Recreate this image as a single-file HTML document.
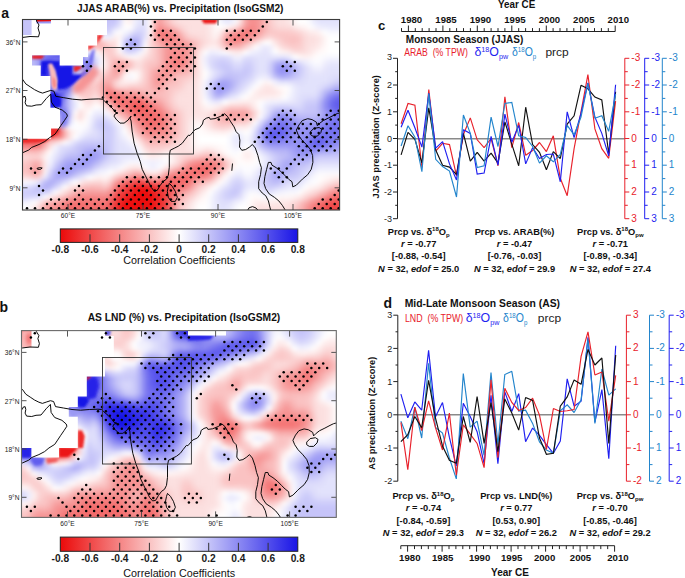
<!DOCTYPE html><html><head><meta charset="utf-8"><style>html,body{margin:0;padding:0;background:#fff;overflow:hidden}svg{display:block}text{font-family:"Liberation Sans",sans-serif}</style></head><body><svg width="685" height="578" viewBox="0 0 685 578" font-family='"Liberation Sans", sans-serif'><rect width="685" height="578" fill="#fff"/><clipPath id="clipA"><rect x="22.5" y="19.5" width="317.1" height="190.5"/></clipPath><filter id="blurA" x="-10%" y="-10%" width="120%" height="120%"><feGaussianBlur stdDeviation="2.2"/></filter><g clip-path="url(#clipA)"><g filter="url(#blurA)"><path fill="#c6c4f9" d="M2.5 -0.5h55.4v5.4h-55.4zM97.5 -0.5h20.4v5.4h-20.4zM2.5 4.5h55.4v5.4h-55.4zM97.5 4.5h20.4v5.4h-20.4zM2.5 9.5h55.4v5.4h-55.4zM97.5 9.5h20.4v5.4h-20.4zM2.5 14.5h55.4v5.4h-55.4zM97.5 14.5h20.4v5.4h-20.4zM2.5 19.5h55.4v5.4h-55.4zM97.5 19.5h20.4v5.4h-20.4zM2.5 24.5h45.4v5.4h-45.4zM2.5 29.5h45.4v5.4h-45.4zM2.5 34.5h35.4v5.4h-35.4zM2.5 39.5h35.4v5.4h-35.4zM2.5 44.5h25.4v5.4h-25.4zM2.5 49.5h25.4v5.4h-25.4zM2.5 54.5h25.4v5.4h-25.4zM2.5 59.5h25.4v5.4h-25.4zM2.5 64.5h25.4v5.4h-25.4zM2.5 69.5h25.4v5.4h-25.4zM307.5 104.5h10.4v5.4h-10.4zM307.5 109.5h10.4v5.4h-10.4z"/><path fill="#eae9fd" d="M57.5 -0.5h5.4v5.4h-5.4zM57.5 4.5h5.4v5.4h-5.4zM57.5 9.5h5.4v5.4h-5.4zM57.5 14.5h5.4v5.4h-5.4zM57.5 19.5h5.4v5.4h-5.4zM212.5 99.5h5.4v5.4h-5.4z"/><path fill="#fbc9c9" d="M62.5 -0.5h5.4v5.4h-5.4zM167.5 -0.5h5.4v5.4h-5.4zM267.5 -0.5h5.4v5.4h-5.4zM62.5 4.5h5.4v5.4h-5.4zM167.5 4.5h5.4v5.4h-5.4zM267.5 4.5h5.4v5.4h-5.4zM62.5 9.5h5.4v5.4h-5.4zM167.5 9.5h5.4v5.4h-5.4zM267.5 9.5h5.4v5.4h-5.4zM62.5 14.5h5.4v5.4h-5.4zM167.5 14.5h5.4v5.4h-5.4zM267.5 14.5h5.4v5.4h-5.4zM62.5 19.5h5.4v5.4h-5.4zM167.5 19.5h5.4v5.4h-5.4zM267.5 19.5h5.4v5.4h-5.4zM277.5 29.5h10.4v5.4h-10.4zM297.5 34.5h5.4v5.4h-5.4zM297.5 39.5h5.4v5.4h-5.4zM107.5 44.5h5.4v5.4h-5.4zM152.5 44.5h5.4v5.4h-5.4zM107.5 49.5h5.4v5.4h-5.4zM152.5 49.5h5.4v5.4h-5.4zM82.5 89.5h5.4v5.4h-5.4zM167.5 94.5h5.4v5.4h-5.4zM167.5 99.5h5.4v5.4h-5.4zM177.5 114.5h5.4v5.4h-5.4zM212.5 114.5h5.4v5.4h-5.4zM177.5 119.5h5.4v5.4h-5.4zM212.5 119.5h5.4v5.4h-5.4zM177.5 124.5h5.4v5.4h-5.4zM177.5 129.5h5.4v5.4h-5.4zM147.5 144.5h10.4v5.4h-10.4zM2.5 159.5h25.4v5.4h-25.4zM177.5 204.5h5.4v5.4h-5.4zM292.5 204.5h5.4v5.4h-5.4zM177.5 209.5h5.4v5.4h-5.4zM292.5 209.5h5.4v5.4h-5.4zM177.5 214.5h5.4v5.4h-5.4zM292.5 214.5h5.4v5.4h-5.4zM177.5 219.5h5.4v5.4h-5.4zM292.5 219.5h5.4v5.4h-5.4zM177.5 224.5h5.4v5.4h-5.4zM292.5 224.5h5.4v5.4h-5.4z"/><path fill="#f79e9e" d="M67.5 -0.5h5.4v5.4h-5.4zM67.5 4.5h5.4v5.4h-5.4zM67.5 9.5h5.4v5.4h-5.4zM67.5 14.5h5.4v5.4h-5.4zM67.5 19.5h5.4v5.4h-5.4zM187.5 159.5h5.4v5.4h-5.4z"/><path fill="#f69595" d="M72.5 -0.5h5.4v5.4h-5.4zM72.5 4.5h5.4v5.4h-5.4zM72.5 9.5h5.4v5.4h-5.4zM72.5 14.5h5.4v5.4h-5.4zM72.5 19.5h5.4v5.4h-5.4zM217.5 164.5h5.4v5.4h-5.4z"/><path fill="#f8a7a7" d="M77.5 -0.5h5.4v5.4h-5.4zM77.5 4.5h5.4v5.4h-5.4zM77.5 9.5h5.4v5.4h-5.4zM77.5 14.5h5.4v5.4h-5.4zM77.5 19.5h5.4v5.4h-5.4zM222.5 39.5h5.4v5.4h-5.4z"/><path fill="#fcd4d4" d="M82.5 -0.5h5.4v5.4h-5.4zM82.5 4.5h5.4v5.4h-5.4zM82.5 9.5h5.4v5.4h-5.4zM82.5 14.5h5.4v5.4h-5.4zM82.5 19.5h5.4v5.4h-5.4zM52.5 139.5h5.4v5.4h-5.4z"/><path fill="#ffffff" d="M87.5 -0.5h5.4v5.4h-5.4zM297.5 -0.5h10.4v5.4h-10.4zM87.5 4.5h5.4v5.4h-5.4zM297.5 4.5h10.4v5.4h-10.4zM87.5 9.5h5.4v5.4h-5.4zM297.5 9.5h10.4v5.4h-10.4zM87.5 14.5h5.4v5.4h-5.4zM297.5 14.5h10.4v5.4h-10.4zM87.5 19.5h5.4v5.4h-5.4zM297.5 19.5h10.4v5.4h-10.4zM327.5 34.5h35.4v5.4h-35.4zM117.5 39.5h5.4v5.4h-5.4zM327.5 39.5h35.4v5.4h-35.4zM117.5 44.5h5.4v5.4h-5.4zM327.5 44.5h35.4v5.4h-35.4zM222.5 49.5h5.4v5.4h-5.4zM327.5 49.5h35.4v5.4h-35.4zM252.5 84.5h5.4v5.4h-5.4zM247.5 89.5h5.4v5.4h-5.4zM77.5 104.5h5.4v5.4h-5.4zM92.5 104.5h5.4v5.4h-5.4zM87.5 109.5h5.4v5.4h-5.4zM197.5 134.5h30.4v5.4h-30.4zM197.5 139.5h30.4v5.4h-30.4zM242.5 144.5h5.4v5.4h-5.4zM237.5 149.5h5.4v5.4h-5.4zM212.5 184.5h5.4v5.4h-5.4zM302.5 184.5h5.4v5.4h-5.4zM207.5 189.5h5.4v5.4h-5.4zM297.5 189.5h5.4v5.4h-5.4zM2.5 204.5h25.4v5.4h-25.4zM197.5 204.5h10.4v5.4h-10.4zM237.5 204.5h10.4v5.4h-10.4zM2.5 209.5h25.4v5.4h-25.4zM197.5 209.5h10.4v5.4h-10.4zM237.5 209.5h10.4v5.4h-10.4zM2.5 214.5h25.4v5.4h-25.4zM197.5 214.5h10.4v5.4h-10.4zM237.5 214.5h10.4v5.4h-10.4zM2.5 219.5h25.4v5.4h-25.4zM197.5 219.5h10.4v5.4h-10.4zM237.5 219.5h10.4v5.4h-10.4zM2.5 224.5h25.4v5.4h-25.4zM197.5 224.5h10.4v5.4h-10.4zM237.5 224.5h10.4v5.4h-10.4z"/><path fill="#d9d8fb" d="M92.5 -0.5h5.4v5.4h-5.4zM92.5 4.5h5.4v5.4h-5.4zM92.5 9.5h5.4v5.4h-5.4zM92.5 14.5h5.4v5.4h-5.4zM92.5 19.5h5.4v5.4h-5.4zM87.5 74.5h5.4v5.4h-5.4zM92.5 119.5h5.4v5.4h-5.4zM52.5 159.5h5.4v5.4h-5.4zM97.5 164.5h5.4v5.4h-5.4zM277.5 184.5h5.4v5.4h-5.4zM32.5 194.5h5.4v5.4h-5.4z"/><path fill="#dbdafb" d="M117.5 -0.5h5.4v5.4h-5.4zM117.5 4.5h5.4v5.4h-5.4zM117.5 9.5h5.4v5.4h-5.4zM117.5 14.5h5.4v5.4h-5.4zM117.5 19.5h5.4v5.4h-5.4zM217.5 54.5h10.4v5.4h-10.4zM252.5 64.5h5.4v5.4h-5.4zM302.5 64.5h5.4v5.4h-5.4zM252.5 69.5h5.4v5.4h-5.4zM302.5 69.5h5.4v5.4h-5.4zM337.5 74.5h25.4v5.4h-25.4zM307.5 94.5h10.4v5.4h-10.4zM97.5 114.5h10.4v5.4h-10.4zM112.5 124.5h5.4v5.4h-5.4zM112.5 129.5h5.4v5.4h-5.4zM252.5 129.5h5.4v5.4h-5.4zM87.5 134.5h10.4v5.4h-10.4zM112.5 134.5h5.4v5.4h-5.4zM112.5 139.5h5.4v5.4h-5.4zM112.5 144.5h5.4v5.4h-5.4zM112.5 149.5h5.4v5.4h-5.4zM267.5 154.5h5.4v5.4h-5.4zM267.5 159.5h5.4v5.4h-5.4zM317.5 159.5h45.4v5.4h-45.4zM257.5 174.5h5.4v5.4h-5.4zM257.5 179.5h5.4v5.4h-5.4zM287.5 179.5h10.4v5.4h-10.4zM2.5 184.5h25.4v5.4h-25.4z"/><path fill="#fef7f7" d="M122.5 -0.5h5.4v5.4h-5.4zM212.5 -0.5h5.4v5.4h-5.4zM292.5 -0.5h5.4v5.4h-5.4zM122.5 4.5h5.4v5.4h-5.4zM212.5 4.5h5.4v5.4h-5.4zM292.5 4.5h5.4v5.4h-5.4zM122.5 9.5h5.4v5.4h-5.4zM212.5 9.5h5.4v5.4h-5.4zM292.5 9.5h5.4v5.4h-5.4zM122.5 14.5h5.4v5.4h-5.4zM212.5 14.5h5.4v5.4h-5.4zM292.5 14.5h5.4v5.4h-5.4zM122.5 19.5h5.4v5.4h-5.4zM212.5 19.5h5.4v5.4h-5.4zM292.5 19.5h5.4v5.4h-5.4zM212.5 24.5h5.4v5.4h-5.4zM212.5 29.5h5.4v5.4h-5.4zM322.5 34.5h5.4v5.4h-5.4zM322.5 39.5h5.4v5.4h-5.4zM42.5 114.5h5.4v5.4h-5.4zM192.5 124.5h5.4v5.4h-5.4zM247.5 124.5h5.4v5.4h-5.4zM192.5 129.5h5.4v5.4h-5.4zM227.5 129.5h5.4v5.4h-5.4zM192.5 134.5h5.4v5.4h-5.4zM192.5 139.5h5.4v5.4h-5.4zM137.5 144.5h5.4v5.4h-5.4zM167.5 154.5h5.4v5.4h-5.4zM167.5 159.5h5.4v5.4h-5.4zM122.5 164.5h5.4v5.4h-5.4zM277.5 194.5h10.4v5.4h-10.4zM27.5 204.5h5.4v5.4h-5.4zM192.5 204.5h5.4v5.4h-5.4zM247.5 204.5h5.4v5.4h-5.4zM27.5 209.5h5.4v5.4h-5.4zM192.5 209.5h5.4v5.4h-5.4zM247.5 209.5h5.4v5.4h-5.4zM27.5 214.5h5.4v5.4h-5.4zM192.5 214.5h5.4v5.4h-5.4zM247.5 214.5h5.4v5.4h-5.4zM27.5 219.5h5.4v5.4h-5.4zM192.5 219.5h5.4v5.4h-5.4zM247.5 219.5h5.4v5.4h-5.4zM27.5 224.5h5.4v5.4h-5.4zM192.5 224.5h5.4v5.4h-5.4zM247.5 224.5h5.4v5.4h-5.4z"/><path fill="#fef0f0" d="M127.5 -0.5h5.4v5.4h-5.4zM127.5 4.5h5.4v5.4h-5.4zM127.5 9.5h5.4v5.4h-5.4zM127.5 14.5h5.4v5.4h-5.4zM127.5 19.5h5.4v5.4h-5.4zM72.5 34.5h5.4v5.4h-5.4zM112.5 34.5h5.4v5.4h-5.4zM207.5 44.5h10.4v5.4h-10.4zM137.5 54.5h5.4v5.4h-5.4zM197.5 54.5h5.4v5.4h-5.4zM197.5 59.5h5.4v5.4h-5.4zM197.5 84.5h5.4v5.4h-5.4zM197.5 89.5h5.4v5.4h-5.4zM252.5 89.5h5.4v5.4h-5.4zM267.5 94.5h10.4v5.4h-10.4zM92.5 99.5h5.4v5.4h-5.4zM82.5 104.5h10.4v5.4h-10.4zM82.5 109.5h5.4v5.4h-5.4zM107.5 109.5h5.4v5.4h-5.4zM32.5 114.5h5.4v5.4h-5.4zM217.5 129.5h10.4v5.4h-10.4zM242.5 149.5h5.4v5.4h-5.4zM147.5 154.5h10.4v5.4h-10.4zM147.5 169.5h10.4v5.4h-10.4zM337.5 174.5h25.4v5.4h-25.4zM77.5 179.5h5.4v5.4h-5.4zM207.5 184.5h5.4v5.4h-5.4zM202.5 189.5h5.4v5.4h-5.4zM302.5 189.5h5.4v5.4h-5.4zM192.5 199.5h5.4v5.4h-5.4z"/><path fill="#f1f0fd" d="M132.5 -0.5h5.4v5.4h-5.4zM132.5 4.5h5.4v5.4h-5.4zM132.5 9.5h5.4v5.4h-5.4zM132.5 14.5h5.4v5.4h-5.4zM132.5 19.5h5.4v5.4h-5.4zM107.5 34.5h5.4v5.4h-5.4zM207.5 49.5h10.4v5.4h-10.4zM202.5 54.5h5.4v5.4h-5.4zM232.5 54.5h10.4v5.4h-10.4zM202.5 59.5h5.4v5.4h-5.4zM207.5 69.5h5.4v5.4h-5.4zM252.5 79.5h5.4v5.4h-5.4zM202.5 84.5h5.4v5.4h-5.4zM247.5 84.5h5.4v5.4h-5.4zM202.5 89.5h5.4v5.4h-5.4zM242.5 89.5h5.4v5.4h-5.4zM267.5 99.5h10.4v5.4h-10.4zM92.5 109.5h5.4v5.4h-5.4zM247.5 134.5h5.4v5.4h-5.4zM247.5 139.5h5.4v5.4h-5.4zM237.5 144.5h5.4v5.4h-5.4zM147.5 159.5h10.4v5.4h-10.4zM147.5 164.5h10.4v5.4h-10.4zM257.5 164.5h5.4v5.4h-5.4zM312.5 169.5h5.4v5.4h-5.4zM82.5 174.5h5.4v5.4h-5.4zM227.5 174.5h5.4v5.4h-5.4zM242.5 174.5h5.4v5.4h-5.4zM302.5 179.5h5.4v5.4h-5.4zM217.5 184.5h5.4v5.4h-5.4zM297.5 184.5h5.4v5.4h-5.4zM212.5 189.5h5.4v5.4h-5.4zM257.5 189.5h5.4v5.4h-5.4zM2.5 199.5h25.4v5.4h-25.4z"/><path fill="#e2e2fc" d="M137.5 -0.5h10.4v5.4h-10.4zM317.5 -0.5h45.4v5.4h-45.4zM137.5 4.5h10.4v5.4h-10.4zM317.5 4.5h45.4v5.4h-45.4zM137.5 9.5h10.4v5.4h-10.4zM317.5 9.5h45.4v5.4h-45.4zM137.5 14.5h10.4v5.4h-10.4zM317.5 14.5h45.4v5.4h-45.4zM137.5 19.5h10.4v5.4h-10.4zM317.5 19.5h45.4v5.4h-45.4zM227.5 54.5h5.4v5.4h-5.4zM242.5 54.5h5.4v5.4h-5.4zM257.5 54.5h10.4v5.4h-10.4zM232.5 59.5h10.4v5.4h-10.4zM257.5 59.5h10.4v5.4h-10.4zM207.5 64.5h5.4v5.4h-5.4zM257.5 64.5h10.4v5.4h-10.4zM327.5 64.5h35.4v5.4h-35.4zM212.5 69.5h5.4v5.4h-5.4zM257.5 69.5h10.4v5.4h-10.4zM327.5 69.5h35.4v5.4h-35.4zM252.5 74.5h5.4v5.4h-5.4zM307.5 74.5h20.4v5.4h-20.4zM247.5 79.5h5.4v5.4h-5.4zM307.5 79.5h20.4v5.4h-20.4zM242.5 84.5h5.4v5.4h-5.4zM297.5 84.5h20.4v5.4h-20.4zM237.5 89.5h5.4v5.4h-5.4zM297.5 89.5h20.4v5.4h-20.4zM117.5 144.5h10.4v5.4h-10.4zM117.5 149.5h10.4v5.4h-10.4zM262.5 164.5h5.4v5.4h-5.4zM312.5 164.5h5.4v5.4h-5.4zM257.5 169.5h5.4v5.4h-5.4zM307.5 169.5h5.4v5.4h-5.4zM77.5 174.5h5.4v5.4h-5.4zM232.5 174.5h10.4v5.4h-10.4zM302.5 174.5h5.4v5.4h-5.4zM227.5 179.5h5.4v5.4h-5.4zM242.5 179.5h5.4v5.4h-5.4zM297.5 179.5h5.4v5.4h-5.4zM222.5 184.5h5.4v5.4h-5.4zM257.5 184.5h5.4v5.4h-5.4zM217.5 189.5h5.4v5.4h-5.4zM262.5 189.5h5.4v5.4h-5.4zM217.5 204.5h10.4v5.4h-10.4zM217.5 209.5h10.4v5.4h-10.4zM217.5 214.5h10.4v5.4h-10.4zM217.5 219.5h10.4v5.4h-10.4zM217.5 224.5h10.4v5.4h-10.4z"/><path fill="#fffafa" d="M147.5 -0.5h5.4v5.4h-5.4zM147.5 4.5h5.4v5.4h-5.4zM147.5 9.5h5.4v5.4h-5.4zM147.5 14.5h5.4v5.4h-5.4zM147.5 19.5h5.4v5.4h-5.4zM127.5 54.5h5.4v5.4h-5.4zM127.5 69.5h5.4v5.4h-5.4zM267.5 79.5h5.4v5.4h-5.4zM47.5 114.5h5.4v5.4h-5.4z"/><path fill="#f9b4b4" d="M152.5 -0.5h5.4v5.4h-5.4zM152.5 4.5h5.4v5.4h-5.4zM152.5 9.5h5.4v5.4h-5.4zM152.5 14.5h5.4v5.4h-5.4zM152.5 19.5h5.4v5.4h-5.4zM167.5 24.5h5.4v5.4h-5.4zM177.5 29.5h5.4v5.4h-5.4zM182.5 159.5h5.4v5.4h-5.4zM177.5 164.5h5.4v5.4h-5.4zM332.5 184.5h5.4v5.4h-5.4zM62.5 194.5h5.4v5.4h-5.4zM312.5 194.5h5.4v5.4h-5.4z"/><path fill="#f79d9d" d="M157.5 -0.5h5.4v5.4h-5.4zM257.5 -0.5h5.4v5.4h-5.4zM157.5 4.5h5.4v5.4h-5.4zM257.5 4.5h5.4v5.4h-5.4zM157.5 9.5h5.4v5.4h-5.4zM257.5 9.5h5.4v5.4h-5.4zM157.5 14.5h5.4v5.4h-5.4zM257.5 14.5h5.4v5.4h-5.4zM157.5 19.5h5.4v5.4h-5.4zM257.5 19.5h5.4v5.4h-5.4zM257.5 24.5h5.4v5.4h-5.4zM257.5 29.5h5.4v5.4h-5.4zM162.5 44.5h5.4v5.4h-5.4zM162.5 49.5h5.4v5.4h-5.4zM162.5 54.5h5.4v5.4h-5.4zM162.5 59.5h5.4v5.4h-5.4zM152.5 74.5h5.4v5.4h-5.4zM152.5 79.5h5.4v5.4h-5.4zM167.5 114.5h5.4v5.4h-5.4zM167.5 119.5h5.4v5.4h-5.4zM167.5 124.5h5.4v5.4h-5.4zM167.5 129.5h5.4v5.4h-5.4zM147.5 134.5h20.4v5.4h-20.4zM32.5 164.5h5.4v5.4h-5.4zM32.5 169.5h5.4v5.4h-5.4zM87.5 189.5h10.4v5.4h-10.4zM302.5 204.5h5.4v5.4h-5.4zM302.5 209.5h5.4v5.4h-5.4zM302.5 214.5h5.4v5.4h-5.4zM302.5 219.5h5.4v5.4h-5.4zM302.5 224.5h5.4v5.4h-5.4z"/><path fill="#f9b6b6" d="M162.5 -0.5h5.4v5.4h-5.4zM262.5 -0.5h5.4v5.4h-5.4zM162.5 4.5h5.4v5.4h-5.4zM262.5 4.5h5.4v5.4h-5.4zM162.5 9.5h5.4v5.4h-5.4zM262.5 9.5h5.4v5.4h-5.4zM162.5 14.5h5.4v5.4h-5.4zM262.5 14.5h5.4v5.4h-5.4zM162.5 19.5h5.4v5.4h-5.4zM262.5 19.5h5.4v5.4h-5.4zM262.5 24.5h5.4v5.4h-5.4zM262.5 29.5h5.4v5.4h-5.4zM157.5 44.5h5.4v5.4h-5.4zM157.5 49.5h5.4v5.4h-5.4zM157.5 54.5h5.4v5.4h-5.4zM157.5 59.5h5.4v5.4h-5.4zM147.5 74.5h5.4v5.4h-5.4zM147.5 79.5h5.4v5.4h-5.4zM247.5 109.5h5.4v5.4h-5.4zM172.5 114.5h5.4v5.4h-5.4zM172.5 119.5h5.4v5.4h-5.4zM172.5 124.5h5.4v5.4h-5.4zM172.5 129.5h5.4v5.4h-5.4zM147.5 139.5h20.4v5.4h-20.4zM27.5 164.5h5.4v5.4h-5.4zM27.5 169.5h5.4v5.4h-5.4zM132.5 169.5h5.4v5.4h-5.4zM87.5 184.5h10.4v5.4h-10.4zM297.5 204.5h5.4v5.4h-5.4zM297.5 209.5h5.4v5.4h-5.4zM297.5 214.5h5.4v5.4h-5.4zM297.5 219.5h5.4v5.4h-5.4zM297.5 224.5h5.4v5.4h-5.4z"/><path fill="#fcd9d9" d="M172.5 -0.5h5.4v5.4h-5.4zM272.5 -0.5h5.4v5.4h-5.4zM172.5 4.5h5.4v5.4h-5.4zM272.5 4.5h5.4v5.4h-5.4zM172.5 9.5h5.4v5.4h-5.4zM272.5 9.5h5.4v5.4h-5.4zM172.5 14.5h5.4v5.4h-5.4zM272.5 14.5h5.4v5.4h-5.4zM172.5 19.5h5.4v5.4h-5.4zM272.5 19.5h5.4v5.4h-5.4zM277.5 24.5h10.4v5.4h-10.4zM302.5 34.5h5.4v5.4h-5.4zM302.5 39.5h5.4v5.4h-5.4zM112.5 44.5h5.4v5.4h-5.4zM147.5 44.5h5.4v5.4h-5.4zM112.5 49.5h5.4v5.4h-5.4zM147.5 49.5h5.4v5.4h-5.4zM82.5 84.5h5.4v5.4h-5.4zM77.5 89.5h5.4v5.4h-5.4zM172.5 94.5h5.4v5.4h-5.4zM172.5 99.5h5.4v5.4h-5.4zM182.5 114.5h5.4v5.4h-5.4zM207.5 114.5h5.4v5.4h-5.4zM182.5 119.5h5.4v5.4h-5.4zM207.5 119.5h5.4v5.4h-5.4zM182.5 124.5h5.4v5.4h-5.4zM227.5 124.5h5.4v5.4h-5.4zM182.5 129.5h5.4v5.4h-5.4zM142.5 144.5h5.4v5.4h-5.4zM147.5 149.5h10.4v5.4h-10.4zM2.5 154.5h25.4v5.4h-25.4zM37.5 154.5h5.4v5.4h-5.4zM122.5 169.5h5.4v5.4h-5.4zM2.5 174.5h25.4v5.4h-25.4zM37.5 174.5h5.4v5.4h-5.4zM182.5 204.5h5.4v5.4h-5.4zM287.5 204.5h5.4v5.4h-5.4zM182.5 209.5h5.4v5.4h-5.4zM287.5 209.5h5.4v5.4h-5.4zM182.5 214.5h5.4v5.4h-5.4zM287.5 214.5h5.4v5.4h-5.4zM182.5 219.5h5.4v5.4h-5.4zM287.5 219.5h5.4v5.4h-5.4zM182.5 224.5h5.4v5.4h-5.4zM287.5 224.5h5.4v5.4h-5.4z"/><path fill="#fce0e0" d="M177.5 -0.5h30.4v5.4h-30.4zM277.5 -0.5h10.4v5.4h-10.4zM177.5 4.5h30.4v5.4h-30.4zM277.5 4.5h10.4v5.4h-10.4zM177.5 9.5h30.4v5.4h-30.4zM277.5 9.5h10.4v5.4h-10.4zM177.5 14.5h30.4v5.4h-30.4zM277.5 14.5h10.4v5.4h-10.4zM177.5 19.5h30.4v5.4h-30.4zM277.5 19.5h10.4v5.4h-10.4zM187.5 24.5h20.4v5.4h-20.4zM187.5 29.5h20.4v5.4h-20.4zM307.5 34.5h10.4v5.4h-10.4zM107.5 39.5h10.4v5.4h-10.4zM307.5 39.5h10.4v5.4h-10.4zM142.5 54.5h5.4v5.4h-5.4zM137.5 59.5h5.4v5.4h-5.4zM122.5 69.5h5.4v5.4h-5.4zM187.5 84.5h10.4v5.4h-10.4zM187.5 89.5h10.4v5.4h-10.4zM92.5 94.5h5.4v5.4h-5.4zM177.5 94.5h20.4v5.4h-20.4zM87.5 99.5h5.4v5.4h-5.4zM177.5 99.5h20.4v5.4h-20.4zM187.5 104.5h10.4v5.4h-10.4zM77.5 109.5h5.4v5.4h-5.4zM187.5 109.5h10.4v5.4h-10.4zM177.5 144.5h10.4v5.4h-10.4zM177.5 149.5h10.4v5.4h-10.4zM82.5 179.5h5.4v5.4h-5.4zM202.5 184.5h5.4v5.4h-5.4zM197.5 189.5h5.4v5.4h-5.4zM192.5 194.5h5.4v5.4h-5.4zM187.5 199.5h5.4v5.4h-5.4zM257.5 204.5h30.4v5.4h-30.4zM257.5 209.5h30.4v5.4h-30.4zM257.5 214.5h30.4v5.4h-30.4zM257.5 219.5h30.4v5.4h-30.4zM257.5 224.5h30.4v5.4h-30.4z"/><path fill="#fde8e8" d="M207.5 -0.5h5.4v5.4h-5.4zM287.5 -0.5h5.4v5.4h-5.4zM207.5 4.5h5.4v5.4h-5.4zM287.5 4.5h5.4v5.4h-5.4zM207.5 9.5h5.4v5.4h-5.4zM287.5 9.5h5.4v5.4h-5.4zM207.5 14.5h5.4v5.4h-5.4zM287.5 14.5h5.4v5.4h-5.4zM207.5 19.5h5.4v5.4h-5.4zM287.5 19.5h5.4v5.4h-5.4zM207.5 24.5h5.4v5.4h-5.4zM207.5 29.5h5.4v5.4h-5.4zM317.5 34.5h5.4v5.4h-5.4zM317.5 39.5h5.4v5.4h-5.4zM187.5 124.5h5.4v5.4h-5.4zM232.5 124.5h5.4v5.4h-5.4zM187.5 129.5h5.4v5.4h-5.4zM187.5 134.5h5.4v5.4h-5.4zM187.5 139.5h5.4v5.4h-5.4zM142.5 149.5h5.4v5.4h-5.4zM172.5 154.5h5.4v5.4h-5.4zM42.5 159.5h5.4v5.4h-5.4zM172.5 159.5h5.4v5.4h-5.4zM117.5 169.5h5.4v5.4h-5.4zM277.5 199.5h10.4v5.4h-10.4zM32.5 204.5h5.4v5.4h-5.4zM187.5 204.5h5.4v5.4h-5.4zM252.5 204.5h5.4v5.4h-5.4zM32.5 209.5h5.4v5.4h-5.4zM187.5 209.5h5.4v5.4h-5.4zM252.5 209.5h5.4v5.4h-5.4zM32.5 214.5h5.4v5.4h-5.4zM187.5 214.5h5.4v5.4h-5.4zM252.5 214.5h5.4v5.4h-5.4zM32.5 219.5h5.4v5.4h-5.4zM187.5 219.5h5.4v5.4h-5.4zM252.5 219.5h5.4v5.4h-5.4zM32.5 224.5h5.4v5.4h-5.4zM187.5 224.5h5.4v5.4h-5.4zM252.5 224.5h5.4v5.4h-5.4z"/><path fill="#f8f8fe" d="M217.5 -0.5h5.4v5.4h-5.4zM232.5 -0.5h5.4v5.4h-5.4zM307.5 -0.5h5.4v5.4h-5.4zM217.5 4.5h5.4v5.4h-5.4zM232.5 4.5h5.4v5.4h-5.4zM307.5 4.5h5.4v5.4h-5.4zM217.5 9.5h5.4v5.4h-5.4zM232.5 9.5h5.4v5.4h-5.4zM307.5 9.5h5.4v5.4h-5.4zM217.5 14.5h5.4v5.4h-5.4zM232.5 14.5h5.4v5.4h-5.4zM307.5 14.5h5.4v5.4h-5.4zM217.5 19.5h5.4v5.4h-5.4zM232.5 19.5h5.4v5.4h-5.4zM307.5 19.5h5.4v5.4h-5.4zM327.5 29.5h35.4v5.4h-35.4zM327.5 54.5h35.4v5.4h-35.4zM77.5 84.5h5.4v5.4h-5.4zM287.5 84.5h5.4v5.4h-5.4zM287.5 89.5h5.4v5.4h-5.4zM232.5 129.5h5.4v5.4h-5.4zM247.5 129.5h5.4v5.4h-5.4zM227.5 134.5h5.4v5.4h-5.4zM242.5 134.5h5.4v5.4h-5.4zM227.5 139.5h5.4v5.4h-5.4zM242.5 139.5h5.4v5.4h-5.4zM137.5 149.5h5.4v5.4h-5.4zM257.5 154.5h5.4v5.4h-5.4zM127.5 159.5h10.4v5.4h-10.4zM257.5 159.5h5.4v5.4h-5.4zM117.5 164.5h5.4v5.4h-5.4zM317.5 169.5h45.4v5.4h-45.4zM2.5 179.5h25.4v5.4h-25.4zM247.5 189.5h10.4v5.4h-10.4zM287.5 189.5h10.4v5.4h-10.4zM207.5 194.5h5.4v5.4h-5.4zM207.5 199.5h5.4v5.4h-5.4zM207.5 204.5h5.4v5.4h-5.4zM232.5 204.5h5.4v5.4h-5.4zM207.5 209.5h5.4v5.4h-5.4zM232.5 209.5h5.4v5.4h-5.4zM207.5 214.5h5.4v5.4h-5.4zM232.5 214.5h5.4v5.4h-5.4zM207.5 219.5h5.4v5.4h-5.4zM232.5 219.5h5.4v5.4h-5.4zM207.5 224.5h5.4v5.4h-5.4zM232.5 224.5h5.4v5.4h-5.4z"/><path fill="#e9e9fd" d="M222.5 -0.5h10.4v5.4h-10.4zM312.5 -0.5h5.4v5.4h-5.4zM222.5 4.5h10.4v5.4h-10.4zM312.5 4.5h5.4v5.4h-5.4zM222.5 9.5h10.4v5.4h-10.4zM312.5 9.5h5.4v5.4h-5.4zM222.5 14.5h10.4v5.4h-10.4zM312.5 14.5h5.4v5.4h-5.4zM222.5 19.5h10.4v5.4h-10.4zM312.5 19.5h5.4v5.4h-5.4zM327.5 24.5h35.4v5.4h-35.4zM327.5 59.5h35.4v5.4h-35.4zM292.5 84.5h5.4v5.4h-5.4zM292.5 89.5h5.4v5.4h-5.4zM252.5 124.5h5.4v5.4h-5.4zM232.5 134.5h10.4v5.4h-10.4zM232.5 139.5h10.4v5.4h-10.4zM127.5 154.5h10.4v5.4h-10.4zM262.5 154.5h5.4v5.4h-5.4zM262.5 159.5h5.4v5.4h-5.4zM317.5 164.5h45.4v5.4h-45.4zM247.5 184.5h10.4v5.4h-10.4zM287.5 184.5h10.4v5.4h-10.4zM212.5 194.5h5.4v5.4h-5.4zM212.5 199.5h5.4v5.4h-5.4zM212.5 204.5h5.4v5.4h-5.4zM227.5 204.5h5.4v5.4h-5.4zM212.5 209.5h5.4v5.4h-5.4zM227.5 209.5h5.4v5.4h-5.4zM212.5 214.5h5.4v5.4h-5.4zM227.5 214.5h5.4v5.4h-5.4zM212.5 219.5h5.4v5.4h-5.4zM227.5 219.5h5.4v5.4h-5.4zM212.5 224.5h5.4v5.4h-5.4zM227.5 224.5h5.4v5.4h-5.4z"/><path fill="#fde3e3" d="M237.5 -0.5h5.4v5.4h-5.4zM237.5 4.5h5.4v5.4h-5.4zM237.5 9.5h5.4v5.4h-5.4zM237.5 14.5h5.4v5.4h-5.4zM237.5 19.5h5.4v5.4h-5.4z"/><path fill="#f8acac" d="M242.5 -0.5h5.4v5.4h-5.4zM242.5 4.5h5.4v5.4h-5.4zM242.5 9.5h5.4v5.4h-5.4zM242.5 14.5h5.4v5.4h-5.4zM242.5 19.5h5.4v5.4h-5.4zM157.5 64.5h5.4v5.4h-5.4zM162.5 79.5h5.4v5.4h-5.4zM137.5 89.5h5.4v5.4h-5.4zM337.5 184.5h25.4v5.4h-25.4z"/><path fill="#f69191" d="M247.5 -0.5h10.4v5.4h-10.4zM247.5 4.5h10.4v5.4h-10.4zM247.5 9.5h10.4v5.4h-10.4zM247.5 14.5h10.4v5.4h-10.4zM247.5 19.5h10.4v5.4h-10.4zM157.5 24.5h5.4v5.4h-5.4zM162.5 39.5h5.4v5.4h-5.4zM237.5 39.5h5.4v5.4h-5.4zM167.5 44.5h20.4v5.4h-20.4zM167.5 49.5h20.4v5.4h-20.4zM122.5 109.5h5.4v5.4h-5.4zM177.5 189.5h5.4v5.4h-5.4zM72.5 194.5h5.4v5.4h-5.4zM47.5 204.5h10.4v5.4h-10.4zM47.5 209.5h10.4v5.4h-10.4zM47.5 214.5h10.4v5.4h-10.4zM47.5 219.5h10.4v5.4h-10.4zM47.5 224.5h10.4v5.4h-10.4z"/><path fill="#c2c1f8" d="M47.5 24.5h5.4v5.4h-5.4zM37.5 34.5h5.4v5.4h-5.4zM232.5 84.5h5.4v5.4h-5.4zM227.5 89.5h5.4v5.4h-5.4zM62.5 154.5h5.4v5.4h-5.4zM102.5 154.5h5.4v5.4h-5.4zM312.5 154.5h5.4v5.4h-5.4zM57.5 159.5h5.4v5.4h-5.4zM97.5 159.5h5.4v5.4h-5.4zM307.5 159.5h5.4v5.4h-5.4zM272.5 164.5h5.4v5.4h-5.4zM267.5 169.5h5.4v5.4h-5.4zM282.5 174.5h5.4v5.4h-5.4zM277.5 179.5h5.4v5.4h-5.4z"/><path fill="#bcbbf8" d="M52.5 24.5h5.4v5.4h-5.4zM47.5 29.5h5.4v5.4h-5.4z"/><path fill="#d8d8fb" d="M57.5 24.5h5.4v5.4h-5.4z"/><path fill="#fde5e5" d="M62.5 24.5h5.4v5.4h-5.4zM97.5 99.5h5.4v5.4h-5.4zM222.5 154.5h5.4v5.4h-5.4zM212.5 179.5h5.4v5.4h-5.4z"/><path fill="#f9b9b9" d="M67.5 24.5h5.4v5.4h-5.4zM152.5 64.5h5.4v5.4h-5.4zM147.5 69.5h5.4v5.4h-5.4zM172.5 74.5h5.4v5.4h-5.4zM167.5 79.5h5.4v5.4h-5.4zM97.5 84.5h5.4v5.4h-5.4zM147.5 84.5h5.4v5.4h-5.4zM162.5 84.5h5.4v5.4h-5.4zM152.5 89.5h10.4v5.4h-10.4zM157.5 94.5h5.4v5.4h-5.4zM162.5 99.5h5.4v5.4h-5.4zM217.5 114.5h5.4v5.4h-5.4zM222.5 119.5h5.4v5.4h-5.4z"/><path fill="#f8a4a4" d="M72.5 24.5h5.4v5.4h-5.4zM167.5 169.5h5.4v5.4h-5.4z"/><path fill="#f8a8a8" d="M77.5 24.5h5.4v5.4h-5.4zM82.5 29.5h5.4v5.4h-5.4zM117.5 59.5h5.4v5.4h-5.4zM102.5 79.5h5.4v5.4h-5.4zM167.5 109.5h5.4v5.4h-5.4zM37.5 119.5h5.4v5.4h-5.4zM167.5 134.5h5.4v5.4h-5.4zM177.5 194.5h5.4v5.4h-5.4zM52.5 199.5h5.4v5.4h-5.4z"/><path fill="#fac5c5" d="M82.5 24.5h5.4v5.4h-5.4zM117.5 74.5h5.4v5.4h-5.4zM42.5 199.5h5.4v5.4h-5.4z"/><path fill="#fdeaea" d="M87.5 24.5h5.4v5.4h-5.4zM292.5 24.5h5.4v5.4h-5.4zM307.5 29.5h5.4v5.4h-5.4zM287.5 49.5h5.4v5.4h-5.4zM102.5 59.5h5.4v5.4h-5.4zM137.5 69.5h5.4v5.4h-5.4zM197.5 69.5h5.4v5.4h-5.4zM137.5 74.5h5.4v5.4h-5.4zM197.5 74.5h5.4v5.4h-5.4zM132.5 79.5h5.4v5.4h-5.4zM257.5 94.5h5.4v5.4h-5.4zM197.5 99.5h5.4v5.4h-5.4zM242.5 99.5h5.4v5.4h-5.4zM242.5 124.5h5.4v5.4h-5.4zM162.5 149.5h5.4v5.4h-5.4zM107.5 174.5h5.4v5.4h-5.4zM257.5 199.5h5.4v5.4h-5.4zM272.5 199.5h5.4v5.4h-5.4z"/><path fill="#ebeafd" d="M92.5 24.5h5.4v5.4h-5.4z"/><path fill="#d2d1fa" d="M97.5 24.5h5.4v5.4h-5.4zM102.5 29.5h5.4v5.4h-5.4zM137.5 29.5h5.4v5.4h-5.4zM212.5 59.5h5.4v5.4h-5.4zM247.5 59.5h5.4v5.4h-5.4zM297.5 74.5h5.4v5.4h-5.4zM332.5 79.5h5.4v5.4h-5.4zM302.5 99.5h5.4v5.4h-5.4zM287.5 104.5h5.4v5.4h-5.4zM77.5 139.5h5.4v5.4h-5.4zM62.5 149.5h5.4v5.4h-5.4zM107.5 154.5h5.4v5.4h-5.4zM272.5 184.5h5.4v5.4h-5.4zM237.5 189.5h5.4v5.4h-5.4zM222.5 194.5h5.4v5.4h-5.4zM232.5 194.5h5.4v5.4h-5.4z"/><path fill="#cac9f9" d="M102.5 24.5h5.4v5.4h-5.4zM127.5 34.5h5.4v5.4h-5.4zM217.5 74.5h5.4v5.4h-5.4zM67.5 114.5h5.4v5.4h-5.4zM267.5 149.5h5.4v5.4h-5.4zM82.5 169.5h5.4v5.4h-5.4z"/><path fill="#cbcaf9" d="M107.5 24.5h5.4v5.4h-5.4zM217.5 64.5h5.4v5.4h-5.4zM227.5 64.5h5.4v5.4h-5.4zM242.5 64.5h5.4v5.4h-5.4zM222.5 69.5h5.4v5.4h-5.4zM232.5 69.5h10.4v5.4h-10.4zM242.5 74.5h5.4v5.4h-5.4zM237.5 79.5h5.4v5.4h-5.4zM302.5 104.5h5.4v5.4h-5.4zM297.5 109.5h5.4v5.4h-5.4zM97.5 124.5h5.4v5.4h-5.4zM102.5 129.5h5.4v5.4h-5.4zM102.5 134.5h5.4v5.4h-5.4zM97.5 139.5h5.4v5.4h-5.4zM72.5 144.5h5.4v5.4h-5.4zM67.5 149.5h5.4v5.4h-5.4zM302.5 164.5h5.4v5.4h-5.4zM297.5 169.5h5.4v5.4h-5.4zM32.5 184.5h5.4v5.4h-5.4zM232.5 184.5h5.4v5.4h-5.4zM27.5 189.5h5.4v5.4h-5.4zM227.5 189.5h5.4v5.4h-5.4z"/><path fill="#d6d5fb" d="M112.5 24.5h5.4v5.4h-5.4zM107.5 29.5h5.4v5.4h-5.4zM132.5 29.5h5.4v5.4h-5.4zM82.5 49.5h5.4v5.4h-5.4zM267.5 59.5h5.4v5.4h-5.4zM232.5 64.5h10.4v5.4h-10.4zM217.5 69.5h5.4v5.4h-5.4zM242.5 79.5h5.4v5.4h-5.4zM297.5 104.5h5.4v5.4h-5.4zM97.5 129.5h5.4v5.4h-5.4zM97.5 134.5h5.4v5.4h-5.4zM67.5 144.5h5.4v5.4h-5.4zM302.5 169.5h5.4v5.4h-5.4zM27.5 184.5h5.4v5.4h-5.4zM227.5 184.5h5.4v5.4h-5.4zM27.5 194.5h5.4v5.4h-5.4z"/><path fill="#e8e7fc" d="M117.5 24.5h5.4v5.4h-5.4zM132.5 24.5h5.4v5.4h-5.4zM127.5 29.5h5.4v5.4h-5.4zM262.5 44.5h5.4v5.4h-5.4zM257.5 49.5h5.4v5.4h-5.4zM307.5 64.5h5.4v5.4h-5.4zM322.5 64.5h5.4v5.4h-5.4zM312.5 69.5h10.4v5.4h-10.4zM292.5 94.5h5.4v5.4h-5.4zM287.5 99.5h5.4v5.4h-5.4zM2.5 109.5h25.4v5.4h-25.4zM117.5 134.5h5.4v5.4h-5.4zM122.5 139.5h5.4v5.4h-5.4zM127.5 144.5h5.4v5.4h-5.4zM132.5 149.5h5.4v5.4h-5.4zM122.5 154.5h5.4v5.4h-5.4zM117.5 159.5h5.4v5.4h-5.4zM252.5 174.5h5.4v5.4h-5.4zM247.5 179.5h5.4v5.4h-5.4zM57.5 184.5h5.4v5.4h-5.4z"/><path fill="#fffdfd" d="M122.5 24.5h10.4v5.4h-10.4zM307.5 24.5h5.4v5.4h-5.4zM117.5 29.5h5.4v5.4h-5.4zM142.5 44.5h5.4v5.4h-5.4zM322.5 49.5h5.4v5.4h-5.4zM202.5 69.5h5.4v5.4h-5.4zM132.5 74.5h5.4v5.4h-5.4zM202.5 74.5h5.4v5.4h-5.4zM82.5 79.5h5.4v5.4h-5.4zM282.5 84.5h5.4v5.4h-5.4zM242.5 94.5h5.4v5.4h-5.4zM202.5 99.5h5.4v5.4h-5.4zM257.5 99.5h5.4v5.4h-5.4zM197.5 129.5h5.4v5.4h-5.4zM242.5 129.5h5.4v5.4h-5.4zM62.5 139.5h5.4v5.4h-5.4zM222.5 144.5h5.4v5.4h-5.4zM237.5 159.5h5.4v5.4h-5.4zM252.5 159.5h5.4v5.4h-5.4zM317.5 174.5h5.4v5.4h-5.4zM62.5 184.5h5.4v5.4h-5.4zM247.5 194.5h5.4v5.4h-5.4zM257.5 194.5h5.4v5.4h-5.4zM272.5 194.5h5.4v5.4h-5.4zM32.5 199.5h5.4v5.4h-5.4zM202.5 199.5h5.4v5.4h-5.4z"/><path fill="#dddcfb" d="M137.5 24.5h5.4v5.4h-5.4zM142.5 29.5h5.4v5.4h-5.4zM212.5 54.5h5.4v5.4h-5.4zM247.5 54.5h5.4v5.4h-5.4zM207.5 59.5h5.4v5.4h-5.4zM252.5 59.5h5.4v5.4h-5.4zM302.5 74.5h5.4v5.4h-5.4zM332.5 74.5h5.4v5.4h-5.4zM297.5 79.5h5.4v5.4h-5.4zM327.5 79.5h5.4v5.4h-5.4zM302.5 94.5h5.4v5.4h-5.4zM297.5 99.5h5.4v5.4h-5.4zM72.5 139.5h5.4v5.4h-5.4zM62.5 144.5h5.4v5.4h-5.4zM57.5 149.5h5.4v5.4h-5.4zM112.5 154.5h5.4v5.4h-5.4zM107.5 159.5h5.4v5.4h-5.4zM37.5 179.5h5.4v5.4h-5.4zM47.5 189.5h5.4v5.4h-5.4zM217.5 194.5h5.4v5.4h-5.4zM222.5 199.5h5.4v5.4h-5.4z"/><path fill="#e0e0fc" d="M142.5 24.5h5.4v5.4h-5.4zM207.5 54.5h5.4v5.4h-5.4zM252.5 54.5h5.4v5.4h-5.4zM297.5 59.5h5.4v5.4h-5.4zM327.5 74.5h5.4v5.4h-5.4zM302.5 79.5h5.4v5.4h-5.4zM227.5 94.5h5.4v5.4h-5.4zM297.5 94.5h5.4v5.4h-5.4zM82.5 134.5h5.4v5.4h-5.4zM57.5 144.5h5.4v5.4h-5.4zM252.5 144.5h5.4v5.4h-5.4zM112.5 159.5h5.4v5.4h-5.4zM242.5 184.5h5.4v5.4h-5.4zM267.5 189.5h5.4v5.4h-5.4zM217.5 199.5h5.4v5.4h-5.4zM227.5 199.5h5.4v5.4h-5.4z"/><path fill="#fef8f8" d="M147.5 24.5h5.4v5.4h-5.4zM132.5 54.5h5.4v5.4h-5.4zM132.5 69.5h5.4v5.4h-5.4zM117.5 119.5h5.4v5.4h-5.4z"/><path fill="#f8adad" d="M152.5 24.5h5.4v5.4h-5.4z"/><path fill="#f8a3a3" d="M162.5 24.5h5.4v5.4h-5.4zM157.5 39.5h5.4v5.4h-5.4zM242.5 39.5h5.4v5.4h-5.4zM117.5 109.5h5.4v5.4h-5.4zM182.5 189.5h5.4v5.4h-5.4zM67.5 194.5h5.4v5.4h-5.4zM172.5 204.5h5.4v5.4h-5.4zM172.5 209.5h5.4v5.4h-5.4zM172.5 214.5h5.4v5.4h-5.4zM172.5 219.5h5.4v5.4h-5.4zM172.5 224.5h5.4v5.4h-5.4z"/><path fill="#fac4c4" d="M172.5 24.5h5.4v5.4h-5.4zM267.5 29.5h5.4v5.4h-5.4zM282.5 34.5h5.4v5.4h-5.4zM152.5 59.5h5.4v5.4h-5.4zM177.5 74.5h5.4v5.4h-5.4zM87.5 84.5h5.4v5.4h-5.4zM142.5 84.5h5.4v5.4h-5.4zM167.5 84.5h5.4v5.4h-5.4zM57.5 119.5h5.4v5.4h-5.4zM137.5 134.5h5.4v5.4h-5.4zM142.5 139.5h5.4v5.4h-5.4zM327.5 184.5h5.4v5.4h-5.4zM57.5 194.5h5.4v5.4h-5.4zM307.5 194.5h5.4v5.4h-5.4z"/><path fill="#fbd1d1" d="M177.5 24.5h5.4v5.4h-5.4zM182.5 29.5h5.4v5.4h-5.4zM142.5 59.5h5.4v5.4h-5.4zM87.5 94.5h5.4v5.4h-5.4zM217.5 124.5h10.4v5.4h-10.4zM182.5 154.5h5.4v5.4h-5.4zM177.5 159.5h5.4v5.4h-5.4zM27.5 174.5h5.4v5.4h-5.4zM337.5 179.5h25.4v5.4h-25.4zM197.5 184.5h5.4v5.4h-5.4zM187.5 194.5h5.4v5.4h-5.4z"/><path fill="#fcdbdb" d="M182.5 24.5h5.4v5.4h-5.4zM197.5 34.5h5.4v5.4h-5.4zM202.5 39.5h5.4v5.4h-5.4zM302.5 44.5h5.4v5.4h-5.4zM297.5 49.5h5.4v5.4h-5.4zM132.5 59.5h5.4v5.4h-5.4zM132.5 64.5h5.4v5.4h-5.4zM192.5 74.5h5.4v5.4h-5.4zM187.5 79.5h5.4v5.4h-5.4zM182.5 84.5h5.4v5.4h-5.4zM177.5 89.5h5.4v5.4h-5.4zM177.5 104.5h5.4v5.4h-5.4zM182.5 109.5h5.4v5.4h-5.4zM122.5 119.5h5.4v5.4h-5.4zM62.5 124.5h5.4v5.4h-5.4zM182.5 134.5h5.4v5.4h-5.4zM177.5 139.5h5.4v5.4h-5.4zM177.5 154.5h5.4v5.4h-5.4zM167.5 164.5h5.4v5.4h-5.4zM62.5 189.5h5.4v5.4h-5.4z"/><path fill="#fffefe" d="M217.5 24.5h5.4v5.4h-5.4zM262.5 39.5h5.4v5.4h-5.4zM92.5 49.5h5.4v5.4h-5.4zM242.5 49.5h5.4v5.4h-5.4zM252.5 119.5h5.4v5.4h-5.4z"/><path fill="#fffcfc" d="M222.5 24.5h5.4v5.4h-5.4zM77.5 39.5h5.4v5.4h-5.4z"/><path fill="#fef2f2" d="M227.5 24.5h5.4v5.4h-5.4zM297.5 24.5h5.4v5.4h-5.4zM212.5 34.5h5.4v5.4h-5.4zM282.5 49.5h5.4v5.4h-5.4zM312.5 49.5h5.4v5.4h-5.4zM302.5 54.5h5.4v5.4h-5.4zM257.5 84.5h5.4v5.4h-5.4zM272.5 84.5h5.4v5.4h-5.4zM232.5 99.5h5.4v5.4h-5.4zM202.5 104.5h5.4v5.4h-5.4zM212.5 104.5h5.4v5.4h-5.4zM192.5 119.5h10.4v5.4h-10.4zM212.5 129.5h5.4v5.4h-5.4zM192.5 144.5h5.4v5.4h-5.4zM202.5 144.5h10.4v5.4h-10.4zM247.5 149.5h5.4v5.4h-5.4zM42.5 154.5h5.4v5.4h-5.4zM97.5 174.5h5.4v5.4h-5.4zM332.5 174.5h5.4v5.4h-5.4zM312.5 184.5h5.4v5.4h-5.4zM292.5 194.5h5.4v5.4h-5.4z"/><path fill="#fde2e2" d="M232.5 24.5h5.4v5.4h-5.4zM302.5 29.5h5.4v5.4h-5.4zM207.5 39.5h5.4v5.4h-5.4zM277.5 44.5h5.4v5.4h-5.4zM307.5 44.5h5.4v5.4h-5.4zM262.5 89.5h10.4v5.4h-10.4zM197.5 109.5h5.4v5.4h-5.4zM207.5 109.5h5.4v5.4h-5.4zM187.5 114.5h5.4v5.4h-5.4zM202.5 114.5h5.4v5.4h-5.4zM207.5 124.5h5.4v5.4h-5.4zM67.5 129.5h5.4v5.4h-5.4zM42.5 149.5h5.4v5.4h-5.4zM187.5 149.5h5.4v5.4h-5.4zM197.5 149.5h5.4v5.4h-5.4zM212.5 149.5h5.4v5.4h-5.4zM102.5 179.5h5.4v5.4h-5.4zM327.5 179.5h5.4v5.4h-5.4zM307.5 189.5h5.4v5.4h-5.4zM287.5 199.5h5.4v5.4h-5.4z"/><path fill="#fac6c6" d="M237.5 24.5h5.4v5.4h-5.4zM77.5 34.5h5.4v5.4h-5.4zM112.5 84.5h5.4v5.4h-5.4zM217.5 109.5h5.4v5.4h-5.4zM132.5 129.5h5.4v5.4h-5.4zM192.5 154.5h5.4v5.4h-5.4zM67.5 189.5h5.4v5.4h-5.4zM317.5 189.5h5.4v5.4h-5.4zM297.5 199.5h5.4v5.4h-5.4z"/><path fill="#f79c9c" d="M242.5 24.5h5.4v5.4h-5.4zM172.5 29.5h5.4v5.4h-5.4zM107.5 84.5h5.4v5.4h-5.4zM107.5 99.5h5.4v5.4h-5.4zM42.5 139.5h5.4v5.4h-5.4zM212.5 169.5h5.4v5.4h-5.4zM192.5 179.5h5.4v5.4h-5.4zM327.5 189.5h5.4v5.4h-5.4zM57.5 199.5h5.4v5.4h-5.4zM307.5 199.5h5.4v5.4h-5.4z"/><path fill="#f58a8a" d="M247.5 24.5h5.4v5.4h-5.4zM167.5 29.5h5.4v5.4h-5.4zM237.5 29.5h5.4v5.4h-5.4zM252.5 29.5h5.4v5.4h-5.4zM172.5 34.5h5.4v5.4h-5.4zM227.5 34.5h5.4v5.4h-5.4zM167.5 39.5h5.4v5.4h-5.4zM232.5 39.5h5.4v5.4h-5.4zM172.5 54.5h10.4v5.4h-10.4zM167.5 59.5h5.4v5.4h-5.4zM182.5 59.5h5.4v5.4h-5.4zM112.5 89.5h5.4v5.4h-5.4zM137.5 94.5h5.4v5.4h-5.4zM162.5 124.5h5.4v5.4h-5.4zM157.5 129.5h5.4v5.4h-5.4zM332.5 189.5h5.4v5.4h-5.4zM322.5 194.5h5.4v5.4h-5.4zM62.5 199.5h5.4v5.4h-5.4zM312.5 199.5h5.4v5.4h-5.4z"/><path fill="#f68e8e" d="M252.5 24.5h5.4v5.4h-5.4zM172.5 39.5h5.4v5.4h-5.4zM227.5 39.5h5.4v5.4h-5.4zM167.5 54.5h5.4v5.4h-5.4zM182.5 54.5h5.4v5.4h-5.4zM102.5 89.5h5.4v5.4h-5.4zM42.5 119.5h5.4v5.4h-5.4zM162.5 129.5h5.4v5.4h-5.4zM42.5 134.5h5.4v5.4h-5.4z"/><path fill="#fac7c7" d="M267.5 24.5h5.4v5.4h-5.4zM222.5 29.5h5.4v5.4h-5.4zM272.5 29.5h5.4v5.4h-5.4zM277.5 34.5h5.4v5.4h-5.4zM282.5 39.5h5.4v5.4h-5.4zM192.5 49.5h5.4v5.4h-5.4zM152.5 54.5h5.4v5.4h-5.4zM147.5 59.5h5.4v5.4h-5.4zM107.5 64.5h5.4v5.4h-5.4zM182.5 74.5h5.4v5.4h-5.4zM177.5 79.5h5.4v5.4h-5.4zM92.5 84.5h5.4v5.4h-5.4zM172.5 84.5h5.4v5.4h-5.4zM87.5 89.5h5.4v5.4h-5.4zM167.5 89.5h5.4v5.4h-5.4zM232.5 119.5h5.4v5.4h-5.4zM37.5 149.5h5.4v5.4h-5.4zM77.5 184.5h5.4v5.4h-5.4zM102.5 184.5h5.4v5.4h-5.4z"/><path fill="#fbd3d3" d="M272.5 24.5h5.4v5.4h-5.4zM102.5 39.5h5.4v5.4h-5.4zM277.5 39.5h5.4v5.4h-5.4zM197.5 44.5h5.4v5.4h-5.4zM147.5 54.5h5.4v5.4h-5.4zM102.5 69.5h5.4v5.4h-5.4zM182.5 79.5h5.4v5.4h-5.4zM92.5 89.5h5.4v5.4h-5.4zM172.5 89.5h5.4v5.4h-5.4zM92.5 179.5h5.4v5.4h-5.4z"/><path fill="#fcdede" d="M287.5 24.5h5.4v5.4h-5.4zM202.5 34.5h5.4v5.4h-5.4zM217.5 34.5h5.4v5.4h-5.4zM292.5 49.5h5.4v5.4h-5.4zM302.5 49.5h5.4v5.4h-5.4zM102.5 54.5h5.4v5.4h-5.4zM137.5 64.5h5.4v5.4h-5.4zM137.5 79.5h5.4v5.4h-5.4zM192.5 79.5h5.4v5.4h-5.4zM182.5 89.5h5.4v5.4h-5.4zM182.5 104.5h5.4v5.4h-5.4zM132.5 134.5h5.4v5.4h-5.4zM182.5 139.5h5.4v5.4h-5.4zM157.5 149.5h5.4v5.4h-5.4zM227.5 164.5h5.4v5.4h-5.4zM217.5 174.5h5.4v5.4h-5.4z"/><path fill="#fef5f5" d="M302.5 24.5h5.4v5.4h-5.4zM317.5 29.5h5.4v5.4h-5.4zM117.5 34.5h5.4v5.4h-5.4zM272.5 44.5h5.4v5.4h-5.4zM117.5 49.5h5.4v5.4h-5.4zM227.5 49.5h5.4v5.4h-5.4zM277.5 49.5h5.4v5.4h-5.4zM297.5 54.5h5.4v5.4h-5.4zM262.5 79.5h5.4v5.4h-5.4zM277.5 94.5h5.4v5.4h-5.4zM227.5 99.5h5.4v5.4h-5.4zM207.5 104.5h5.4v5.4h-5.4zM257.5 109.5h5.4v5.4h-5.4zM122.5 124.5h5.4v5.4h-5.4zM72.5 129.5h5.4v5.4h-5.4zM207.5 129.5h5.4v5.4h-5.4zM197.5 144.5h5.4v5.4h-5.4zM212.5 144.5h5.4v5.4h-5.4zM42.5 169.5h5.4v5.4h-5.4zM112.5 169.5h5.4v5.4h-5.4zM92.5 174.5h5.4v5.4h-5.4zM102.5 174.5h5.4v5.4h-5.4zM327.5 174.5h5.4v5.4h-5.4zM307.5 184.5h5.4v5.4h-5.4zM287.5 194.5h5.4v5.4h-5.4z"/><path fill="#f6f6fe" d="M312.5 24.5h5.4v5.4h-5.4zM112.5 29.5h5.4v5.4h-5.4zM122.5 29.5h5.4v5.4h-5.4zM97.5 54.5h5.4v5.4h-5.4zM202.5 64.5h5.4v5.4h-5.4zM127.5 74.5h5.4v5.4h-5.4zM202.5 79.5h5.4v5.4h-5.4zM202.5 94.5h5.4v5.4h-5.4zM237.5 94.5h5.4v5.4h-5.4zM262.5 99.5h5.4v5.4h-5.4zM87.5 114.5h5.4v5.4h-5.4zM237.5 129.5h5.4v5.4h-5.4zM47.5 154.5h5.4v5.4h-5.4zM137.5 159.5h5.4v5.4h-5.4zM102.5 169.5h5.4v5.4h-5.4zM282.5 189.5h5.4v5.4h-5.4zM262.5 194.5h10.4v5.4h-10.4zM27.5 199.5h5.4v5.4h-5.4z"/><path fill="#efeefd" d="M317.5 24.5h5.4v5.4h-5.4zM267.5 44.5h5.4v5.4h-5.4zM322.5 59.5h5.4v5.4h-5.4zM262.5 74.5h5.4v5.4h-5.4zM277.5 99.5h5.4v5.4h-5.4zM262.5 109.5h5.4v5.4h-5.4zM117.5 124.5h5.4v5.4h-5.4zM82.5 129.5h5.4v5.4h-5.4zM67.5 139.5h5.4v5.4h-5.4zM232.5 144.5h5.4v5.4h-5.4zM112.5 164.5h5.4v5.4h-5.4zM237.5 169.5h5.4v5.4h-5.4zM252.5 169.5h5.4v5.4h-5.4zM307.5 174.5h5.4v5.4h-5.4z"/><path fill="#ebebfd" d="M322.5 24.5h5.4v5.4h-5.4zM267.5 49.5h5.4v5.4h-5.4zM302.5 59.5h5.4v5.4h-5.4zM257.5 74.5h5.4v5.4h-5.4zM232.5 94.5h5.4v5.4h-5.4zM282.5 99.5h5.4v5.4h-5.4zM262.5 104.5h5.4v5.4h-5.4zM117.5 129.5h5.4v5.4h-5.4zM77.5 134.5h5.4v5.4h-5.4zM107.5 164.5h5.4v5.4h-5.4zM42.5 174.5h5.4v5.4h-5.4zM242.5 189.5h5.4v5.4h-5.4zM272.5 189.5h5.4v5.4h-5.4zM232.5 199.5h5.4v5.4h-5.4z"/><path fill="#a9a7f6" d="M52.5 29.5h5.4v5.4h-5.4zM42.5 39.5h5.4v5.4h-5.4zM292.5 154.5h5.4v5.4h-5.4zM287.5 159.5h5.4v5.4h-5.4zM282.5 164.5h5.4v5.4h-5.4zM277.5 169.5h5.4v5.4h-5.4z"/><path fill="#b6b4f7" d="M57.5 29.5h5.4v5.4h-5.4zM257.5 139.5h5.4v5.4h-5.4zM52.5 179.5h5.4v5.4h-5.4z"/><path fill="#e3e2fc" d="M62.5 29.5h5.4v5.4h-5.4zM122.5 34.5h5.4v5.4h-5.4zM142.5 34.5h5.4v5.4h-5.4zM122.5 49.5h5.4v5.4h-5.4zM267.5 54.5h5.4v5.4h-5.4zM77.5 79.5h5.4v5.4h-5.4zM287.5 79.5h5.4v5.4h-5.4z"/><path fill="#feefef" d="M67.5 29.5h5.4v5.4h-5.4zM142.5 49.5h5.4v5.4h-5.4zM122.5 54.5h5.4v5.4h-5.4zM47.5 194.5h5.4v5.4h-5.4z"/><path fill="#fac2c2" d="M72.5 29.5h5.4v5.4h-5.4zM287.5 34.5h10.4v5.4h-10.4zM287.5 39.5h10.4v5.4h-10.4zM2.5 164.5h25.4v5.4h-25.4zM2.5 169.5h25.4v5.4h-25.4z"/><path fill="#f8aaaa" d="M77.5 29.5h5.4v5.4h-5.4zM222.5 34.5h5.4v5.4h-5.4zM162.5 104.5h5.4v5.4h-5.4zM137.5 129.5h5.4v5.4h-5.4zM142.5 134.5h5.4v5.4h-5.4z"/><path fill="#fabfbf" d="M87.5 29.5h5.4v5.4h-5.4zM147.5 64.5h5.4v5.4h-5.4zM172.5 79.5h5.4v5.4h-5.4zM147.5 89.5h5.4v5.4h-5.4zM162.5 89.5h5.4v5.4h-5.4zM162.5 94.5h5.4v5.4h-5.4zM102.5 99.5h5.4v5.4h-5.4zM217.5 119.5h5.4v5.4h-5.4zM47.5 139.5h5.4v5.4h-5.4zM222.5 159.5h5.4v5.4h-5.4zM212.5 174.5h5.4v5.4h-5.4z"/><path fill="#feeeee" d="M92.5 29.5h5.4v5.4h-5.4zM312.5 29.5h5.4v5.4h-5.4zM317.5 44.5h5.4v5.4h-5.4zM197.5 64.5h5.4v5.4h-5.4zM127.5 79.5h5.4v5.4h-5.4zM197.5 79.5h5.4v5.4h-5.4zM277.5 89.5h5.4v5.4h-5.4zM197.5 94.5h5.4v5.4h-5.4zM262.5 94.5h5.4v5.4h-5.4zM237.5 99.5h5.4v5.4h-5.4zM202.5 124.5h5.4v5.4h-5.4zM237.5 124.5h5.4v5.4h-5.4zM217.5 149.5h5.4v5.4h-5.4zM242.5 154.5h10.4v5.4h-10.4zM137.5 164.5h5.4v5.4h-5.4zM162.5 164.5h5.4v5.4h-5.4zM322.5 179.5h5.4v5.4h-5.4zM57.5 189.5h5.4v5.4h-5.4zM197.5 194.5h5.4v5.4h-5.4zM252.5 199.5h5.4v5.4h-5.4zM262.5 199.5h10.4v5.4h-10.4z"/><path fill="#ececfd" d="M97.5 29.5h5.4v5.4h-5.4z"/><path fill="#fef4f4" d="M147.5 29.5h5.4v5.4h-5.4zM307.5 54.5h5.4v5.4h-5.4zM247.5 94.5h5.4v5.4h-5.4zM252.5 99.5h5.4v5.4h-5.4zM82.5 114.5h5.4v5.4h-5.4zM77.5 119.5h5.4v5.4h-5.4zM157.5 154.5h5.4v5.4h-5.4zM227.5 154.5h5.4v5.4h-5.4zM232.5 159.5h5.4v5.4h-5.4z"/><path fill="#f79f9f" d="M152.5 29.5h5.4v5.4h-5.4zM187.5 44.5h5.4v5.4h-5.4zM112.5 69.5h5.4v5.4h-5.4zM227.5 114.5h5.4v5.4h-5.4zM82.5 189.5h5.4v5.4h-5.4zM97.5 189.5h5.4v5.4h-5.4z"/><path fill="#f47878" d="M157.5 29.5h5.4v5.4h-5.4zM162.5 34.5h5.4v5.4h-5.4zM237.5 34.5h5.4v5.4h-5.4zM122.5 104.5h5.4v5.4h-5.4zM177.5 184.5h5.4v5.4h-5.4zM72.5 199.5h5.4v5.4h-5.4z"/><path fill="#f47e7e" d="M162.5 29.5h5.4v5.4h-5.4zM157.5 34.5h5.4v5.4h-5.4zM242.5 34.5h5.4v5.4h-5.4zM117.5 104.5h5.4v5.4h-5.4zM127.5 109.5h5.4v5.4h-5.4zM182.5 184.5h5.4v5.4h-5.4zM67.5 199.5h5.4v5.4h-5.4z"/><path fill="#fdecec" d="M217.5 29.5h5.4v5.4h-5.4zM257.5 39.5h5.4v5.4h-5.4zM97.5 49.5h5.4v5.4h-5.4zM237.5 49.5h5.4v5.4h-5.4zM252.5 94.5h5.4v5.4h-5.4zM247.5 99.5h5.4v5.4h-5.4zM112.5 114.5h5.4v5.4h-5.4zM167.5 149.5h5.4v5.4h-5.4z"/><path fill="#f8abab" d="M227.5 29.5h5.4v5.4h-5.4zM122.5 64.5h5.4v5.4h-5.4zM117.5 69.5h5.4v5.4h-5.4zM32.5 119.5h5.4v5.4h-5.4zM122.5 174.5h5.4v5.4h-5.4zM157.5 174.5h5.4v5.4h-5.4z"/><path fill="#f79a9a" d="M232.5 29.5h5.4v5.4h-5.4zM117.5 64.5h5.4v5.4h-5.4zM162.5 64.5h5.4v5.4h-5.4zM157.5 69.5h5.4v5.4h-5.4zM162.5 74.5h5.4v5.4h-5.4zM157.5 79.5h5.4v5.4h-5.4zM172.5 199.5h5.4v5.4h-5.4z"/><path fill="#f47c7c" d="M242.5 29.5h10.4v5.4h-10.4zM167.5 34.5h5.4v5.4h-5.4zM232.5 34.5h5.4v5.4h-5.4zM172.5 59.5h10.4v5.4h-10.4zM107.5 89.5h5.4v5.4h-5.4zM107.5 94.5h5.4v5.4h-5.4zM112.5 99.5h5.4v5.4h-5.4zM157.5 124.5h5.4v5.4h-5.4zM42.5 129.5h5.4v5.4h-5.4zM212.5 164.5h5.4v5.4h-5.4zM207.5 169.5h5.4v5.4h-5.4zM192.5 174.5h5.4v5.4h-5.4zM187.5 179.5h5.4v5.4h-5.4z"/><path fill="#fbcbcb" d="M287.5 29.5h5.4v5.4h-5.4zM292.5 44.5h5.4v5.4h-5.4zM142.5 64.5h5.4v5.4h-5.4zM142.5 79.5h5.4v5.4h-5.4zM157.5 144.5h5.4v5.4h-5.4zM172.5 164.5h5.4v5.4h-5.4z"/><path fill="#fbcfcf" d="M292.5 29.5h5.4v5.4h-5.4zM197.5 39.5h5.4v5.4h-5.4zM287.5 44.5h5.4v5.4h-5.4zM297.5 44.5h5.4v5.4h-5.4zM142.5 69.5h5.4v5.4h-5.4zM142.5 74.5h5.4v5.4h-5.4zM187.5 74.5h5.4v5.4h-5.4zM177.5 84.5h5.4v5.4h-5.4zM177.5 109.5h5.4v5.4h-5.4zM177.5 134.5h5.4v5.4h-5.4zM162.5 144.5h5.4v5.4h-5.4z"/><path fill="#fcd7d7" d="M297.5 29.5h5.4v5.4h-5.4zM282.5 44.5h5.4v5.4h-5.4zM117.5 84.5h5.4v5.4h-5.4zM247.5 104.5h5.4v5.4h-5.4zM212.5 109.5h5.4v5.4h-5.4zM252.5 109.5h5.4v5.4h-5.4zM212.5 124.5h5.4v5.4h-5.4zM202.5 149.5h10.4v5.4h-10.4zM87.5 179.5h5.4v5.4h-5.4zM97.5 179.5h5.4v5.4h-5.4zM332.5 179.5h5.4v5.4h-5.4zM312.5 189.5h5.4v5.4h-5.4zM292.5 199.5h5.4v5.4h-5.4z"/><path fill="#fdfdff" d="M322.5 29.5h5.4v5.4h-5.4zM82.5 44.5h5.4v5.4h-5.4zM202.5 49.5h5.4v5.4h-5.4zM272.5 49.5h5.4v5.4h-5.4zM317.5 54.5h5.4v5.4h-5.4zM97.5 64.5h5.4v5.4h-5.4zM257.5 79.5h5.4v5.4h-5.4zM282.5 94.5h5.4v5.4h-5.4zM257.5 104.5h5.4v5.4h-5.4zM72.5 124.5h10.4v5.4h-10.4zM122.5 129.5h5.4v5.4h-5.4zM72.5 134.5h5.4v5.4h-5.4zM227.5 149.5h5.4v5.4h-5.4zM242.5 164.5h10.4v5.4h-10.4zM107.5 169.5h5.4v5.4h-5.4zM87.5 174.5h5.4v5.4h-5.4zM312.5 179.5h5.4v5.4h-5.4z"/><path fill="#bcbaf8" d="M42.5 34.5h5.4v5.4h-5.4zM37.5 39.5h5.4v5.4h-5.4zM287.5 59.5h5.4v5.4h-5.4zM217.5 94.5h5.4v5.4h-5.4zM262.5 119.5h5.4v5.4h-5.4zM67.5 174.5h5.4v5.4h-5.4z"/><path fill="#adabf6" d="M47.5 34.5h5.4v5.4h-5.4zM257.5 134.5h5.4v5.4h-5.4z"/><path fill="#9492f3" d="M52.5 34.5h5.4v5.4h-5.4zM47.5 39.5h5.4v5.4h-5.4zM77.5 49.5h5.4v5.4h-5.4z"/><path fill="#9592f3" d="M57.5 34.5h5.4v5.4h-5.4z"/><path fill="#adacf6" d="M62.5 34.5h5.4v5.4h-5.4zM72.5 69.5h5.4v5.4h-5.4zM227.5 84.5h5.4v5.4h-5.4zM97.5 154.5h5.4v5.4h-5.4zM307.5 154.5h5.4v5.4h-5.4zM62.5 159.5h5.4v5.4h-5.4zM272.5 169.5h5.4v5.4h-5.4zM277.5 174.5h5.4v5.4h-5.4z"/><path fill="#d6d5fa" d="M67.5 34.5h5.4v5.4h-5.4z"/><path fill="#f8aeae" d="M82.5 34.5h5.4v5.4h-5.4zM187.5 39.5h5.4v5.4h-5.4zM232.5 44.5h5.4v5.4h-5.4zM187.5 64.5h5.4v5.4h-5.4zM32.5 159.5h5.4v5.4h-5.4zM37.5 164.5h5.4v5.4h-5.4z"/><path fill="#f9b0b0" d="M87.5 34.5h5.4v5.4h-5.4zM92.5 39.5h5.4v5.4h-5.4zM122.5 59.5h5.4v5.4h-5.4zM222.5 109.5h5.4v5.4h-5.4zM132.5 124.5h5.4v5.4h-5.4zM62.5 129.5h5.4v5.4h-5.4zM72.5 189.5h5.4v5.4h-5.4zM322.5 189.5h5.4v5.4h-5.4zM47.5 199.5h5.4v5.4h-5.4zM302.5 199.5h5.4v5.4h-5.4z"/><path fill="#fbcccc" d="M92.5 34.5h5.4v5.4h-5.4zM112.5 54.5h5.4v5.4h-5.4zM192.5 54.5h5.4v5.4h-5.4zM107.5 59.5h5.4v5.4h-5.4zM192.5 59.5h5.4v5.4h-5.4zM127.5 84.5h10.4v5.4h-10.4zM227.5 104.5h20.4v5.4h-20.4zM2.5 114.5h25.4v5.4h-25.4zM117.5 114.5h5.4v5.4h-5.4zM237.5 119.5h10.4v5.4h-10.4zM37.5 204.5h5.4v5.4h-5.4zM37.5 209.5h5.4v5.4h-5.4zM37.5 214.5h5.4v5.4h-5.4zM37.5 219.5h5.4v5.4h-5.4zM37.5 224.5h5.4v5.4h-5.4z"/><path fill="#fdebeb" d="M97.5 34.5h5.4v5.4h-5.4zM147.5 34.5h5.4v5.4h-5.4z"/><path fill="#f2f2fe" d="M102.5 34.5h5.4v5.4h-5.4zM257.5 44.5h5.4v5.4h-5.4zM97.5 59.5h5.4v5.4h-5.4zM312.5 64.5h10.4v5.4h-10.4zM287.5 94.5h5.4v5.4h-5.4zM87.5 119.5h5.4v5.4h-5.4zM122.5 134.5h5.4v5.4h-5.4zM127.5 139.5h5.4v5.4h-5.4zM132.5 144.5h5.4v5.4h-5.4zM137.5 154.5h5.4v5.4h-5.4zM47.5 159.5h5.4v5.4h-5.4zM122.5 159.5h5.4v5.4h-5.4zM142.5 159.5h5.4v5.4h-5.4zM97.5 169.5h5.4v5.4h-5.4zM232.5 169.5h5.4v5.4h-5.4zM247.5 174.5h5.4v5.4h-5.4zM222.5 179.5h5.4v5.4h-5.4zM277.5 189.5h5.4v5.4h-5.4z"/><path fill="#bfbef8" d="M132.5 34.5h5.4v5.4h-5.4zM222.5 74.5h5.4v5.4h-5.4zM212.5 94.5h5.4v5.4h-5.4zM267.5 114.5h5.4v5.4h-5.4zM272.5 149.5h5.4v5.4h-5.4zM77.5 169.5h5.4v5.4h-5.4z"/><path fill="#c8c6f9" d="M137.5 34.5h5.4v5.4h-5.4z"/><path fill="#f8a5a5" d="M152.5 34.5h5.4v5.4h-5.4zM187.5 54.5h5.4v5.4h-5.4zM187.5 59.5h5.4v5.4h-5.4zM172.5 69.5h5.4v5.4h-5.4zM127.5 89.5h10.4v5.4h-10.4zM227.5 109.5h20.4v5.4h-20.4zM237.5 114.5h10.4v5.4h-10.4zM42.5 204.5h5.4v5.4h-5.4zM42.5 209.5h5.4v5.4h-5.4zM42.5 214.5h5.4v5.4h-5.4zM42.5 219.5h5.4v5.4h-5.4zM42.5 224.5h5.4v5.4h-5.4z"/><path fill="#f7a0a0" d="M177.5 34.5h5.4v5.4h-5.4zM182.5 39.5h5.4v5.4h-5.4zM122.5 89.5h5.4v5.4h-5.4z"/><path fill="#fabebe" d="M182.5 34.5h5.4v5.4h-5.4zM87.5 39.5h5.4v5.4h-5.4zM102.5 44.5h5.4v5.4h-5.4zM102.5 74.5h5.4v5.4h-5.4zM97.5 79.5h5.4v5.4h-5.4zM167.5 104.5h5.4v5.4h-5.4zM172.5 109.5h5.4v5.4h-5.4zM172.5 134.5h5.4v5.4h-5.4zM167.5 139.5h5.4v5.4h-5.4zM197.5 154.5h5.4v5.4h-5.4zM212.5 154.5h5.4v5.4h-5.4zM202.5 179.5h5.4v5.4h-5.4zM182.5 194.5h5.4v5.4h-5.4zM177.5 199.5h5.4v5.4h-5.4z"/><path fill="#fbd0d0" d="M187.5 34.5h5.4v5.4h-5.4zM102.5 49.5h5.4v5.4h-5.4zM192.5 64.5h5.4v5.4h-5.4zM97.5 74.5h5.4v5.4h-5.4zM122.5 84.5h5.4v5.4h-5.4zM172.5 104.5h5.4v5.4h-5.4zM172.5 139.5h5.4v5.4h-5.4zM32.5 154.5h5.4v5.4h-5.4zM112.5 174.5h5.4v5.4h-5.4zM107.5 179.5h5.4v5.4h-5.4zM182.5 199.5h5.4v5.4h-5.4z"/><path fill="#fcd6d6" d="M192.5 34.5h5.4v5.4h-5.4zM252.5 39.5h5.4v5.4h-5.4zM192.5 69.5h5.4v5.4h-5.4zM27.5 154.5h5.4v5.4h-5.4z"/><path fill="#fde6e6" d="M207.5 34.5h5.4v5.4h-5.4zM212.5 39.5h5.4v5.4h-5.4zM202.5 44.5h5.4v5.4h-5.4zM312.5 44.5h5.4v5.4h-5.4zM197.5 49.5h5.4v5.4h-5.4zM307.5 49.5h5.4v5.4h-5.4zM102.5 64.5h5.4v5.4h-5.4zM97.5 69.5h5.4v5.4h-5.4zM117.5 79.5h5.4v5.4h-5.4zM262.5 84.5h10.4v5.4h-10.4zM257.5 89.5h5.4v5.4h-5.4zM272.5 89.5h5.4v5.4h-5.4zM197.5 104.5h5.4v5.4h-5.4zM202.5 109.5h5.4v5.4h-5.4zM192.5 114.5h10.4v5.4h-10.4zM187.5 119.5h5.4v5.4h-5.4zM202.5 119.5h5.4v5.4h-5.4zM67.5 134.5h5.4v5.4h-5.4zM187.5 144.5h5.4v5.4h-5.4zM192.5 149.5h5.4v5.4h-5.4zM132.5 164.5h5.4v5.4h-5.4zM37.5 199.5h5.4v5.4h-5.4z"/><path fill="#f68c8c" d="M247.5 34.5h5.4v5.4h-5.4z"/><path fill="#f7a2a2" d="M252.5 34.5h5.4v5.4h-5.4zM142.5 174.5h5.4v5.4h-5.4z"/><path fill="#f9b7b7" d="M257.5 34.5h5.4v5.4h-5.4zM97.5 39.5h5.4v5.4h-5.4zM97.5 44.5h5.4v5.4h-5.4zM237.5 44.5h5.4v5.4h-5.4zM247.5 114.5h5.4v5.4h-5.4zM192.5 184.5h5.4v5.4h-5.4zM187.5 189.5h5.4v5.4h-5.4z"/><path fill="#fbcece" d="M262.5 34.5h5.4v5.4h-5.4zM242.5 44.5h5.4v5.4h-5.4zM97.5 94.5h5.4v5.4h-5.4zM217.5 154.5h5.4v5.4h-5.4zM207.5 179.5h5.4v5.4h-5.4zM192.5 189.5h5.4v5.4h-5.4z"/><path fill="#fcd5d5" d="M267.5 34.5h5.4v5.4h-5.4zM77.5 94.5h5.4v5.4h-5.4zM222.5 104.5h5.4v5.4h-5.4zM127.5 124.5h5.4v5.4h-5.4zM167.5 144.5h5.4v5.4h-5.4zM72.5 184.5h5.4v5.4h-5.4zM322.5 184.5h5.4v5.4h-5.4zM302.5 194.5h5.4v5.4h-5.4z"/><path fill="#fbcdcd" d="M272.5 34.5h5.4v5.4h-5.4zM82.5 94.5h5.4v5.4h-5.4z"/><path fill="#7e7cf1" d="M52.5 39.5h5.4v5.4h-5.4z"/><path fill="#7572f0" d="M57.5 39.5h5.4v5.4h-5.4zM332.5 94.5h5.4v5.4h-5.4zM327.5 99.5h5.4v5.4h-5.4zM327.5 104.5h5.4v5.4h-5.4zM332.5 109.5h5.4v5.4h-5.4zM337.5 114.5h25.4v5.4h-25.4zM337.5 119.5h25.4v5.4h-25.4zM327.5 124.5h35.4v5.4h-35.4zM327.5 129.5h35.4v5.4h-35.4zM312.5 134.5h5.4v5.4h-5.4zM307.5 139.5h5.4v5.4h-5.4z"/><path fill="#7774f0" d="M62.5 39.5h5.4v5.4h-5.4zM42.5 54.5h5.4v5.4h-5.4zM77.5 59.5h5.4v5.4h-5.4zM332.5 119.5h5.4v5.4h-5.4zM322.5 129.5h5.4v5.4h-5.4zM282.5 134.5h5.4v5.4h-5.4zM327.5 134.5h5.4v5.4h-5.4z"/><path fill="#9795f4" d="M67.5 39.5h5.4v5.4h-5.4zM37.5 59.5h5.4v5.4h-5.4z"/><path fill="#d3d2fa" d="M72.5 39.5h5.4v5.4h-5.4zM232.5 89.5h5.4v5.4h-5.4zM57.5 154.5h5.4v5.4h-5.4zM102.5 159.5h5.4v5.4h-5.4zM312.5 159.5h5.4v5.4h-5.4zM267.5 164.5h5.4v5.4h-5.4zM282.5 179.5h5.4v5.4h-5.4z"/><path fill="#fcd8d8" d="M82.5 39.5h5.4v5.4h-5.4zM117.5 54.5h5.4v5.4h-5.4zM27.5 114.5h5.4v5.4h-5.4zM52.5 194.5h5.4v5.4h-5.4z"/><path fill="#c7c5f9" d="M122.5 39.5h5.4v5.4h-5.4zM122.5 44.5h5.4v5.4h-5.4z"/><path fill="#a8a7f6" d="M127.5 39.5h5.4v5.4h-5.4zM217.5 79.5h5.4v5.4h-5.4zM267.5 144.5h5.4v5.4h-5.4zM82.5 164.5h5.4v5.4h-5.4z"/><path fill="#a5a3f5" d="M132.5 39.5h5.4v5.4h-5.4zM72.5 79.5h5.4v5.4h-5.4zM222.5 79.5h5.4v5.4h-5.4zM272.5 144.5h5.4v5.4h-5.4zM77.5 164.5h5.4v5.4h-5.4z"/><path fill="#bebcf8" d="M137.5 39.5h5.4v5.4h-5.4zM272.5 59.5h5.4v5.4h-5.4z"/><path fill="#f3f3fe" d="M142.5 39.5h5.4v5.4h-5.4zM137.5 49.5h5.4v5.4h-5.4zM72.5 89.5h5.4v5.4h-5.4zM207.5 99.5h5.4v5.4h-5.4z"/><path fill="#fcdfdf" d="M147.5 39.5h5.4v5.4h-5.4zM142.5 169.5h5.4v5.4h-5.4zM157.5 169.5h5.4v5.4h-5.4zM222.5 169.5h5.4v5.4h-5.4z"/><path fill="#fabdbd" d="M152.5 39.5h5.4v5.4h-5.4zM222.5 164.5h5.4v5.4h-5.4zM137.5 169.5h5.4v5.4h-5.4zM162.5 169.5h5.4v5.4h-5.4zM217.5 169.5h5.4v5.4h-5.4z"/><path fill="#f69696" d="M177.5 39.5h5.4v5.4h-5.4zM182.5 64.5h5.4v5.4h-5.4zM117.5 89.5h5.4v5.4h-5.4zM152.5 99.5h5.4v5.4h-5.4zM27.5 119.5h5.4v5.4h-5.4zM182.5 164.5h5.4v5.4h-5.4z"/><path fill="#fac0c0" d="M192.5 39.5h5.4v5.4h-5.4zM187.5 69.5h5.4v5.4h-5.4zM97.5 89.5h5.4v5.4h-5.4zM27.5 159.5h5.4v5.4h-5.4z"/><path fill="#fbd2d2" d="M217.5 39.5h5.4v5.4h-5.4zM92.5 79.5h5.4v5.4h-5.4zM112.5 79.5h5.4v5.4h-5.4z"/><path fill="#f9baba" d="M247.5 39.5h5.4v5.4h-5.4zM142.5 89.5h5.4v5.4h-5.4z"/><path fill="#fffbfb" d="M267.5 39.5h5.4v5.4h-5.4zM252.5 44.5h5.4v5.4h-5.4zM312.5 54.5h5.4v5.4h-5.4zM72.5 94.5h5.4v5.4h-5.4zM77.5 99.5h5.4v5.4h-5.4zM97.5 104.5h5.4v5.4h-5.4zM72.5 109.5h5.4v5.4h-5.4zM37.5 114.5h5.4v5.4h-5.4zM82.5 119.5h5.4v5.4h-5.4zM47.5 149.5h5.4v5.4h-5.4zM162.5 154.5h5.4v5.4h-5.4zM232.5 154.5h5.4v5.4h-5.4z"/><path fill="#fde4e4" d="M272.5 39.5h5.4v5.4h-5.4zM247.5 44.5h5.4v5.4h-5.4zM87.5 79.5h5.4v5.4h-5.4zM82.5 99.5h5.4v5.4h-5.4zM102.5 104.5h5.4v5.4h-5.4zM47.5 144.5h5.4v5.4h-5.4zM172.5 149.5h5.4v5.4h-5.4z"/><path fill="#c1bff8" d="M27.5 44.5h5.4v5.4h-5.4zM27.5 59.5h5.4v5.4h-5.4z"/><path fill="#b7b6f7" d="M32.5 44.5h5.4v5.4h-5.4zM27.5 49.5h5.4v5.4h-5.4zM27.5 54.5h5.4v5.4h-5.4zM32.5 59.5h5.4v5.4h-5.4z"/><path fill="#aaa8f6" d="M37.5 44.5h5.4v5.4h-5.4zM272.5 64.5h5.4v5.4h-5.4zM272.5 69.5h5.4v5.4h-5.4zM212.5 84.5h5.4v5.4h-5.4zM212.5 89.5h5.4v5.4h-5.4zM277.5 109.5h10.4v5.4h-10.4z"/><path fill="#9896f4" d="M42.5 44.5h5.4v5.4h-5.4z"/><path fill="#8481f2" d="M47.5 44.5h5.4v5.4h-5.4zM312.5 129.5h5.4v5.4h-5.4zM287.5 134.5h5.4v5.4h-5.4zM302.5 139.5h5.4v5.4h-5.4zM302.5 144.5h5.4v5.4h-5.4z"/><path fill="#6e6bef" d="M52.5 44.5h5.4v5.4h-5.4z"/><path fill="#615eee" d="M57.5 44.5h5.4v5.4h-5.4z"/><path fill="#5d5aed" d="M62.5 44.5h5.4v5.4h-5.4zM272.5 129.5h5.4v5.4h-5.4z"/><path fill="#716ef0" d="M67.5 44.5h5.4v5.4h-5.4zM62.5 89.5h5.4v5.4h-5.4z"/><path fill="#9e9cf4" d="M72.5 44.5h5.4v5.4h-5.4zM52.5 109.5h5.4v5.4h-5.4z"/><path fill="#cdccfa" d="M77.5 44.5h5.4v5.4h-5.4zM217.5 59.5h10.4v5.4h-10.4zM247.5 64.5h5.4v5.4h-5.4zM297.5 64.5h5.4v5.4h-5.4zM247.5 69.5h5.4v5.4h-5.4zM297.5 69.5h5.4v5.4h-5.4zM337.5 79.5h25.4v5.4h-25.4zM307.5 99.5h10.4v5.4h-10.4zM97.5 119.5h10.4v5.4h-10.4zM107.5 124.5h5.4v5.4h-5.4zM107.5 129.5h5.4v5.4h-5.4zM107.5 134.5h5.4v5.4h-5.4zM87.5 139.5h10.4v5.4h-10.4zM107.5 139.5h5.4v5.4h-5.4zM107.5 144.5h5.4v5.4h-5.4zM107.5 149.5h5.4v5.4h-5.4zM272.5 154.5h5.4v5.4h-5.4zM317.5 154.5h45.4v5.4h-45.4zM272.5 159.5h5.4v5.4h-5.4zM262.5 174.5h5.4v5.4h-5.4zM287.5 174.5h10.4v5.4h-10.4zM262.5 179.5h5.4v5.4h-5.4zM2.5 189.5h25.4v5.4h-25.4zM42.5 189.5h5.4v5.4h-5.4z"/><path fill="#fcdada" d="M87.5 44.5h5.4v5.4h-5.4z"/><path fill="#fac1c1" d="M92.5 44.5h5.4v5.4h-5.4zM127.5 59.5h5.4v5.4h-5.4zM127.5 64.5h5.4v5.4h-5.4zM27.5 149.5h5.4v5.4h-5.4z"/><path fill="#acaaf6" d="M127.5 44.5h5.4v5.4h-5.4zM227.5 79.5h5.4v5.4h-5.4zM82.5 149.5h5.4v5.4h-5.4zM97.5 149.5h5.4v5.4h-5.4zM282.5 159.5h5.4v5.4h-5.4zM287.5 164.5h5.4v5.4h-5.4zM272.5 174.5h5.4v5.4h-5.4z"/><path fill="#b0aef6" d="M132.5 44.5h5.4v5.4h-5.4z"/><path fill="#cccbf9" d="M137.5 44.5h5.4v5.4h-5.4zM82.5 74.5h5.4v5.4h-5.4z"/><path fill="#f9bbbb" d="M192.5 44.5h5.4v5.4h-5.4zM107.5 69.5h5.4v5.4h-5.4zM127.5 119.5h5.4v5.4h-5.4zM227.5 119.5h5.4v5.4h-5.4zM62.5 134.5h5.4v5.4h-5.4zM37.5 159.5h5.4v5.4h-5.4zM117.5 174.5h5.4v5.4h-5.4zM82.5 184.5h5.4v5.4h-5.4zM97.5 184.5h5.4v5.4h-5.4z"/><path fill="#fde1e1" d="M217.5 44.5h5.4v5.4h-5.4zM137.5 139.5h5.4v5.4h-5.4z"/><path fill="#fac3c3" d="M222.5 44.5h5.4v5.4h-5.4zM107.5 104.5h5.4v5.4h-5.4zM112.5 109.5h5.4v5.4h-5.4zM2.5 149.5h25.4v5.4h-25.4zM32.5 174.5h5.4v5.4h-5.4z"/><path fill="#f9b2b2" d="M227.5 44.5h5.4v5.4h-5.4zM112.5 59.5h5.4v5.4h-5.4zM122.5 114.5h5.4v5.4h-5.4zM202.5 154.5h10.4v5.4h-10.4zM37.5 169.5h5.4v5.4h-5.4zM197.5 179.5h5.4v5.4h-5.4zM107.5 184.5h5.4v5.4h-5.4z"/><path fill="#fff9f9" d="M322.5 44.5h5.4v5.4h-5.4zM317.5 49.5h5.4v5.4h-5.4zM277.5 84.5h5.4v5.4h-5.4zM282.5 89.5h5.4v5.4h-5.4zM197.5 124.5h5.4v5.4h-5.4zM202.5 129.5h5.4v5.4h-5.4zM127.5 134.5h5.4v5.4h-5.4zM132.5 139.5h5.4v5.4h-5.4zM217.5 144.5h5.4v5.4h-5.4zM222.5 149.5h5.4v5.4h-5.4zM142.5 154.5h5.4v5.4h-5.4zM237.5 154.5h5.4v5.4h-5.4zM252.5 154.5h5.4v5.4h-5.4zM242.5 159.5h10.4v5.4h-10.4zM232.5 164.5h5.4v5.4h-5.4zM227.5 169.5h5.4v5.4h-5.4zM222.5 174.5h5.4v5.4h-5.4zM322.5 174.5h5.4v5.4h-5.4zM217.5 179.5h5.4v5.4h-5.4zM317.5 179.5h5.4v5.4h-5.4zM202.5 194.5h5.4v5.4h-5.4zM252.5 194.5h5.4v5.4h-5.4zM197.5 199.5h5.4v5.4h-5.4zM247.5 199.5h5.4v5.4h-5.4z"/><path fill="#9b99f4" d="M32.5 49.5h5.4v5.4h-5.4zM32.5 54.5h5.4v5.4h-5.4zM262.5 124.5h5.4v5.4h-5.4z"/><path fill="#8c8af3" d="M37.5 49.5h5.4v5.4h-5.4z"/><path fill="#8987f2" d="M42.5 49.5h5.4v5.4h-5.4zM32.5 69.5h5.4v5.4h-5.4zM337.5 89.5h25.4v5.4h-25.4z"/><path fill="#7c79f1" d="M47.5 49.5h5.4v5.4h-5.4zM52.5 64.5h10.4v5.4h-10.4zM262.5 134.5h5.4v5.4h-5.4z"/><path fill="#6461ee" d="M52.5 49.5h5.4v5.4h-5.4zM47.5 89.5h5.4v5.4h-5.4z"/><path fill="#5a57ed" d="M57.5 49.5h5.4v5.4h-5.4zM72.5 54.5h5.4v5.4h-5.4z"/><path fill="#5f5bee" d="M62.5 49.5h5.4v5.4h-5.4z"/><path fill="#6562ee" d="M67.5 49.5h5.4v5.4h-5.4z"/><path fill="#6f6bef" d="M72.5 49.5h5.4v5.4h-5.4zM277.5 124.5h5.4v5.4h-5.4zM282.5 129.5h5.4v5.4h-5.4zM317.5 134.5h5.4v5.4h-5.4zM322.5 139.5h5.4v5.4h-5.4z"/><path fill="#fafafe" d="M87.5 49.5h5.4v5.4h-5.4z"/><path fill="#d5d4fa" d="M127.5 49.5h5.4v5.4h-5.4z"/><path fill="#e0dffc" d="M132.5 49.5h5.4v5.4h-5.4z"/><path fill="#f7a3a3" d="M187.5 49.5h5.4v5.4h-5.4zM112.5 64.5h5.4v5.4h-5.4zM232.5 114.5h5.4v5.4h-5.4zM77.5 189.5h5.4v5.4h-5.4zM102.5 189.5h5.4v5.4h-5.4z"/><path fill="#f5f5fe" d="M217.5 49.5h5.4v5.4h-5.4zM27.5 179.5h5.4v5.4h-5.4z"/><path fill="#fde9e9" d="M232.5 49.5h5.4v5.4h-5.4zM57.5 139.5h5.4v5.4h-5.4zM42.5 164.5h5.4v5.4h-5.4z"/><path fill="#f4f4fe" d="M247.5 49.5h5.4v5.4h-5.4zM307.5 59.5h5.4v5.4h-5.4zM102.5 109.5h5.4v5.4h-5.4zM52.5 144.5h5.4v5.4h-5.4zM157.5 159.5h5.4v5.4h-5.4zM242.5 194.5h5.4v5.4h-5.4zM237.5 199.5h5.4v5.4h-5.4z"/><path fill="#ededfd" d="M252.5 49.5h5.4v5.4h-5.4zM287.5 54.5h5.4v5.4h-5.4zM217.5 99.5h5.4v5.4h-5.4zM97.5 109.5h5.4v5.4h-5.4zM107.5 114.5h5.4v5.4h-5.4zM112.5 119.5h5.4v5.4h-5.4zM87.5 124.5h5.4v5.4h-5.4zM52.5 149.5h5.4v5.4h-5.4zM67.5 179.5h5.4v5.4h-5.4z"/><path fill="#e4e3fc" d="M262.5 49.5h5.4v5.4h-5.4zM307.5 69.5h5.4v5.4h-5.4zM322.5 69.5h5.4v5.4h-5.4zM292.5 99.5h5.4v5.4h-5.4zM57.5 114.5h5.4v5.4h-5.4zM92.5 114.5h5.4v5.4h-5.4zM117.5 139.5h5.4v5.4h-5.4zM127.5 149.5h5.4v5.4h-5.4zM52.5 154.5h5.4v5.4h-5.4zM117.5 154.5h5.4v5.4h-5.4zM102.5 164.5h5.4v5.4h-5.4zM252.5 179.5h5.4v5.4h-5.4zM282.5 184.5h5.4v5.4h-5.4z"/><path fill="#8683f2" d="M37.5 54.5h5.4v5.4h-5.4zM57.5 74.5h5.4v5.4h-5.4z"/><path fill="#6c69ef" d="M47.5 54.5h5.4v5.4h-5.4zM337.5 94.5h25.4v5.4h-25.4zM337.5 109.5h25.4v5.4h-25.4z"/><path fill="#6763ee" d="M52.5 54.5h5.4v5.4h-5.4z"/><path fill="#615dee" d="M57.5 54.5h5.4v5.4h-5.4zM42.5 59.5h5.4v5.4h-5.4z"/><path fill="#5a56ed" d="M62.5 54.5h5.4v5.4h-5.4z"/><path fill="#5854ed" d="M67.5 54.5h5.4v5.4h-5.4zM62.5 84.5h5.4v5.4h-5.4z"/><path fill="#7875f0" d="M77.5 54.5h5.4v5.4h-5.4zM47.5 79.5h5.4v5.4h-5.4z"/><path fill="#afaef6" d="M82.5 54.5h5.4v5.4h-5.4z"/><path fill="#d1d0fa" d="M87.5 54.5h5.4v5.4h-5.4zM292.5 59.5h5.4v5.4h-5.4zM222.5 94.5h5.4v5.4h-5.4zM72.5 174.5h5.4v5.4h-5.4z"/><path fill="#dcdcfb" d="M92.5 54.5h5.4v5.4h-5.4z"/><path fill="#fbcaca" d="M107.5 54.5h5.4v5.4h-5.4zM137.5 84.5h5.4v5.4h-5.4zM187.5 154.5h5.4v5.4h-5.4z"/><path fill="#e4e4fc" d="M272.5 54.5h5.4v5.4h-5.4zM77.5 74.5h5.4v5.4h-5.4z"/><path fill="#e5e5fc" d="M277.5 54.5h10.4v5.4h-10.4zM277.5 79.5h10.4v5.4h-10.4zM37.5 194.5h5.4v5.4h-5.4z"/><path fill="#fefeff" d="M292.5 54.5h5.4v5.4h-5.4zM222.5 99.5h5.4v5.4h-5.4zM257.5 114.5h5.4v5.4h-5.4zM72.5 119.5h5.4v5.4h-5.4zM72.5 179.5h5.4v5.4h-5.4z"/><path fill="#faf9fe" d="M322.5 54.5h5.4v5.4h-5.4zM317.5 59.5h5.4v5.4h-5.4zM67.5 124.5h5.4v5.4h-5.4zM82.5 124.5h5.4v5.4h-5.4zM77.5 129.5h5.4v5.4h-5.4zM227.5 144.5h5.4v5.4h-5.4zM247.5 144.5h5.4v5.4h-5.4zM232.5 149.5h5.4v5.4h-5.4zM252.5 149.5h5.4v5.4h-5.4zM237.5 164.5h5.4v5.4h-5.4zM252.5 164.5h5.4v5.4h-5.4zM242.5 169.5h10.4v5.4h-10.4zM312.5 174.5h5.4v5.4h-5.4zM307.5 179.5h5.4v5.4h-5.4z"/><path fill="#5552ed" d="M47.5 59.5h5.4v5.4h-5.4z"/><path fill="#7673f0" d="M52.5 59.5h5.4v5.4h-5.4zM317.5 144.5h5.4v5.4h-5.4z"/><path fill="#7471f0" d="M57.5 59.5h5.4v5.4h-5.4z"/><path fill="#4f4bec" d="M62.5 59.5h5.4v5.4h-5.4zM67.5 74.5h5.4v5.4h-5.4z"/><path fill="#4945eb" d="M67.5 59.5h5.4v5.4h-5.4z"/><path fill="#625eee" d="M72.5 59.5h5.4v5.4h-5.4zM57.5 104.5h5.4v5.4h-5.4zM267.5 129.5h5.4v5.4h-5.4zM277.5 129.5h5.4v5.4h-5.4zM317.5 139.5h5.4v5.4h-5.4z"/><path fill="#8986f2" d="M82.5 59.5h5.4v5.4h-5.4zM272.5 119.5h5.4v5.4h-5.4z"/><path fill="#a6a4f5" d="M87.5 59.5h5.4v5.4h-5.4z"/><path fill="#cecdfa" d="M92.5 59.5h5.4v5.4h-5.4zM32.5 109.5h5.4v5.4h-5.4zM82.5 139.5h5.4v5.4h-5.4zM237.5 184.5h5.4v5.4h-5.4zM267.5 184.5h5.4v5.4h-5.4zM227.5 194.5h5.4v5.4h-5.4z"/><path fill="#d4d3fa" d="M227.5 59.5h5.4v5.4h-5.4zM242.5 59.5h5.4v5.4h-5.4zM92.5 64.5h5.4v5.4h-5.4zM212.5 64.5h5.4v5.4h-5.4zM247.5 74.5h5.4v5.4h-5.4zM237.5 84.5h5.4v5.4h-5.4zM322.5 84.5h5.4v5.4h-5.4zM317.5 89.5h5.4v5.4h-5.4zM272.5 104.5h5.4v5.4h-5.4zM267.5 109.5h5.4v5.4h-5.4zM252.5 134.5h5.4v5.4h-5.4zM252.5 139.5h5.4v5.4h-5.4zM307.5 164.5h5.4v5.4h-5.4zM262.5 169.5h5.4v5.4h-5.4zM297.5 174.5h5.4v5.4h-5.4zM232.5 179.5h10.4v5.4h-10.4zM262.5 184.5h5.4v5.4h-5.4zM222.5 189.5h5.4v5.4h-5.4zM2.5 194.5h25.4v5.4h-25.4z"/><path fill="#b1b0f7" d="M277.5 59.5h10.4v5.4h-10.4zM32.5 64.5h5.4v5.4h-5.4zM27.5 69.5h5.4v5.4h-5.4zM277.5 74.5h10.4v5.4h-10.4zM337.5 84.5h25.4v5.4h-25.4zM222.5 89.5h5.4v5.4h-5.4zM287.5 149.5h5.4v5.4h-5.4zM77.5 154.5h5.4v5.4h-5.4zM92.5 159.5h5.4v5.4h-5.4zM57.5 164.5h5.4v5.4h-5.4zM72.5 169.5h5.4v5.4h-5.4z"/><path fill="#fbfbff" d="M312.5 59.5h5.4v5.4h-5.4zM52.5 114.5h5.4v5.4h-5.4zM162.5 159.5h5.4v5.4h-5.4zM142.5 164.5h5.4v5.4h-5.4zM157.5 164.5h5.4v5.4h-5.4zM242.5 199.5h5.4v5.4h-5.4z"/><path fill="#bfbdf8" d="M27.5 64.5h5.4v5.4h-5.4zM37.5 184.5h5.4v5.4h-5.4z"/><path fill="#8b88f2" d="M37.5 64.5h5.4v5.4h-5.4z"/><path fill="#4a46eb" d="M42.5 64.5h5.4v5.4h-5.4zM47.5 94.5h5.4v5.4h-5.4z"/><path fill="#4642eb" d="M47.5 64.5h5.4v5.4h-5.4zM62.5 64.5h10.4v5.4h-10.4zM57.5 99.5h5.4v5.4h-5.4z"/><path fill="#7d7bf1" d="M72.5 64.5h5.4v5.4h-5.4z"/><path fill="#9290f3" d="M77.5 64.5h5.4v5.4h-5.4z"/><path fill="#8582f2" d="M82.5 64.5h5.4v5.4h-5.4zM62.5 94.5h5.4v5.4h-5.4z"/><path fill="#9a98f4" d="M87.5 64.5h5.4v5.4h-5.4zM217.5 84.5h5.4v5.4h-5.4zM292.5 144.5h5.4v5.4h-5.4zM87.5 154.5h5.4v5.4h-5.4zM82.5 159.5h5.4v5.4h-5.4zM67.5 164.5h5.4v5.4h-5.4zM62.5 169.5h5.4v5.4h-5.4z"/><path fill="#f68d8d" d="M167.5 64.5h5.4v5.4h-5.4zM162.5 174.5h5.4v5.4h-5.4z"/><path fill="#f58585" d="M172.5 64.5h5.4v5.4h-5.4zM127.5 94.5h5.4v5.4h-5.4zM57.5 124.5h5.4v5.4h-5.4z"/><path fill="#f58888" d="M177.5 64.5h5.4v5.4h-5.4zM147.5 99.5h5.4v5.4h-5.4zM162.5 114.5h5.4v5.4h-5.4zM162.5 119.5h5.4v5.4h-5.4zM147.5 129.5h10.4v5.4h-10.4zM77.5 194.5h30.4v5.4h-30.4zM172.5 194.5h5.4v5.4h-5.4zM57.5 204.5h5.4v5.4h-5.4zM307.5 204.5h5.4v5.4h-5.4zM57.5 209.5h5.4v5.4h-5.4zM307.5 209.5h5.4v5.4h-5.4zM57.5 214.5h5.4v5.4h-5.4zM307.5 214.5h5.4v5.4h-5.4zM57.5 219.5h5.4v5.4h-5.4zM307.5 219.5h5.4v5.4h-5.4zM57.5 224.5h5.4v5.4h-5.4zM307.5 224.5h5.4v5.4h-5.4z"/><path fill="#c7c6f9" d="M222.5 64.5h5.4v5.4h-5.4zM227.5 69.5h5.4v5.4h-5.4zM242.5 69.5h5.4v5.4h-5.4zM237.5 74.5h5.4v5.4h-5.4zM302.5 109.5h5.4v5.4h-5.4zM102.5 124.5h5.4v5.4h-5.4zM102.5 139.5h5.4v5.4h-5.4zM72.5 149.5h5.4v5.4h-5.4zM297.5 164.5h5.4v5.4h-5.4zM32.5 189.5h5.4v5.4h-5.4zM232.5 189.5h5.4v5.4h-5.4z"/><path fill="#d0cffa" d="M267.5 64.5h5.4v5.4h-5.4zM267.5 69.5h5.4v5.4h-5.4zM207.5 84.5h5.4v5.4h-5.4zM207.5 89.5h5.4v5.4h-5.4zM277.5 104.5h10.4v5.4h-10.4z"/><path fill="#9895f4" d="M277.5 64.5h10.4v5.4h-10.4zM277.5 69.5h10.4v5.4h-10.4zM297.5 124.5h10.4v5.4h-10.4zM297.5 129.5h10.4v5.4h-10.4z"/><path fill="#a3a1f5" d="M287.5 64.5h5.4v5.4h-5.4zM287.5 69.5h5.4v5.4h-5.4zM47.5 109.5h5.4v5.4h-5.4zM297.5 119.5h20.4v5.4h-20.4zM277.5 144.5h10.4v5.4h-10.4zM337.5 144.5h25.4v5.4h-25.4zM87.5 149.5h10.4v5.4h-10.4zM297.5 154.5h10.4v5.4h-10.4zM67.5 159.5h10.4v5.4h-10.4z"/><path fill="#bab8f8" d="M292.5 64.5h5.4v5.4h-5.4zM292.5 69.5h5.4v5.4h-5.4zM212.5 79.5h5.4v5.4h-5.4zM297.5 114.5h20.4v5.4h-20.4zM87.5 144.5h10.4v5.4h-10.4zM277.5 149.5h10.4v5.4h-10.4zM337.5 149.5h25.4v5.4h-25.4zM67.5 154.5h10.4v5.4h-10.4zM297.5 159.5h10.4v5.4h-10.4z"/><path fill="#5f5cee" d="M37.5 69.5h5.4v5.4h-5.4zM52.5 89.5h5.4v5.4h-5.4zM42.5 104.5h5.4v5.4h-5.4z"/><path fill="#3430e9" d="M42.5 69.5h5.4v5.4h-5.4z"/><path fill="#3d39ea" d="M47.5 69.5h5.4v5.4h-5.4zM62.5 69.5h5.4v5.4h-5.4zM62.5 74.5h5.4v5.4h-5.4z"/><path fill="#7976f0" d="M52.5 69.5h10.4v5.4h-10.4z"/><path fill="#4e4aec" d="M67.5 69.5h5.4v5.4h-5.4zM47.5 74.5h5.4v5.4h-5.4z"/><path fill="#cac8f9" d="M77.5 69.5h5.4v5.4h-5.4z"/><path fill="#a2a0f5" d="M82.5 69.5h5.4v5.4h-5.4zM57.5 79.5h5.4v5.4h-5.4zM327.5 89.5h5.4v5.4h-5.4zM322.5 94.5h5.4v5.4h-5.4zM312.5 149.5h5.4v5.4h-5.4z"/><path fill="#aeadf6" d="M87.5 69.5h5.4v5.4h-5.4z"/><path fill="#eeedfd" d="M92.5 69.5h5.4v5.4h-5.4zM207.5 74.5h5.4v5.4h-5.4z"/><path fill="#f8a6a6" d="M152.5 69.5h5.4v5.4h-5.4zM167.5 74.5h5.4v5.4h-5.4zM152.5 84.5h10.4v5.4h-10.4zM157.5 99.5h5.4v5.4h-5.4zM222.5 114.5h5.4v5.4h-5.4z"/><path fill="#f69494" d="M162.5 69.5h5.4v5.4h-5.4zM157.5 74.5h5.4v5.4h-5.4z"/><path fill="#f79898" d="M167.5 69.5h5.4v5.4h-5.4zM102.5 84.5h5.4v5.4h-5.4zM52.5 119.5h5.4v5.4h-5.4zM127.5 174.5h5.4v5.4h-5.4z"/><path fill="#f8afaf" d="M177.5 69.5h5.4v5.4h-5.4zM112.5 74.5h5.4v5.4h-5.4zM107.5 79.5h5.4v5.4h-5.4zM147.5 94.5h5.4v5.4h-5.4z"/><path fill="#f9b3b3" d="M182.5 69.5h5.4v5.4h-5.4zM107.5 74.5h5.4v5.4h-5.4zM152.5 94.5h5.4v5.4h-5.4zM147.5 174.5h5.4v5.4h-5.4z"/><path fill="#aeacf6" d="M2.5 74.5h25.4v5.4h-25.4zM42.5 109.5h5.4v5.4h-5.4zM52.5 174.5h5.4v5.4h-5.4zM62.5 174.5h5.4v5.4h-5.4zM47.5 179.5h5.4v5.4h-5.4z"/><path fill="#9593f3" d="M27.5 74.5h5.4v5.4h-5.4z"/><path fill="#6360ee" d="M32.5 74.5h5.4v5.4h-5.4zM67.5 84.5h5.4v5.4h-5.4zM57.5 89.5h5.4v5.4h-5.4zM32.5 99.5h5.4v5.4h-5.4z"/><path fill="#433feb" d="M37.5 74.5h5.4v5.4h-5.4z"/><path fill="#3631e9" d="M42.5 74.5h5.4v5.4h-5.4zM37.5 79.5h5.4v5.4h-5.4z"/><path fill="#8b89f2" d="M52.5 74.5h5.4v5.4h-5.4z"/><path fill="#bbb9f8" d="M72.5 74.5h5.4v5.4h-5.4z"/><path fill="#fef3f3" d="M92.5 74.5h5.4v5.4h-5.4zM72.5 114.5h5.4v5.4h-5.4z"/><path fill="#fef6f6" d="M122.5 74.5h5.4v5.4h-5.4z"/><path fill="#dad9fb" d="M212.5 74.5h5.4v5.4h-5.4zM207.5 79.5h5.4v5.4h-5.4z"/><path fill="#bdbbf8" d="M227.5 74.5h5.4v5.4h-5.4zM232.5 79.5h5.4v5.4h-5.4zM82.5 144.5h5.4v5.4h-5.4zM97.5 144.5h5.4v5.4h-5.4zM77.5 149.5h5.4v5.4h-5.4zM102.5 149.5h5.4v5.4h-5.4zM282.5 154.5h5.4v5.4h-5.4zM277.5 159.5h5.4v5.4h-5.4zM292.5 164.5h5.4v5.4h-5.4zM287.5 169.5h5.4v5.4h-5.4zM267.5 174.5h5.4v5.4h-5.4zM272.5 179.5h5.4v5.4h-5.4z"/><path fill="#c3c1f8" d="M232.5 74.5h5.4v5.4h-5.4zM77.5 144.5h5.4v5.4h-5.4zM102.5 144.5h5.4v5.4h-5.4zM277.5 154.5h5.4v5.4h-5.4zM292.5 169.5h5.4v5.4h-5.4zM267.5 179.5h5.4v5.4h-5.4z"/><path fill="#e1e0fc" d="M267.5 74.5h5.4v5.4h-5.4z"/><path fill="#c1c0f8" d="M272.5 74.5h5.4v5.4h-5.4z"/><path fill="#b8b7f7" d="M287.5 74.5h5.4v5.4h-5.4zM322.5 89.5h5.4v5.4h-5.4zM272.5 109.5h5.4v5.4h-5.4z"/><path fill="#c6c5f9" d="M292.5 74.5h5.4v5.4h-5.4zM257.5 124.5h5.4v5.4h-5.4z"/><path fill="#807df1" d="M2.5 79.5h25.4v5.4h-25.4zM47.5 84.5h5.4v5.4h-5.4zM267.5 124.5h5.4v5.4h-5.4z"/><path fill="#6a67ef" d="M27.5 79.5h5.4v5.4h-5.4zM277.5 134.5h5.4v5.4h-5.4z"/><path fill="#3f3bea" d="M32.5 79.5h5.4v5.4h-5.4z"/><path fill="#4e4bec" d="M42.5 79.5h5.4v5.4h-5.4z"/><path fill="#b2b1f7" d="M52.5 79.5h5.4v5.4h-5.4zM257.5 129.5h5.4v5.4h-5.4z"/><path fill="#4743eb" d="M62.5 79.5h5.4v5.4h-5.4zM52.5 104.5h5.4v5.4h-5.4z"/><path fill="#4844eb" d="M67.5 79.5h5.4v5.4h-5.4zM27.5 84.5h5.4v5.4h-5.4zM32.5 94.5h5.4v5.4h-5.4zM57.5 94.5h5.4v5.4h-5.4z"/><path fill="#feeded" d="M122.5 79.5h5.4v5.4h-5.4zM252.5 104.5h5.4v5.4h-5.4zM127.5 164.5h5.4v5.4h-5.4z"/><path fill="#efeffd" d="M272.5 79.5h5.4v5.4h-5.4z"/><path fill="#deddfb" d="M292.5 79.5h5.4v5.4h-5.4zM317.5 84.5h5.4v5.4h-5.4zM267.5 104.5h5.4v5.4h-5.4z"/><path fill="#5451ec" d="M2.5 84.5h25.4v5.4h-25.4z"/><path fill="#302ce9" d="M32.5 84.5h5.4v5.4h-5.4zM27.5 89.5h5.4v5.4h-5.4z"/><path fill="#3632e9" d="M37.5 84.5h5.4v5.4h-5.4zM32.5 89.5h5.4v5.4h-5.4zM27.5 94.5h5.4v5.4h-5.4z"/><path fill="#5b57ed" d="M42.5 84.5h5.4v5.4h-5.4zM37.5 99.5h5.4v5.4h-5.4z"/><path fill="#a4a2f5" d="M52.5 84.5h5.4v5.4h-5.4z"/><path fill="#9694f4" d="M57.5 84.5h5.4v5.4h-5.4zM262.5 139.5h5.4v5.4h-5.4z"/><path fill="#b8b6f7" d="M72.5 84.5h5.4v5.4h-5.4zM317.5 109.5h5.4v5.4h-5.4zM332.5 149.5h5.4v5.4h-5.4z"/><path fill="#a09ef5" d="M222.5 84.5h5.4v5.4h-5.4zM217.5 89.5h5.4v5.4h-5.4zM287.5 144.5h5.4v5.4h-5.4zM292.5 149.5h5.4v5.4h-5.4zM82.5 154.5h5.4v5.4h-5.4zM92.5 154.5h5.4v5.4h-5.4zM77.5 159.5h5.4v5.4h-5.4zM87.5 159.5h5.4v5.4h-5.4zM62.5 164.5h5.4v5.4h-5.4zM72.5 164.5h5.4v5.4h-5.4zM57.5 169.5h5.4v5.4h-5.4zM67.5 169.5h5.4v5.4h-5.4z"/><path fill="#c8c7f9" d="M327.5 84.5h5.4v5.4h-5.4zM317.5 94.5h5.4v5.4h-5.4zM37.5 189.5h5.4v5.4h-5.4z"/><path fill="#b9b7f7" d="M332.5 84.5h5.4v5.4h-5.4zM317.5 99.5h5.4v5.4h-5.4z"/><path fill="#2d28e8" d="M2.5 89.5h25.4v5.4h-25.4z"/><path fill="#4541eb" d="M37.5 89.5h5.4v5.4h-5.4z"/><path fill="#5c58ed" d="M42.5 89.5h5.4v5.4h-5.4z"/><path fill="#a19ff5" d="M67.5 89.5h5.4v5.4h-5.4zM62.5 109.5h5.4v5.4h-5.4z"/><path fill="#918ff3" d="M332.5 89.5h5.4v5.4h-5.4zM322.5 99.5h5.4v5.4h-5.4zM312.5 124.5h5.4v5.4h-5.4zM307.5 129.5h5.4v5.4h-5.4zM292.5 134.5h5.4v5.4h-5.4zM302.5 134.5h5.4v5.4h-5.4zM287.5 139.5h5.4v5.4h-5.4zM297.5 139.5h5.4v5.4h-5.4zM297.5 144.5h5.4v5.4h-5.4zM302.5 149.5h5.4v5.4h-5.4z"/><path fill="#2e29e8" d="M2.5 94.5h25.4v5.4h-25.4z"/><path fill="#514dec" d="M37.5 94.5h5.4v5.4h-5.4z"/><path fill="#534fec" d="M42.5 94.5h5.4v5.4h-5.4z"/><path fill="#3530e9" d="M52.5 94.5h5.4v5.4h-5.4z"/><path fill="#c3c2f8" d="M67.5 94.5h5.4v5.4h-5.4zM67.5 109.5h5.4v5.4h-5.4z"/><path fill="#f79b9b" d="M102.5 94.5h5.4v5.4h-5.4zM217.5 159.5h5.4v5.4h-5.4zM207.5 174.5h5.4v5.4h-5.4z"/><path fill="#f37171" d="M112.5 94.5h5.4v5.4h-5.4zM207.5 164.5h5.4v5.4h-5.4zM172.5 174.5h5.4v5.4h-5.4zM187.5 174.5h5.4v5.4h-5.4z"/><path fill="#f47373" d="M117.5 94.5h5.4v5.4h-5.4zM122.5 99.5h5.4v5.4h-5.4zM147.5 104.5h5.4v5.4h-5.4zM152.5 109.5h5.4v5.4h-5.4zM137.5 114.5h5.4v5.4h-5.4zM142.5 119.5h5.4v5.4h-5.4zM192.5 164.5h5.4v5.4h-5.4zM187.5 169.5h5.4v5.4h-5.4z"/><path fill="#f58181" d="M122.5 94.5h5.4v5.4h-5.4zM132.5 94.5h5.4v5.4h-5.4zM152.5 104.5h5.4v5.4h-5.4zM132.5 114.5h5.4v5.4h-5.4zM137.5 119.5h5.4v5.4h-5.4zM187.5 164.5h5.4v5.4h-5.4zM132.5 174.5h5.4v5.4h-5.4zM337.5 189.5h25.4v5.4h-25.4z"/><path fill="#f7a1a1" d="M142.5 94.5h5.4v5.4h-5.4zM112.5 179.5h5.4v5.4h-5.4zM317.5 194.5h5.4v5.4h-5.4z"/><path fill="#dbdbfb" d="M207.5 94.5h5.4v5.4h-5.4z"/><path fill="#8684f2" d="M327.5 94.5h5.4v5.4h-5.4zM327.5 109.5h5.4v5.4h-5.4zM307.5 134.5h5.4v5.4h-5.4zM267.5 139.5h10.4v5.4h-10.4z"/><path fill="#5754ed" d="M2.5 99.5h25.4v5.4h-25.4z"/><path fill="#5b58ed" d="M27.5 99.5h5.4v5.4h-5.4zM337.5 99.5h25.4v5.4h-25.4zM337.5 104.5h25.4v5.4h-25.4z"/><path fill="#413dea" d="M42.5 99.5h5.4v5.4h-5.4z"/><path fill="#2f2ae8" d="M47.5 99.5h5.4v5.4h-5.4z"/><path fill="#241fe7" d="M52.5 99.5h5.4v5.4h-5.4z"/><path fill="#9391f3" d="M62.5 99.5h5.4v5.4h-5.4z"/><path fill="#c9c8f9" d="M67.5 99.5h5.4v5.4h-5.4zM67.5 104.5h5.4v5.4h-5.4zM257.5 144.5h5.4v5.4h-5.4zM52.5 164.5h5.4v5.4h-5.4zM92.5 164.5h5.4v5.4h-5.4z"/><path fill="#e8e8fd" d="M72.5 99.5h5.4v5.4h-5.4zM72.5 104.5h5.4v5.4h-5.4zM257.5 149.5h5.4v5.4h-5.4zM47.5 164.5h5.4v5.4h-5.4zM92.5 169.5h5.4v5.4h-5.4z"/><path fill="#f36e6e" d="M117.5 99.5h5.4v5.4h-5.4zM127.5 99.5h5.4v5.4h-5.4zM147.5 109.5h5.4v5.4h-5.4zM142.5 114.5h5.4v5.4h-5.4zM192.5 169.5h5.4v5.4h-5.4z"/><path fill="#f26161" d="M132.5 99.5h5.4v5.4h-5.4z"/><path fill="#f26464" d="M137.5 99.5h5.4v5.4h-5.4zM322.5 199.5h5.4v5.4h-5.4z"/><path fill="#f47777" d="M142.5 99.5h5.4v5.4h-5.4zM172.5 189.5h5.4v5.4h-5.4zM327.5 194.5h5.4v5.4h-5.4zM317.5 199.5h5.4v5.4h-5.4z"/><path fill="#6460ee" d="M332.5 99.5h5.4v5.4h-5.4zM332.5 104.5h5.4v5.4h-5.4zM267.5 134.5h10.4v5.4h-10.4zM312.5 139.5h5.4v5.4h-5.4z"/><path fill="#9593f4" d="M2.5 104.5h25.4v5.4h-25.4zM307.5 124.5h5.4v5.4h-5.4zM297.5 134.5h5.4v5.4h-5.4zM292.5 139.5h5.4v5.4h-5.4zM297.5 149.5h5.4v5.4h-5.4zM307.5 149.5h5.4v5.4h-5.4z"/><path fill="#9491f3" d="M27.5 104.5h5.4v5.4h-5.4z"/><path fill="#908ef3" d="M32.5 104.5h5.4v5.4h-5.4z"/><path fill="#7f7cf1" d="M37.5 104.5h5.4v5.4h-5.4z"/><path fill="#4d49ec" d="M47.5 104.5h5.4v5.4h-5.4z"/><path fill="#9d9af4" d="M62.5 104.5h5.4v5.4h-5.4zM322.5 109.5h5.4v5.4h-5.4zM332.5 144.5h5.4v5.4h-5.4z"/><path fill="#f79797" d="M112.5 104.5h5.4v5.4h-5.4z"/><path fill="#f36c6c" d="M127.5 104.5h5.4v5.4h-5.4zM132.5 109.5h5.4v5.4h-5.4zM147.5 114.5h10.4v5.4h-10.4zM147.5 119.5h10.4v5.4h-10.4zM37.5 139.5h5.4v5.4h-5.4zM197.5 164.5h10.4v5.4h-10.4zM197.5 169.5h10.4v5.4h-10.4zM177.5 174.5h10.4v5.4h-10.4zM177.5 179.5h10.4v5.4h-10.4zM67.5 204.5h40.4v5.4h-40.4zM67.5 209.5h40.4v5.4h-40.4zM67.5 214.5h40.4v5.4h-40.4zM67.5 219.5h40.4v5.4h-40.4zM67.5 224.5h40.4v5.4h-40.4z"/><path fill="#f25a5a" d="M132.5 104.5h5.4v5.4h-5.4zM117.5 184.5h5.4v5.4h-5.4zM107.5 204.5h5.4v5.4h-5.4zM107.5 209.5h5.4v5.4h-5.4zM107.5 214.5h5.4v5.4h-5.4zM107.5 219.5h5.4v5.4h-5.4zM107.5 224.5h5.4v5.4h-5.4z"/><path fill="#f15757" d="M137.5 104.5h5.4v5.4h-5.4zM167.5 189.5h5.4v5.4h-5.4zM327.5 199.5h5.4v5.4h-5.4z"/><path fill="#f26565" d="M142.5 104.5h5.4v5.4h-5.4zM137.5 109.5h5.4v5.4h-5.4zM42.5 124.5h5.4v5.4h-5.4zM112.5 189.5h5.4v5.4h-5.4z"/><path fill="#f69393" d="M157.5 104.5h5.4v5.4h-5.4zM162.5 109.5h5.4v5.4h-5.4zM137.5 124.5h5.4v5.4h-5.4zM142.5 129.5h5.4v5.4h-5.4zM187.5 184.5h5.4v5.4h-5.4z"/><path fill="#fde7e7" d="M217.5 104.5h5.4v5.4h-5.4zM127.5 129.5h5.4v5.4h-5.4zM67.5 184.5h5.4v5.4h-5.4zM317.5 184.5h5.4v5.4h-5.4zM297.5 194.5h5.4v5.4h-5.4z"/><path fill="#d8d7fb" d="M292.5 104.5h5.4v5.4h-5.4zM262.5 149.5h5.4v5.4h-5.4zM47.5 169.5h5.4v5.4h-5.4zM87.5 169.5h5.4v5.4h-5.4z"/><path fill="#b4b2f7" d="M317.5 104.5h5.4v5.4h-5.4zM327.5 149.5h5.4v5.4h-5.4z"/><path fill="#908df3" d="M322.5 104.5h5.4v5.4h-5.4zM327.5 144.5h5.4v5.4h-5.4z"/><path fill="#dfdefc" d="M27.5 109.5h5.4v5.4h-5.4zM262.5 114.5h5.4v5.4h-5.4zM67.5 119.5h5.4v5.4h-5.4zM257.5 119.5h5.4v5.4h-5.4z"/><path fill="#bdbcf8" d="M37.5 109.5h5.4v5.4h-5.4zM62.5 114.5h5.4v5.4h-5.4z"/><path fill="#9d9bf4" d="M57.5 109.5h5.4v5.4h-5.4z"/><path fill="#f36a6a" d="M142.5 109.5h5.4v5.4h-5.4zM172.5 184.5h5.4v5.4h-5.4zM332.5 194.5h5.4v5.4h-5.4z"/><path fill="#f57f7f" d="M157.5 109.5h5.4v5.4h-5.4zM37.5 124.5h5.4v5.4h-5.4zM142.5 124.5h5.4v5.4h-5.4zM57.5 134.5h5.4v5.4h-5.4z"/><path fill="#b3b1f7" d="M287.5 109.5h5.4v5.4h-5.4z"/><path fill="#c4c3f9" d="M292.5 109.5h5.4v5.4h-5.4zM47.5 174.5h5.4v5.4h-5.4z"/><path fill="#fcdddd" d="M77.5 114.5h5.4v5.4h-5.4zM252.5 114.5h5.4v5.4h-5.4zM247.5 119.5h5.4v5.4h-5.4zM172.5 144.5h5.4v5.4h-5.4zM227.5 159.5h5.4v5.4h-5.4z"/><path fill="#f79999" d="M127.5 114.5h5.4v5.4h-5.4zM132.5 119.5h5.4v5.4h-5.4z"/><path fill="#f47575" d="M157.5 114.5h5.4v5.4h-5.4zM157.5 119.5h5.4v5.4h-5.4zM147.5 124.5h10.4v5.4h-10.4zM107.5 194.5h5.4v5.4h-5.4zM77.5 199.5h30.4v5.4h-30.4zM62.5 204.5h5.4v5.4h-5.4zM312.5 204.5h5.4v5.4h-5.4zM62.5 209.5h5.4v5.4h-5.4zM312.5 209.5h5.4v5.4h-5.4zM62.5 214.5h5.4v5.4h-5.4zM312.5 214.5h5.4v5.4h-5.4zM62.5 219.5h5.4v5.4h-5.4zM312.5 219.5h5.4v5.4h-5.4zM62.5 224.5h5.4v5.4h-5.4zM312.5 224.5h5.4v5.4h-5.4z"/><path fill="#9f9df5" d="M272.5 114.5h5.4v5.4h-5.4zM267.5 119.5h5.4v5.4h-5.4z"/><path fill="#8f8cf3" d="M277.5 114.5h10.4v5.4h-10.4zM292.5 124.5h5.4v5.4h-5.4zM292.5 129.5h5.4v5.4h-5.4zM337.5 139.5h25.4v5.4h-25.4z"/><path fill="#9a97f4" d="M287.5 114.5h5.4v5.4h-5.4zM322.5 114.5h5.4v5.4h-5.4zM292.5 119.5h5.4v5.4h-5.4zM317.5 119.5h5.4v5.4h-5.4z"/><path fill="#afadf6" d="M292.5 114.5h5.4v5.4h-5.4zM317.5 114.5h5.4v5.4h-5.4zM322.5 149.5h5.4v5.4h-5.4z"/><path fill="#8886f2" d="M327.5 114.5h5.4v5.4h-5.4zM317.5 124.5h5.4v5.4h-5.4zM277.5 139.5h5.4v5.4h-5.4zM332.5 139.5h5.4v5.4h-5.4z"/><path fill="#7b79f1" d="M332.5 114.5h5.4v5.4h-5.4zM327.5 119.5h5.4v5.4h-5.4zM322.5 124.5h5.4v5.4h-5.4zM317.5 129.5h5.4v5.4h-5.4zM332.5 134.5h5.4v5.4h-5.4zM327.5 139.5h5.4v5.4h-5.4z"/><path fill="#f68b8b" d="M2.5 119.5h25.4v5.4h-25.4zM47.5 134.5h5.4v5.4h-5.4z"/><path fill="#f58989" d="M47.5 119.5h5.4v5.4h-5.4zM2.5 144.5h25.4v5.4h-25.4z"/><path fill="#f2f1fe" d="M62.5 119.5h5.4v5.4h-5.4z"/><path fill="#d7d7fb" d="M107.5 119.5h5.4v5.4h-5.4zM92.5 124.5h5.4v5.4h-5.4z"/><path fill="#7e7bf1" d="M277.5 119.5h10.4v5.4h-10.4zM287.5 124.5h5.4v5.4h-5.4zM262.5 129.5h5.4v5.4h-5.4zM287.5 129.5h5.4v5.4h-5.4zM337.5 134.5h25.4v5.4h-25.4z"/><path fill="#8784f2" d="M287.5 119.5h5.4v5.4h-5.4zM322.5 119.5h5.4v5.4h-5.4z"/><path fill="#f36767" d="M2.5 124.5h25.4v5.4h-25.4zM27.5 129.5h5.4v5.4h-5.4zM2.5 139.5h25.4v5.4h-25.4zM152.5 179.5h5.4v5.4h-5.4zM172.5 179.5h5.4v5.4h-5.4z"/><path fill="#f37070" d="M27.5 124.5h5.4v5.4h-5.4z"/><path fill="#f58383" d="M32.5 124.5h5.4v5.4h-5.4zM202.5 159.5h10.4v5.4h-10.4zM197.5 174.5h5.4v5.4h-5.4z"/><path fill="#f15858" d="M47.5 124.5h5.4v5.4h-5.4z"/><path fill="#f15959" d="M52.5 124.5h5.4v5.4h-5.4zM32.5 139.5h5.4v5.4h-5.4zM147.5 179.5h5.4v5.4h-5.4z"/><path fill="#7370f0" d="M272.5 124.5h5.4v5.4h-5.4zM282.5 124.5h5.4v5.4h-5.4zM322.5 134.5h5.4v5.4h-5.4zM312.5 144.5h5.4v5.4h-5.4z"/><path fill="#f25e5e" d="M2.5 129.5h25.4v5.4h-25.4zM57.5 129.5h5.4v5.4h-5.4zM2.5 134.5h25.4v5.4h-25.4zM167.5 179.5h5.4v5.4h-5.4z"/><path fill="#f47979" d="M32.5 129.5h5.4v5.4h-5.4zM37.5 134.5h5.4v5.4h-5.4z"/><path fill="#f58080" d="M37.5 129.5h5.4v5.4h-5.4zM117.5 179.5h5.4v5.4h-5.4z"/><path fill="#f36969" d="M47.5 129.5h5.4v5.4h-5.4zM157.5 179.5h5.4v5.4h-5.4z"/><path fill="#f04646" d="M52.5 129.5h5.4v5.4h-5.4z"/><path fill="#e6e5fc" d="M87.5 129.5h5.4v5.4h-5.4z"/><path fill="#dfdefb" d="M92.5 129.5h5.4v5.4h-5.4zM237.5 194.5h5.4v5.4h-5.4z"/><path fill="#f26262" d="M27.5 134.5h5.4v5.4h-5.4z"/><path fill="#f36b6b" d="M32.5 134.5h5.4v5.4h-5.4z"/><path fill="#f36f6f" d="M52.5 134.5h5.4v5.4h-5.4zM122.5 179.5h5.4v5.4h-5.4z"/><path fill="#f26363" d="M27.5 139.5h5.4v5.4h-5.4zM337.5 194.5h25.4v5.4h-25.4zM107.5 199.5h5.4v5.4h-5.4zM167.5 199.5h5.4v5.4h-5.4zM317.5 204.5h5.4v5.4h-5.4zM317.5 209.5h5.4v5.4h-5.4zM317.5 214.5h5.4v5.4h-5.4zM317.5 219.5h5.4v5.4h-5.4zM317.5 224.5h5.4v5.4h-5.4z"/><path fill="#8d8af3" d="M282.5 139.5h5.4v5.4h-5.4z"/><path fill="#f58282" d="M27.5 144.5h5.4v5.4h-5.4z"/><path fill="#f47474" d="M32.5 144.5h5.4v5.4h-5.4z"/><path fill="#f58686" d="M37.5 144.5h5.4v5.4h-5.4z"/><path fill="#f9b8b8" d="M42.5 144.5h5.4v5.4h-5.4zM152.5 174.5h5.4v5.4h-5.4z"/><path fill="#b5b3f7" d="M262.5 144.5h5.4v5.4h-5.4zM87.5 164.5h5.4v5.4h-5.4zM52.5 169.5h5.4v5.4h-5.4z"/><path fill="#7a77f1" d="M307.5 144.5h5.4v5.4h-5.4z"/><path fill="#8380f1" d="M322.5 144.5h5.4v5.4h-5.4z"/><path fill="#fabcbc" d="M32.5 149.5h5.4v5.4h-5.4z"/><path fill="#aba9f6" d="M317.5 149.5h5.4v5.4h-5.4z"/><path fill="#b4b3f7" d="M287.5 154.5h5.4v5.4h-5.4zM292.5 159.5h5.4v5.4h-5.4zM277.5 164.5h5.4v5.4h-5.4zM282.5 169.5h5.4v5.4h-5.4z"/><path fill="#f69090" d="M192.5 159.5h5.4v5.4h-5.4zM107.5 189.5h5.4v5.4h-5.4z"/><path fill="#f58787" d="M197.5 159.5h5.4v5.4h-5.4zM212.5 159.5h5.4v5.4h-5.4zM202.5 174.5h5.4v5.4h-5.4z"/><path fill="#fac8c8" d="M127.5 169.5h5.4v5.4h-5.4z"/><path fill="#f69292" d="M172.5 169.5h5.4v5.4h-5.4z"/><path fill="#f58484" d="M177.5 169.5h5.4v5.4h-5.4zM137.5 174.5h5.4v5.4h-5.4z"/><path fill="#f47a7a" d="M182.5 169.5h5.4v5.4h-5.4zM167.5 174.5h5.4v5.4h-5.4z"/><path fill="#a7a5f5" d="M57.5 174.5h5.4v5.4h-5.4z"/><path fill="#f0f0fd" d="M32.5 179.5h5.4v5.4h-5.4z"/><path fill="#bbbaf8" d="M42.5 179.5h5.4v5.4h-5.4z"/><path fill="#c5c4f9" d="M57.5 179.5h5.4v5.4h-5.4z"/><path fill="#dadafb" d="M62.5 179.5h5.4v5.4h-5.4z"/><path fill="#f25c5c" d="M127.5 179.5h5.4v5.4h-5.4z"/><path fill="#f04848" d="M132.5 179.5h5.4v5.4h-5.4z"/><path fill="#f04343" d="M137.5 179.5h5.4v5.4h-5.4z"/><path fill="#f04d4d" d="M142.5 179.5h5.4v5.4h-5.4z"/><path fill="#f25f5f" d="M162.5 179.5h5.4v5.4h-5.4z"/><path fill="#b1aff7" d="M42.5 184.5h5.4v5.4h-5.4z"/><path fill="#b6b5f7" d="M47.5 184.5h5.4v5.4h-5.4z"/><path fill="#cfcefa" d="M52.5 184.5h5.4v5.4h-5.4z"/><path fill="#f47d7d" d="M112.5 184.5h5.4v5.4h-5.4z"/><path fill="#f04747" d="M122.5 184.5h5.4v5.4h-5.4zM117.5 189.5h5.4v5.4h-5.4zM327.5 204.5h35.4v5.4h-35.4zM327.5 209.5h35.4v5.4h-35.4zM327.5 214.5h35.4v5.4h-35.4zM327.5 219.5h35.4v5.4h-35.4zM327.5 224.5h35.4v5.4h-35.4z"/><path fill="#ef3636" d="M127.5 184.5h5.4v5.4h-5.4zM152.5 184.5h5.4v5.4h-5.4zM117.5 194.5h5.4v5.4h-5.4z"/><path fill="#ed2525" d="M132.5 184.5h5.4v5.4h-5.4zM147.5 184.5h5.4v5.4h-5.4zM127.5 189.5h5.4v5.4h-5.4zM152.5 189.5h5.4v5.4h-5.4zM122.5 194.5h5.4v5.4h-5.4zM117.5 199.5h5.4v5.4h-5.4z"/><path fill="#ec1c1c" d="M137.5 184.5h10.4v5.4h-10.4zM152.5 194.5h5.4v5.4h-5.4zM152.5 199.5h5.4v5.4h-5.4zM117.5 204.5h5.4v5.4h-5.4zM152.5 204.5h5.4v5.4h-5.4zM117.5 209.5h5.4v5.4h-5.4zM152.5 209.5h5.4v5.4h-5.4zM117.5 214.5h5.4v5.4h-5.4zM152.5 214.5h5.4v5.4h-5.4zM117.5 219.5h5.4v5.4h-5.4zM152.5 219.5h5.4v5.4h-5.4zM117.5 224.5h5.4v5.4h-5.4zM152.5 224.5h5.4v5.4h-5.4z"/><path fill="#ef4040" d="M157.5 184.5h5.4v5.4h-5.4zM162.5 189.5h5.4v5.4h-5.4z"/><path fill="#f04545" d="M162.5 184.5h5.4v5.4h-5.4z"/><path fill="#f15353" d="M167.5 184.5h5.4v5.4h-5.4zM332.5 199.5h5.4v5.4h-5.4z"/><path fill="#f9f8fe" d="M52.5 189.5h5.4v5.4h-5.4z"/><path fill="#ee3535" d="M122.5 189.5h5.4v5.4h-5.4zM112.5 204.5h5.4v5.4h-5.4zM112.5 209.5h5.4v5.4h-5.4zM112.5 214.5h5.4v5.4h-5.4zM112.5 219.5h5.4v5.4h-5.4zM112.5 224.5h5.4v5.4h-5.4z"/><path fill="#ec1717" d="M132.5 189.5h5.4v5.4h-5.4zM147.5 189.5h5.4v5.4h-5.4zM122.5 199.5h5.4v5.4h-5.4z"/><path fill="#ec1010" d="M137.5 189.5h10.4v5.4h-10.4zM147.5 194.5h5.4v5.4h-5.4zM147.5 199.5h5.4v5.4h-5.4zM122.5 204.5h5.4v5.4h-5.4zM147.5 204.5h5.4v5.4h-5.4zM122.5 209.5h5.4v5.4h-5.4zM147.5 209.5h5.4v5.4h-5.4zM122.5 214.5h5.4v5.4h-5.4zM147.5 214.5h5.4v5.4h-5.4zM122.5 219.5h5.4v5.4h-5.4zM147.5 219.5h5.4v5.4h-5.4zM122.5 224.5h5.4v5.4h-5.4zM147.5 224.5h5.4v5.4h-5.4z"/><path fill="#ee3333" d="M157.5 189.5h5.4v5.4h-5.4z"/><path fill="#f9f9fe" d="M42.5 194.5h5.4v5.4h-5.4z"/><path fill="#f15050" d="M112.5 194.5h5.4v5.4h-5.4zM337.5 199.5h25.4v5.4h-25.4zM322.5 204.5h5.4v5.4h-5.4zM322.5 209.5h5.4v5.4h-5.4zM322.5 214.5h5.4v5.4h-5.4zM322.5 219.5h5.4v5.4h-5.4zM322.5 224.5h5.4v5.4h-5.4z"/><path fill="#ec1818" d="M127.5 194.5h5.4v5.4h-5.4z"/><path fill="#eb0f0f" d="M132.5 194.5h5.4v5.4h-5.4zM127.5 199.5h5.4v5.4h-5.4z"/><path fill="#eb0a0a" d="M137.5 194.5h10.4v5.4h-10.4zM137.5 199.5h10.4v5.4h-10.4zM127.5 204.5h20.4v5.4h-20.4zM127.5 209.5h20.4v5.4h-20.4zM127.5 214.5h20.4v5.4h-20.4zM127.5 219.5h20.4v5.4h-20.4zM127.5 224.5h20.4v5.4h-20.4z"/><path fill="#ee2c2c" d="M157.5 194.5h5.4v5.4h-5.4zM157.5 199.5h5.4v5.4h-5.4zM157.5 204.5h5.4v5.4h-5.4zM157.5 209.5h5.4v5.4h-5.4zM157.5 214.5h5.4v5.4h-5.4zM157.5 219.5h5.4v5.4h-5.4zM157.5 224.5h5.4v5.4h-5.4z"/><path fill="#ef3e3e" d="M162.5 194.5h5.4v5.4h-5.4zM112.5 199.5h5.4v5.4h-5.4zM162.5 199.5h5.4v5.4h-5.4zM162.5 204.5h5.4v5.4h-5.4zM162.5 209.5h5.4v5.4h-5.4zM162.5 214.5h5.4v5.4h-5.4zM162.5 219.5h5.4v5.4h-5.4zM162.5 224.5h5.4v5.4h-5.4z"/><path fill="#f25d5d" d="M167.5 194.5h5.4v5.4h-5.4z"/><path fill="#eb0c0c" d="M132.5 199.5h5.4v5.4h-5.4z"/><path fill="#f26666" d="M167.5 204.5h5.4v5.4h-5.4zM167.5 209.5h5.4v5.4h-5.4zM167.5 214.5h5.4v5.4h-5.4zM167.5 219.5h5.4v5.4h-5.4zM167.5 224.5h5.4v5.4h-5.4z"/></g></g><filter id="blurAp0" x="-50%" y="-50%" width="200%" height="200%"><feGaussianBlur stdDeviation="1.2"/></filter><polygon clip-path="url(#clipA)" points="201.0,19.0 218.0,19.0 216.0,23.5 204.0,23.5" fill="#ec1919" filter="url(#blurAp0)"/><filter id="blurAp1" x="-50%" y="-50%" width="200%" height="200%"><feGaussianBlur stdDeviation="2.5"/></filter><polygon clip-path="url(#clipA)" points="72.5,86.0 86.0,69.5 95.0,65.5 100.0,73.0 91.0,84.0 82.0,93.0 73.0,94.0" fill="#f69494" filter="url(#blurAp1)"/><filter id="blurAp2" x="-50%" y="-50%" width="200%" height="200%"><feGaussianBlur stdDeviation="1.0"/></filter><polygon clip-path="url(#clipA)" points="22.9,20.8 31.6,20.8 31.6,34.8 22.9,34.8" fill="#c6c4f9" filter="url(#blurAp2)"/><filter id="blurAp3" x="-50%" y="-50%" width="200%" height="200%"><feGaussianBlur stdDeviation="0.8"/></filter><polygon clip-path="url(#clipA)" points="36.0,21.3 51.0,21.3 51.0,23.5 36.0,23.5" fill="#7e7bf1" filter="url(#blurAp3)"/><filter id="blurAp4" x="-50%" y="-50%" width="200%" height="200%"><feGaussianBlur stdDeviation="0.5"/></filter><polygon clip-path="url(#clipA)" points="36.3,19.0 51.0,19.0 51.0,21.3 37.0,21.6" fill="#eb0a0a" filter="url(#blurAp4)"/><filter id="blurAp5" x="-50%" y="-50%" width="200%" height="200%"><feGaussianBlur stdDeviation="1.5"/></filter><polygon clip-path="url(#clipA)" points="81.6,74.4 87.7,67.2 89.5,56.3 92.5,49.6 95.0,49.6 93.1,59.9 90.1,69.6 85.3,75.0 79.6,78.4" fill="#6f6cef" filter="url(#blurAp5)"/><filter id="blurAp6" x="-50%" y="-50%" width="200%" height="200%"><feGaussianBlur stdDeviation="1.2"/></filter><polygon clip-path="url(#clipA)" points="41.1,61.1 59.8,61.1 59.8,66.0 72.0,66.0 72.0,74.4 81.6,74.4 85.0,71.5 79.6,78.4 72.3,84.7 65.0,88.8 58.0,90.0 56.2,85.3 56.8,78.1 53.2,68.4 50.2,64.1 47.1,66.6 45.9,75.6 41.1,75.6" fill="#1914e6" filter="url(#blurAp6)"/><filter id="blurAp7" x="-50%" y="-50%" width="200%" height="200%"><feGaussianBlur stdDeviation="1.2"/></filter><polygon clip-path="url(#clipA)" points="50.2,93.3 56.0,93.3 61.0,99.0 61.0,107.5 50.4,107.5" fill="#1914e6" filter="url(#blurAp7)"/><filter id="blurAp8" x="-50%" y="-50%" width="200%" height="200%"><feGaussianBlur stdDeviation="2.0"/></filter><polygon clip-path="url(#clipA)" points="60.0,107.5 64.0,108.0 68.0,114.0 68.0,125.0 62.0,128.0 60.0,128.0" fill="#7e7bf1" filter="url(#blurAp8)"/><filter id="blurAp9" x="-50%" y="-50%" width="200%" height="200%"><feGaussianBlur stdDeviation="0.8"/></filter><polygon clip-path="url(#clipA)" points="32.0,55.3 44.5,55.3 42.0,58.7 32.0,58.7" fill="#ec1919" filter="url(#blurAp9)"/><filter id="blurAp10" x="-50%" y="-50%" width="200%" height="200%"><feGaussianBlur stdDeviation="1.3"/></filter><polygon clip-path="url(#clipA)" points="48.3,64.1 52.0,63.5 55.6,70.8 57.4,80.5 56.8,89.0 53.8,90.2 51.4,85.3 50.2,75.6 49.0,68.4" fill="#fabcbc" filter="url(#blurAp10)"/><filter id="blurAp11" x="-50%" y="-50%" width="200%" height="200%"><feGaussianBlur stdDeviation="1.2"/></filter><polygon clip-path="url(#clipA)" points="52.5,76.0 55.5,80.0 56.0,87.0 54.0,88.5 52.5,84.0" fill="#f58484" filter="url(#blurAp11)"/><filter id="blurAp12" x="-50%" y="-50%" width="200%" height="200%"><feGaussianBlur stdDeviation="1.0"/></filter><polygon clip-path="url(#clipA)" points="73.8,66.0 81.6,66.0 81.6,68.0 76.5,71.4 73.8,71.4" fill="#ee2929" filter="url(#blurAp12)"/><filter id="blurAp13" x="-50%" y="-50%" width="200%" height="200%"><feGaussianBlur stdDeviation="1.0"/></filter><polygon clip-path="url(#clipA)" points="97.3,34.8 103.5,34.8 97.3,43.5" fill="#ee2929" filter="url(#blurAp13)"/><filter id="blurAp14" x="-50%" y="-50%" width="200%" height="200%"><feGaussianBlur stdDeviation="1.0"/></filter><polygon clip-path="url(#clipA)" points="88.2,45.3 95.6,45.3 88.2,50.5" fill="#ee2929" filter="url(#blurAp14)"/><filter id="blurAp15" x="-50%" y="-50%" width="200%" height="200%"><feGaussianBlur stdDeviation="1.0"/></filter><polygon clip-path="url(#clipA)" points="51.0,128.4 60.0,128.4 58.0,133.0 51.0,138.8" fill="#ee2929" filter="url(#blurAp15)"/><filter id="blurAp16" x="-50%" y="-50%" width="200%" height="200%"><feGaussianBlur stdDeviation="1.0"/></filter><polygon clip-path="url(#clipA)" points="22.0,138.8 51.0,138.8 45.0,142.0 22.0,143.0" fill="#ee2929" filter="url(#blurAp16)"/><g clip-path="url(#clipA)" fill="#fff"><polygon points="22.0,35.0 31.6,35.0 31.6,19.0 36.3,19.0 36.3,23.5 51.0,23.5 51.0,19.0 107.0,19.0 107.0,35.0 97.0,35.0 97.0,45.5 88.0,45.5 88.0,57.0 83.0,57.0 83.0,65.5 59.7,65.5 59.7,55.2 32.0,55.2 32.0,65.6 40.7,65.6 40.7,76.0 50.4,76.0 50.4,107.7 60.0,107.7 60.0,128.4 51.0,128.4 51.0,138.8 22.0,138.8"/></g><g clip-path="url(#clipA)" fill="#000"><circle cx="154.9" cy="22.0" r="1.25"/><circle cx="266.8" cy="22.0" r="1.25"/><circle cx="150.9" cy="26.4" r="1.25"/><circle cx="262.8" cy="26.4" r="1.25"/><circle cx="154.9" cy="30.8" r="1.25"/><circle cx="162.9" cy="30.8" r="1.25"/><circle cx="170.9" cy="30.8" r="1.25"/><circle cx="226.8" cy="30.8" r="1.25"/><circle cx="234.8" cy="30.8" r="1.25"/><circle cx="242.8" cy="30.8" r="1.25"/><circle cx="250.8" cy="30.8" r="1.25"/><circle cx="258.8" cy="30.8" r="1.25"/><circle cx="150.9" cy="35.3" r="1.25"/><circle cx="158.9" cy="35.3" r="1.25"/><circle cx="166.9" cy="35.3" r="1.25"/><circle cx="174.9" cy="35.3" r="1.25"/><circle cx="230.8" cy="35.3" r="1.25"/><circle cx="238.8" cy="35.3" r="1.25"/><circle cx="246.8" cy="35.3" r="1.25"/><circle cx="254.8" cy="35.3" r="1.25"/><circle cx="154.9" cy="39.7" r="1.25"/><circle cx="162.9" cy="39.7" r="1.25"/><circle cx="170.9" cy="39.7" r="1.25"/><circle cx="178.9" cy="39.7" r="1.25"/><circle cx="226.8" cy="39.7" r="1.25"/><circle cx="234.8" cy="39.7" r="1.25"/><circle cx="242.8" cy="39.7" r="1.25"/><circle cx="250.8" cy="39.7" r="1.25"/><circle cx="130.9" cy="39.7" r="1.25"/><circle cx="166.9" cy="44.2" r="1.25"/><circle cx="174.9" cy="44.2" r="1.25"/><circle cx="182.9" cy="44.2" r="1.25"/><circle cx="190.9" cy="44.2" r="1.25"/><circle cx="230.8" cy="44.2" r="1.25"/><circle cx="126.9" cy="44.2" r="1.25"/><circle cx="134.9" cy="44.2" r="1.25"/><circle cx="170.9" cy="48.6" r="1.25"/><circle cx="178.9" cy="48.6" r="1.25"/><circle cx="186.9" cy="48.6" r="1.25"/><circle cx="194.9" cy="48.6" r="1.25"/><circle cx="226.8" cy="48.6" r="1.25"/><circle cx="122.9" cy="48.6" r="1.25"/><circle cx="130.9" cy="48.6" r="1.25"/><circle cx="174.9" cy="53.0" r="1.25"/><circle cx="182.9" cy="53.0" r="1.25"/><circle cx="190.9" cy="53.0" r="1.25"/><circle cx="170.9" cy="57.5" r="1.25"/><circle cx="178.9" cy="57.5" r="1.25"/><circle cx="186.9" cy="57.5" r="1.25"/><circle cx="194.9" cy="57.5" r="1.25"/><circle cx="166.9" cy="61.9" r="1.25"/><circle cx="174.9" cy="61.9" r="1.25"/><circle cx="182.9" cy="61.9" r="1.25"/><circle cx="190.9" cy="61.9" r="1.25"/><circle cx="118.9" cy="61.9" r="1.25"/><circle cx="126.9" cy="61.9" r="1.25"/><circle cx="86.9" cy="61.9" r="1.25"/><circle cx="286.8" cy="61.9" r="1.25"/><circle cx="294.8" cy="61.9" r="1.25"/><circle cx="162.9" cy="66.3" r="1.25"/><circle cx="170.9" cy="66.3" r="1.25"/><circle cx="178.9" cy="66.3" r="1.25"/><circle cx="186.9" cy="66.3" r="1.25"/><circle cx="194.9" cy="66.3" r="1.25"/><circle cx="114.9" cy="66.3" r="1.25"/><circle cx="122.9" cy="66.3" r="1.25"/><circle cx="83.0" cy="66.3" r="1.25"/><circle cx="90.9" cy="66.3" r="1.25"/><circle cx="282.8" cy="66.3" r="1.25"/><circle cx="290.8" cy="66.3" r="1.25"/><circle cx="158.9" cy="70.8" r="1.25"/><circle cx="166.9" cy="70.8" r="1.25"/><circle cx="174.9" cy="70.8" r="1.25"/><circle cx="182.9" cy="70.8" r="1.25"/><circle cx="190.9" cy="70.8" r="1.25"/><circle cx="118.9" cy="70.8" r="1.25"/><circle cx="126.9" cy="70.8" r="1.25"/><circle cx="86.9" cy="70.8" r="1.25"/><circle cx="286.8" cy="70.8" r="1.25"/><circle cx="294.8" cy="70.8" r="1.25"/><circle cx="162.9" cy="75.2" r="1.25"/><circle cx="170.9" cy="75.2" r="1.25"/><circle cx="158.9" cy="79.6" r="1.25"/><circle cx="166.9" cy="79.6" r="1.25"/><circle cx="174.9" cy="79.6" r="1.25"/><circle cx="162.9" cy="84.1" r="1.25"/><circle cx="210.8" cy="84.1" r="1.25"/><circle cx="218.8" cy="84.1" r="1.25"/><circle cx="158.9" cy="88.5" r="1.25"/><circle cx="166.9" cy="88.5" r="1.25"/><circle cx="206.8" cy="88.5" r="1.25"/><circle cx="214.8" cy="88.5" r="1.25"/><circle cx="222.8" cy="88.5" r="1.25"/><circle cx="106.9" cy="93.0" r="1.25"/><circle cx="114.9" cy="93.0" r="1.25"/><circle cx="122.9" cy="93.0" r="1.25"/><circle cx="130.9" cy="93.0" r="1.25"/><circle cx="138.9" cy="93.0" r="1.25"/><circle cx="146.9" cy="93.0" r="1.25"/><circle cx="154.9" cy="93.0" r="1.25"/><circle cx="102.9" cy="97.4" r="1.25"/><circle cx="110.9" cy="97.4" r="1.25"/><circle cx="118.9" cy="97.4" r="1.25"/><circle cx="126.9" cy="97.4" r="1.25"/><circle cx="134.9" cy="97.4" r="1.25"/><circle cx="142.9" cy="97.4" r="1.25"/><circle cx="150.9" cy="97.4" r="1.25"/><circle cx="106.9" cy="101.8" r="1.25"/><circle cx="114.9" cy="101.8" r="1.25"/><circle cx="122.9" cy="101.8" r="1.25"/><circle cx="130.9" cy="101.8" r="1.25"/><circle cx="138.9" cy="101.8" r="1.25"/><circle cx="146.9" cy="101.8" r="1.25"/><circle cx="154.9" cy="101.8" r="1.25"/><circle cx="110.9" cy="106.3" r="1.25"/><circle cx="118.9" cy="106.3" r="1.25"/><circle cx="126.9" cy="106.3" r="1.25"/><circle cx="134.9" cy="106.3" r="1.25"/><circle cx="142.9" cy="106.3" r="1.25"/><circle cx="150.9" cy="106.3" r="1.25"/><circle cx="114.9" cy="110.7" r="1.25"/><circle cx="122.9" cy="110.7" r="1.25"/><circle cx="130.9" cy="110.7" r="1.25"/><circle cx="138.9" cy="110.7" r="1.25"/><circle cx="146.9" cy="110.7" r="1.25"/><circle cx="154.9" cy="110.7" r="1.25"/><circle cx="282.8" cy="110.7" r="1.25"/><circle cx="290.8" cy="110.7" r="1.25"/><circle cx="330.7" cy="110.7" r="1.25"/><circle cx="338.7" cy="110.7" r="1.25"/><circle cx="134.9" cy="115.1" r="1.25"/><circle cx="142.9" cy="115.1" r="1.25"/><circle cx="150.9" cy="115.1" r="1.25"/><circle cx="158.9" cy="115.1" r="1.25"/><circle cx="166.9" cy="115.1" r="1.25"/><circle cx="174.9" cy="115.1" r="1.25"/><circle cx="214.8" cy="115.1" r="1.25"/><circle cx="222.8" cy="115.1" r="1.25"/><circle cx="230.8" cy="115.1" r="1.25"/><circle cx="238.8" cy="115.1" r="1.25"/><circle cx="246.8" cy="115.1" r="1.25"/><circle cx="278.8" cy="115.1" r="1.25"/><circle cx="286.8" cy="115.1" r="1.25"/><circle cx="294.8" cy="115.1" r="1.25"/><circle cx="318.7" cy="115.1" r="1.25"/><circle cx="326.7" cy="115.1" r="1.25"/><circle cx="334.7" cy="115.1" r="1.25"/><circle cx="138.9" cy="119.6" r="1.25"/><circle cx="146.9" cy="119.6" r="1.25"/><circle cx="154.9" cy="119.6" r="1.25"/><circle cx="162.9" cy="119.6" r="1.25"/><circle cx="170.9" cy="119.6" r="1.25"/><circle cx="218.8" cy="119.6" r="1.25"/><circle cx="226.8" cy="119.6" r="1.25"/><circle cx="234.8" cy="119.6" r="1.25"/><circle cx="242.8" cy="119.6" r="1.25"/><circle cx="250.8" cy="119.6" r="1.25"/><circle cx="274.8" cy="119.6" r="1.25"/><circle cx="282.8" cy="119.6" r="1.25"/><circle cx="290.8" cy="119.6" r="1.25"/><circle cx="322.7" cy="119.6" r="1.25"/><circle cx="330.7" cy="119.6" r="1.25"/><circle cx="338.7" cy="119.6" r="1.25"/><circle cx="142.9" cy="124.0" r="1.25"/><circle cx="150.9" cy="124.0" r="1.25"/><circle cx="158.9" cy="124.0" r="1.25"/><circle cx="166.9" cy="124.0" r="1.25"/><circle cx="174.9" cy="124.0" r="1.25"/><circle cx="270.8" cy="124.0" r="1.25"/><circle cx="278.8" cy="124.0" r="1.25"/><circle cx="286.8" cy="124.0" r="1.25"/><circle cx="294.8" cy="124.0" r="1.25"/><circle cx="302.8" cy="124.0" r="1.25"/><circle cx="310.8" cy="124.0" r="1.25"/><circle cx="318.7" cy="124.0" r="1.25"/><circle cx="326.7" cy="124.0" r="1.25"/><circle cx="334.7" cy="124.0" r="1.25"/><circle cx="146.9" cy="128.5" r="1.25"/><circle cx="154.9" cy="128.5" r="1.25"/><circle cx="162.9" cy="128.5" r="1.25"/><circle cx="170.9" cy="128.5" r="1.25"/><circle cx="266.8" cy="128.5" r="1.25"/><circle cx="274.8" cy="128.5" r="1.25"/><circle cx="282.8" cy="128.5" r="1.25"/><circle cx="290.8" cy="128.5" r="1.25"/><circle cx="298.8" cy="128.5" r="1.25"/><circle cx="306.8" cy="128.5" r="1.25"/><circle cx="314.7" cy="128.5" r="1.25"/><circle cx="322.7" cy="128.5" r="1.25"/><circle cx="330.7" cy="128.5" r="1.25"/><circle cx="338.7" cy="128.5" r="1.25"/><circle cx="142.9" cy="132.9" r="1.25"/><circle cx="150.9" cy="132.9" r="1.25"/><circle cx="158.9" cy="132.9" r="1.25"/><circle cx="166.9" cy="132.9" r="1.25"/><circle cx="174.9" cy="132.9" r="1.25"/><circle cx="262.8" cy="132.9" r="1.25"/><circle cx="270.8" cy="132.9" r="1.25"/><circle cx="278.8" cy="132.9" r="1.25"/><circle cx="286.8" cy="132.9" r="1.25"/><circle cx="294.8" cy="132.9" r="1.25"/><circle cx="302.8" cy="132.9" r="1.25"/><circle cx="310.8" cy="132.9" r="1.25"/><circle cx="318.7" cy="132.9" r="1.25"/><circle cx="326.7" cy="132.9" r="1.25"/><circle cx="334.7" cy="132.9" r="1.25"/><circle cx="154.9" cy="137.3" r="1.25"/><circle cx="162.9" cy="137.3" r="1.25"/><circle cx="170.9" cy="137.3" r="1.25"/><circle cx="258.8" cy="137.3" r="1.25"/><circle cx="266.8" cy="137.3" r="1.25"/><circle cx="274.8" cy="137.3" r="1.25"/><circle cx="282.8" cy="137.3" r="1.25"/><circle cx="290.8" cy="137.3" r="1.25"/><circle cx="298.8" cy="137.3" r="1.25"/><circle cx="306.8" cy="137.3" r="1.25"/><circle cx="314.7" cy="137.3" r="1.25"/><circle cx="322.7" cy="137.3" r="1.25"/><circle cx="330.7" cy="137.3" r="1.25"/><circle cx="338.7" cy="137.3" r="1.25"/><circle cx="150.9" cy="141.8" r="1.25"/><circle cx="158.9" cy="141.8" r="1.25"/><circle cx="166.9" cy="141.8" r="1.25"/><circle cx="174.9" cy="141.8" r="1.25"/><circle cx="254.8" cy="141.8" r="1.25"/><circle cx="262.8" cy="141.8" r="1.25"/><circle cx="270.8" cy="141.8" r="1.25"/><circle cx="278.8" cy="141.8" r="1.25"/><circle cx="286.8" cy="141.8" r="1.25"/><circle cx="294.8" cy="141.8" r="1.25"/><circle cx="302.8" cy="141.8" r="1.25"/><circle cx="310.8" cy="141.8" r="1.25"/><circle cx="318.7" cy="141.8" r="1.25"/><circle cx="326.7" cy="141.8" r="1.25"/><circle cx="334.7" cy="141.8" r="1.25"/><circle cx="298.8" cy="146.2" r="1.25"/><circle cx="306.8" cy="146.2" r="1.25"/><circle cx="314.7" cy="146.2" r="1.25"/><circle cx="322.7" cy="146.2" r="1.25"/><circle cx="330.7" cy="146.2" r="1.25"/><circle cx="98.9" cy="146.2" r="1.25"/><circle cx="302.8" cy="150.6" r="1.25"/><circle cx="310.8" cy="150.6" r="1.25"/><circle cx="318.7" cy="150.6" r="1.25"/><circle cx="326.7" cy="150.6" r="1.25"/><circle cx="334.7" cy="150.6" r="1.25"/><circle cx="94.9" cy="150.6" r="1.25"/><circle cx="298.8" cy="155.1" r="1.25"/><circle cx="306.8" cy="155.1" r="1.25"/><circle cx="210.8" cy="155.1" r="1.25"/><circle cx="218.8" cy="155.1" r="1.25"/><circle cx="83.0" cy="155.1" r="1.25"/><circle cx="90.9" cy="155.1" r="1.25"/><circle cx="294.8" cy="159.5" r="1.25"/><circle cx="302.8" cy="159.5" r="1.25"/><circle cx="206.8" cy="159.5" r="1.25"/><circle cx="214.8" cy="159.5" r="1.25"/><circle cx="222.8" cy="159.5" r="1.25"/><circle cx="79.0" cy="159.5" r="1.25"/><circle cx="86.9" cy="159.5" r="1.25"/><circle cx="290.8" cy="164.0" r="1.25"/><circle cx="298.8" cy="164.0" r="1.25"/><circle cx="202.8" cy="164.0" r="1.25"/><circle cx="210.8" cy="164.0" r="1.25"/><circle cx="218.8" cy="164.0" r="1.25"/><circle cx="75.0" cy="164.0" r="1.25"/><circle cx="83.0" cy="164.0" r="1.25"/><circle cx="270.8" cy="168.4" r="1.25"/><circle cx="278.8" cy="168.4" r="1.25"/><circle cx="286.8" cy="168.4" r="1.25"/><circle cx="182.9" cy="168.4" r="1.25"/><circle cx="190.9" cy="168.4" r="1.25"/><circle cx="198.8" cy="168.4" r="1.25"/><circle cx="206.8" cy="168.4" r="1.25"/><circle cx="214.8" cy="168.4" r="1.25"/><circle cx="222.8" cy="168.4" r="1.25"/><circle cx="63.0" cy="168.4" r="1.25"/><circle cx="71.0" cy="168.4" r="1.25"/><circle cx="31.0" cy="168.4" r="1.25"/><circle cx="274.8" cy="172.8" r="1.25"/><circle cx="282.8" cy="172.8" r="1.25"/><circle cx="178.9" cy="172.8" r="1.25"/><circle cx="186.9" cy="172.8" r="1.25"/><circle cx="194.9" cy="172.8" r="1.25"/><circle cx="202.8" cy="172.8" r="1.25"/><circle cx="210.8" cy="172.8" r="1.25"/><circle cx="218.8" cy="172.8" r="1.25"/><circle cx="59.0" cy="172.8" r="1.25"/><circle cx="67.0" cy="172.8" r="1.25"/><circle cx="35.0" cy="172.8" r="1.25"/><circle cx="278.8" cy="177.3" r="1.25"/><circle cx="286.8" cy="177.3" r="1.25"/><circle cx="126.9" cy="177.3" r="1.25"/><circle cx="134.9" cy="177.3" r="1.25"/><circle cx="142.9" cy="177.3" r="1.25"/><circle cx="150.9" cy="177.3" r="1.25"/><circle cx="158.9" cy="177.3" r="1.25"/><circle cx="166.9" cy="177.3" r="1.25"/><circle cx="174.9" cy="177.3" r="1.25"/><circle cx="182.9" cy="177.3" r="1.25"/><circle cx="190.9" cy="177.3" r="1.25"/><circle cx="198.8" cy="177.3" r="1.25"/><circle cx="282.8" cy="181.7" r="1.25"/><circle cx="122.9" cy="181.7" r="1.25"/><circle cx="130.9" cy="181.7" r="1.25"/><circle cx="138.9" cy="181.7" r="1.25"/><circle cx="146.9" cy="181.7" r="1.25"/><circle cx="154.9" cy="181.7" r="1.25"/><circle cx="162.9" cy="181.7" r="1.25"/><circle cx="170.9" cy="181.7" r="1.25"/><circle cx="178.9" cy="181.7" r="1.25"/><circle cx="186.9" cy="181.7" r="1.25"/><circle cx="194.9" cy="181.7" r="1.25"/><circle cx="202.8" cy="181.7" r="1.25"/><circle cx="39.0" cy="186.1" r="1.25"/><circle cx="79.0" cy="186.1" r="1.25"/><circle cx="118.9" cy="186.1" r="1.25"/><circle cx="126.9" cy="186.1" r="1.25"/><circle cx="134.9" cy="186.1" r="1.25"/><circle cx="142.9" cy="186.1" r="1.25"/><circle cx="150.9" cy="186.1" r="1.25"/><circle cx="158.9" cy="186.1" r="1.25"/><circle cx="166.9" cy="186.1" r="1.25"/><circle cx="174.9" cy="186.1" r="1.25"/><circle cx="182.9" cy="186.1" r="1.25"/><circle cx="43.0" cy="190.6" r="1.25"/><circle cx="75.0" cy="190.6" r="1.25"/><circle cx="83.0" cy="190.6" r="1.25"/><circle cx="114.9" cy="190.6" r="1.25"/><circle cx="122.9" cy="190.6" r="1.25"/><circle cx="130.9" cy="190.6" r="1.25"/><circle cx="138.9" cy="190.6" r="1.25"/><circle cx="146.9" cy="190.6" r="1.25"/><circle cx="154.9" cy="190.6" r="1.25"/><circle cx="162.9" cy="190.6" r="1.25"/><circle cx="170.9" cy="190.6" r="1.25"/><circle cx="178.9" cy="190.6" r="1.25"/><circle cx="338.7" cy="190.6" r="1.25"/><circle cx="39.0" cy="195.0" r="1.25"/><circle cx="79.0" cy="195.0" r="1.25"/><circle cx="110.9" cy="195.0" r="1.25"/><circle cx="118.9" cy="195.0" r="1.25"/><circle cx="126.9" cy="195.0" r="1.25"/><circle cx="134.9" cy="195.0" r="1.25"/><circle cx="142.9" cy="195.0" r="1.25"/><circle cx="150.9" cy="195.0" r="1.25"/><circle cx="158.9" cy="195.0" r="1.25"/><circle cx="166.9" cy="195.0" r="1.25"/><circle cx="174.9" cy="195.0" r="1.25"/><circle cx="182.9" cy="195.0" r="1.25"/><circle cx="334.7" cy="195.0" r="1.25"/><circle cx="51.0" cy="199.4" r="1.25"/><circle cx="59.0" cy="199.4" r="1.25"/><circle cx="67.0" cy="199.4" r="1.25"/><circle cx="75.0" cy="199.4" r="1.25"/><circle cx="83.0" cy="199.4" r="1.25"/><circle cx="90.9" cy="199.4" r="1.25"/><circle cx="98.9" cy="199.4" r="1.25"/><circle cx="106.9" cy="199.4" r="1.25"/><circle cx="114.9" cy="199.4" r="1.25"/><circle cx="122.9" cy="199.4" r="1.25"/><circle cx="130.9" cy="199.4" r="1.25"/><circle cx="138.9" cy="199.4" r="1.25"/><circle cx="146.9" cy="199.4" r="1.25"/><circle cx="154.9" cy="199.4" r="1.25"/><circle cx="162.9" cy="199.4" r="1.25"/><circle cx="170.9" cy="199.4" r="1.25"/><circle cx="178.9" cy="199.4" r="1.25"/><circle cx="322.7" cy="199.4" r="1.25"/><circle cx="330.7" cy="199.4" r="1.25"/><circle cx="338.7" cy="199.4" r="1.25"/><circle cx="47.0" cy="203.9" r="1.25"/><circle cx="55.0" cy="203.9" r="1.25"/><circle cx="63.0" cy="203.9" r="1.25"/><circle cx="71.0" cy="203.9" r="1.25"/><circle cx="79.0" cy="203.9" r="1.25"/><circle cx="86.9" cy="203.9" r="1.25"/><circle cx="94.9" cy="203.9" r="1.25"/><circle cx="102.9" cy="203.9" r="1.25"/><circle cx="110.9" cy="203.9" r="1.25"/><circle cx="118.9" cy="203.9" r="1.25"/><circle cx="126.9" cy="203.9" r="1.25"/><circle cx="134.9" cy="203.9" r="1.25"/><circle cx="142.9" cy="203.9" r="1.25"/><circle cx="150.9" cy="203.9" r="1.25"/><circle cx="158.9" cy="203.9" r="1.25"/><circle cx="166.9" cy="203.9" r="1.25"/><circle cx="174.9" cy="203.9" r="1.25"/><circle cx="182.9" cy="203.9" r="1.25"/><circle cx="318.7" cy="203.9" r="1.25"/><circle cx="326.7" cy="203.9" r="1.25"/><circle cx="334.7" cy="203.9" r="1.25"/><circle cx="27.0" cy="208.3" r="1.25"/><circle cx="35.0" cy="208.3" r="1.25"/><circle cx="43.0" cy="208.3" r="1.25"/><circle cx="51.0" cy="208.3" r="1.25"/><circle cx="59.0" cy="208.3" r="1.25"/><circle cx="67.0" cy="208.3" r="1.25"/><circle cx="75.0" cy="208.3" r="1.25"/><circle cx="83.0" cy="208.3" r="1.25"/><circle cx="90.9" cy="208.3" r="1.25"/><circle cx="98.9" cy="208.3" r="1.25"/><circle cx="106.9" cy="208.3" r="1.25"/><circle cx="114.9" cy="208.3" r="1.25"/><circle cx="122.9" cy="208.3" r="1.25"/><circle cx="130.9" cy="208.3" r="1.25"/><circle cx="138.9" cy="208.3" r="1.25"/><circle cx="146.9" cy="208.3" r="1.25"/><circle cx="154.9" cy="208.3" r="1.25"/><circle cx="162.9" cy="208.3" r="1.25"/><circle cx="170.9" cy="208.3" r="1.25"/><circle cx="314.7" cy="208.3" r="1.25"/><circle cx="322.7" cy="208.3" r="1.25"/><circle cx="330.7" cy="208.3" r="1.25"/><circle cx="338.7" cy="208.3" r="1.25"/></g><g clip-path="url(#clipA)" fill="none" stroke="#000" stroke-width="0.95" stroke-linejoin="round"><polyline points="22.0,37.5 30.0,36.5 38.5,36.8 39.5,33.0 38.0,28.0 39.0,25.0 36.5,21.0 36.8,19.0"/><polyline points="22.2,78.8 25.8,83.9 30.2,86.8 34.6,89.7 39.0,91.9 42.6,93.1 47.0,91.6 50.7,90.4 53.9,91.2 55.8,96.3 63.8,97.7 72.6,99.2 81.3,99.9 90.1,99.2 98.8,98.9 102.5,99.2 104.7,101.4 109.0,105.0 113.0,109.0 115.0,112.0 118.0,113.0 115.0,114.0 114.0,116.1 116.0,119.1 120.0,123.1 124.1,123.1 128.1,120.1 130.1,117.1 131.1,116.1 130.1,118.1 131.1,121.1 132.1,131.1 134.1,143.2 137.1,153.2 140.2,161.3 142.2,169.3 145.2,175.3 148.2,181.3 151.2,187.4 154.2,191.0 157.2,190.4 160.2,185.4 163.3,181.3 166.3,179.3 168.3,175.3 169.3,167.3 169.3,155.2 170.3,150.2 174.3,148.2 178.3,146.2 182.3,143.2 185.3,139.2 188.4,135.2 190.0,135.5 194.8,129.8 199.6,127.8 202.5,124.0 203.4,120.2 206.3,118.2 209.2,117.3 210.2,119.2 215.0,118.6 220.7,116.3 224.5,113.8 227.4,116.3 230.3,121.1 234.1,126.9 236.1,131.7 238.9,134.5 239.9,140.3 239.5,147.0 241.8,150.3 245.7,149.5 249.5,147.0 252.4,144.5 255.3,148.0 257.9,155.5 259.6,162.4 261.4,167.7 260.5,174.7 258.7,181.7 258.7,188.7 262.2,193.0 265.7,195.7 268.4,200.9 270.1,207.9 271.0,211.0"/><polyline points="22.2,99.2 22.9,97.0 25.1,96.3 25.8,99.2 25.1,102.8 26.6,105.8 31.7,106.2 36.1,105.0 41.2,104.7 46.3,98.5 50.7,94.1 51.4,102.1 55.0,107.2 62.3,110.1 66.7,113.8 67.4,116.0 64.5,120.4 60.9,125.5 58.0,129.9 55.0,134.2 49.2,137.9 44.8,141.5 39.0,144.5 31.7,147.4 28.8,150.0 22.0,153.0"/><polyline points="285.0,209.7 282.3,205.3 278.8,200.9 274.5,197.4 269.2,193.9 265.7,188.7 264.0,183.4 264.9,176.4 266.6,169.4 268.4,162.4 271.0,162.4 271.9,165.1 276.2,167.7 280.6,171.2 285.0,175.6 288.5,179.1 292.0,181.7 292.8,186.9 296.3,185.2 300.7,180.8 302.4,179.1 307.7,174.7 311.2,169.4 312.9,162.4 312.6,155.5 310.3,149.3 305.9,144.1 301.6,139.7 298.1,134.5 296.3,130.1 299.0,124.9 302.4,120.5 307.7,118.7 312.1,119.6 316.4,122.2 317.3,125.7 319.9,123.1 323.4,120.5 328.7,117.9 333.9,115.2 337.4,113.5 341.0,112.6"/><polyline points="232.5,163.5 231.8,170.8"/><polyline points="247.0,211.5 249.0,207.8 252.5,206.6 256.0,208.0 259.0,211.5"/><polygon points="37.0,168.4 39.5,167.6 42.2,168.0 40.5,169.3 37.6,169.3"/><polygon points="169.3,183.4 172.3,186.4 175.3,191.4 177.3,197.4 175.3,201.4 171.3,201.4 168.3,197.4 167.3,191.4 168.3,186.4"/><polygon points="310.3,131.9 313.8,128.4 319.1,127.5 321.7,129.2 320.8,132.7 317.3,136.2 312.9,136.2 310.3,134.5"/></g><rect x="103.5" y="47.5" width="90.0" height="106.5" fill="none" stroke="#333" stroke-width="0.9"/><path d="M68,19.5v6M68,210v-6M143,19.5v6M143,210v-6M218,19.5v6M218,210v-6M293,19.5v6M293,210v-6M22.5,41.9h5M339.6,41.9h-5M22.5,90.5h5M339.6,90.5h-5M22.5,139.3h5M339.6,139.3h-5M22.5,187.8h5M339.6,187.8h-5" stroke="#444" stroke-width="0.9" fill="none"/><rect x="22.5" y="19.5" width="317.1" height="190.5" fill="none" stroke="#3a3a3a" stroke-width="1.1"/><text x="68" y="218.3" font-size="6.6" text-anchor="middle" fill="#222">60°E</text><text x="143" y="218.3" font-size="6.6" text-anchor="middle" fill="#222">75°E</text><text x="218" y="218.3" font-size="6.6" text-anchor="middle" fill="#222">90°E</text><text x="293" y="218.3" font-size="6.6" text-anchor="middle" fill="#222">105°E</text><text x="20.5" y="44.7" font-size="6.6" text-anchor="end" fill="#222">36°N</text><text x="20.5" y="93.3" font-size="6.6" text-anchor="end" fill="#222">27°N</text><text x="20.5" y="142.1" font-size="6.6" text-anchor="end" fill="#222">18°N</text><text x="20.5" y="190.6" font-size="6.6" text-anchor="end" fill="#222">9°N</text><clipPath id="clipB"><rect x="21.5" y="330.6" width="314.8" height="186.79999999999995"/></clipPath><filter id="blurB" x="-10%" y="-10%" width="120%" height="120%"><feGaussianBlur stdDeviation="2.2"/></filter><g clip-path="url(#clipB)"><g filter="url(#blurB)"><path fill="#f36c6c" d="M1.5 310.6h25.4v5.4h-25.4zM1.5 315.6h25.4v5.4h-25.4zM1.5 320.6h25.4v5.4h-25.4zM1.5 325.6h25.4v5.4h-25.4zM1.5 330.6h25.4v5.4h-25.4zM46.5 445.6h5.4v5.4h-5.4zM51.5 450.6h5.4v5.4h-5.4zM66.5 450.6h5.4v5.4h-5.4zM86.5 505.6h30.4v5.4h-30.4zM86.5 510.6h30.4v5.4h-30.4zM66.5 515.6h60.4v5.4h-60.4zM146.5 515.6h10.4v5.4h-10.4zM66.5 520.6h60.4v5.4h-60.4zM146.5 520.6h10.4v5.4h-10.4zM66.5 525.6h60.4v5.4h-60.4zM146.5 525.6h10.4v5.4h-10.4zM66.5 530.6h60.4v5.4h-60.4zM146.5 530.6h10.4v5.4h-10.4zM66.5 535.6h60.4v5.4h-60.4zM146.5 535.6h10.4v5.4h-10.4z"/><path fill="#f47777" d="M26.5 310.6h5.4v5.4h-5.4zM26.5 315.6h5.4v5.4h-5.4zM26.5 320.6h5.4v5.4h-5.4zM26.5 325.6h5.4v5.4h-5.4zM26.5 330.6h5.4v5.4h-5.4zM71.5 435.6h5.4v5.4h-5.4zM66.5 445.6h5.4v5.4h-5.4z"/><path fill="#f68c8c" d="M31.5 310.6h5.4v5.4h-5.4zM31.5 315.6h5.4v5.4h-5.4zM31.5 320.6h5.4v5.4h-5.4zM31.5 325.6h5.4v5.4h-5.4zM31.5 330.6h5.4v5.4h-5.4zM236.5 425.6h5.4v5.4h-5.4z"/><path fill="#f69797" d="M36.5 310.6h10.4v5.4h-10.4zM36.5 315.6h10.4v5.4h-10.4zM36.5 320.6h10.4v5.4h-10.4zM36.5 325.6h10.4v5.4h-10.4zM36.5 330.6h10.4v5.4h-10.4zM51.5 435.6h5.4v5.4h-5.4z"/><path fill="#f79999" d="M46.5 310.6h5.4v5.4h-5.4zM46.5 315.6h5.4v5.4h-5.4zM46.5 320.6h5.4v5.4h-5.4zM46.5 325.6h5.4v5.4h-5.4zM46.5 330.6h5.4v5.4h-5.4zM71.5 430.6h5.4v5.4h-5.4z"/><path fill="#f79c9c" d="M51.5 310.6h5.4v5.4h-5.4zM51.5 315.6h5.4v5.4h-5.4zM51.5 320.6h5.4v5.4h-5.4zM51.5 325.6h5.4v5.4h-5.4zM51.5 330.6h5.4v5.4h-5.4zM46.5 335.6h5.4v5.4h-5.4zM31.5 340.6h5.4v5.4h-5.4zM226.5 415.6h5.4v5.4h-5.4z"/><path fill="#f9b6b6" d="M56.5 310.6h5.4v5.4h-5.4zM56.5 315.6h5.4v5.4h-5.4zM56.5 320.6h5.4v5.4h-5.4zM56.5 325.6h5.4v5.4h-5.4zM56.5 330.6h5.4v5.4h-5.4zM41.5 355.6h5.4v5.4h-5.4zM276.5 375.6h5.4v5.4h-5.4zM276.5 380.6h5.4v5.4h-5.4zM286.5 390.6h20.4v5.4h-20.4zM206.5 405.6h5.4v5.4h-5.4zM296.5 405.6h10.4v5.4h-10.4zM206.5 410.6h5.4v5.4h-5.4zM46.5 450.6h5.4v5.4h-5.4zM246.5 455.6h5.4v5.4h-5.4zM246.5 460.6h5.4v5.4h-5.4zM106.5 475.6h5.4v5.4h-5.4zM106.5 480.6h5.4v5.4h-5.4zM96.5 485.6h10.4v5.4h-10.4zM56.5 495.6h10.4v5.4h-10.4zM161.5 495.6h5.4v5.4h-5.4zM161.5 500.6h5.4v5.4h-5.4zM36.5 505.6h10.4v5.4h-10.4zM26.5 515.6h5.4v5.4h-5.4zM26.5 520.6h5.4v5.4h-5.4zM26.5 525.6h5.4v5.4h-5.4zM26.5 530.6h5.4v5.4h-5.4zM26.5 535.6h5.4v5.4h-5.4z"/><path fill="#fde6e6" d="M61.5 310.6h5.4v5.4h-5.4zM61.5 315.6h5.4v5.4h-5.4zM61.5 320.6h5.4v5.4h-5.4zM61.5 325.6h5.4v5.4h-5.4zM61.5 330.6h5.4v5.4h-5.4zM131.5 335.6h5.4v5.4h-5.4zM126.5 340.6h5.4v5.4h-5.4zM286.5 345.6h5.4v5.4h-5.4zM291.5 350.6h5.4v5.4h-5.4zM106.5 355.6h5.4v5.4h-5.4zM121.5 355.6h5.4v5.4h-5.4zM111.5 360.6h5.4v5.4h-5.4zM231.5 365.6h5.4v5.4h-5.4zM226.5 370.6h5.4v5.4h-5.4zM201.5 385.6h5.4v5.4h-5.4zM321.5 385.6h5.4v5.4h-5.4zM196.5 390.6h5.4v5.4h-5.4zM316.5 390.6h5.4v5.4h-5.4zM271.5 400.6h5.4v5.4h-5.4zM196.5 415.6h5.4v5.4h-5.4zM201.5 420.6h5.4v5.4h-5.4zM201.5 445.6h5.4v5.4h-5.4zM196.5 450.6h5.4v5.4h-5.4zM191.5 465.6h5.4v5.4h-5.4zM206.5 465.6h5.4v5.4h-5.4zM186.5 470.6h5.4v5.4h-5.4zM211.5 470.6h5.4v5.4h-5.4zM36.5 475.6h5.4v5.4h-5.4zM41.5 480.6h5.4v5.4h-5.4zM211.5 505.6h5.4v5.4h-5.4zM271.5 505.6h5.4v5.4h-5.4zM206.5 510.6h5.4v5.4h-5.4zM266.5 510.6h5.4v5.4h-5.4z"/><path fill="#feefef" d="M66.5 310.6h5.4v5.4h-5.4zM66.5 315.6h5.4v5.4h-5.4zM66.5 320.6h5.4v5.4h-5.4zM66.5 325.6h5.4v5.4h-5.4zM66.5 330.6h5.4v5.4h-5.4zM106.5 365.6h5.4v5.4h-5.4z"/><path fill="#fbd1d1" d="M71.5 310.6h5.4v5.4h-5.4zM71.5 315.6h5.4v5.4h-5.4zM71.5 320.6h5.4v5.4h-5.4zM71.5 325.6h5.4v5.4h-5.4zM71.5 330.6h5.4v5.4h-5.4zM321.5 350.6h5.4v5.4h-5.4zM1.5 375.6h25.4v5.4h-25.4zM326.5 375.6h5.4v5.4h-5.4zM296.5 435.6h10.4v5.4h-10.4z"/><path fill="#fac6c6" d="M76.5 310.6h5.4v5.4h-5.4zM76.5 315.6h5.4v5.4h-5.4zM76.5 320.6h5.4v5.4h-5.4zM76.5 325.6h5.4v5.4h-5.4zM76.5 330.6h5.4v5.4h-5.4zM231.5 415.6h5.4v5.4h-5.4zM306.5 430.6h5.4v5.4h-5.4zM286.5 435.6h5.4v5.4h-5.4zM276.5 445.6h5.4v5.4h-5.4zM116.5 460.6h5.4v5.4h-5.4zM231.5 470.6h5.4v5.4h-5.4zM101.5 480.6h5.4v5.4h-5.4zM251.5 485.6h5.4v5.4h-5.4zM66.5 490.6h5.4v5.4h-5.4z"/><path fill="#fbcece" d="M81.5 310.6h5.4v5.4h-5.4zM81.5 315.6h5.4v5.4h-5.4zM81.5 320.6h5.4v5.4h-5.4zM81.5 325.6h5.4v5.4h-5.4zM81.5 330.6h5.4v5.4h-5.4zM96.5 350.6h5.4v5.4h-5.4zM226.5 405.6h5.4v5.4h-5.4z"/><path fill="#fcd5d5" d="M86.5 310.6h5.4v5.4h-5.4zM106.5 310.6h5.4v5.4h-5.4zM86.5 315.6h5.4v5.4h-5.4zM106.5 315.6h5.4v5.4h-5.4zM86.5 320.6h5.4v5.4h-5.4zM106.5 320.6h5.4v5.4h-5.4zM86.5 325.6h5.4v5.4h-5.4zM106.5 325.6h5.4v5.4h-5.4zM86.5 330.6h5.4v5.4h-5.4zM106.5 330.6h5.4v5.4h-5.4zM116.5 335.6h5.4v5.4h-5.4zM121.5 340.6h5.4v5.4h-5.4zM131.5 350.6h5.4v5.4h-5.4zM271.5 350.6h5.4v5.4h-5.4zM266.5 355.6h5.4v5.4h-5.4zM291.5 355.6h5.4v5.4h-5.4zM256.5 360.6h5.4v5.4h-5.4zM271.5 360.6h5.4v5.4h-5.4zM286.5 360.6h5.4v5.4h-5.4zM271.5 365.6h5.4v5.4h-5.4zM266.5 370.6h5.4v5.4h-5.4zM26.5 375.6h5.4v5.4h-5.4zM271.5 385.6h5.4v5.4h-5.4zM226.5 400.6h5.4v5.4h-5.4zM311.5 425.6h5.4v5.4h-5.4zM121.5 455.6h5.4v5.4h-5.4zM31.5 475.6h5.4v5.4h-5.4zM26.5 480.6h5.4v5.4h-5.4zM31.5 485.6h5.4v5.4h-5.4zM41.5 485.6h5.4v5.4h-5.4zM71.5 485.6h5.4v5.4h-5.4zM36.5 490.6h5.4v5.4h-5.4zM51.5 490.6h5.4v5.4h-5.4zM251.5 495.6h5.4v5.4h-5.4zM31.5 500.6h5.4v5.4h-5.4z"/><path fill="#fcdbdb" d="M91.5 310.6h10.4v5.4h-10.4zM91.5 315.6h10.4v5.4h-10.4zM91.5 320.6h10.4v5.4h-10.4zM91.5 325.6h10.4v5.4h-10.4zM91.5 330.6h10.4v5.4h-10.4zM96.5 335.6h5.4v5.4h-5.4zM56.5 340.6h5.4v5.4h-5.4zM326.5 345.6h5.4v5.4h-5.4zM331.5 350.6h5.4v5.4h-5.4zM261.5 375.6h5.4v5.4h-5.4zM211.5 380.6h5.4v5.4h-5.4zM256.5 380.6h5.4v5.4h-5.4zM211.5 435.6h5.4v5.4h-5.4zM241.5 435.6h5.4v5.4h-5.4zM251.5 445.6h5.4v5.4h-5.4zM101.5 470.6h5.4v5.4h-5.4zM156.5 475.6h5.4v5.4h-5.4zM181.5 475.6h10.4v5.4h-10.4zM161.5 480.6h5.4v5.4h-5.4zM176.5 480.6h5.4v5.4h-5.4zM191.5 480.6h5.4v5.4h-5.4zM166.5 485.6h5.4v5.4h-5.4zM196.5 485.6h5.4v5.4h-5.4zM221.5 485.6h5.4v5.4h-5.4zM171.5 490.6h5.4v5.4h-5.4zM201.5 490.6h5.4v5.4h-5.4zM176.5 495.6h5.4v5.4h-5.4zM201.5 495.6h5.4v5.4h-5.4zM181.5 500.6h5.4v5.4h-5.4zM196.5 500.6h5.4v5.4h-5.4zM276.5 500.6h5.4v5.4h-5.4z"/><path fill="#fcd4d4" d="M101.5 310.6h5.4v5.4h-5.4zM101.5 315.6h5.4v5.4h-5.4zM101.5 320.6h5.4v5.4h-5.4zM101.5 325.6h5.4v5.4h-5.4zM101.5 330.6h5.4v5.4h-5.4zM91.5 340.6h5.4v5.4h-5.4z"/><path fill="#fcdddd" d="M111.5 310.6h5.4v5.4h-5.4zM111.5 315.6h5.4v5.4h-5.4zM111.5 320.6h5.4v5.4h-5.4zM111.5 325.6h5.4v5.4h-5.4zM111.5 330.6h5.4v5.4h-5.4zM111.5 345.6h5.4v5.4h-5.4zM31.5 375.6h5.4v5.4h-5.4zM251.5 500.6h5.4v5.4h-5.4z"/><path fill="#fcd9d9" d="M116.5 310.6h5.4v5.4h-5.4zM131.5 310.6h5.4v5.4h-5.4zM116.5 315.6h5.4v5.4h-5.4zM131.5 315.6h5.4v5.4h-5.4zM116.5 320.6h5.4v5.4h-5.4zM131.5 320.6h5.4v5.4h-5.4zM116.5 325.6h5.4v5.4h-5.4zM131.5 325.6h5.4v5.4h-5.4zM116.5 330.6h5.4v5.4h-5.4zM131.5 330.6h5.4v5.4h-5.4zM91.5 335.6h5.4v5.4h-5.4zM101.5 335.6h5.4v5.4h-5.4zM116.5 345.6h10.4v5.4h-10.4zM276.5 345.6h10.4v5.4h-10.4zM121.5 350.6h5.4v5.4h-5.4zM126.5 355.6h10.4v5.4h-10.4zM336.5 355.6h25.4v5.4h-25.4zM276.5 360.6h10.4v5.4h-10.4zM236.5 365.6h10.4v5.4h-10.4zM336.5 370.6h25.4v5.4h-25.4zM266.5 375.6h5.4v5.4h-5.4zM246.5 380.6h10.4v5.4h-10.4zM266.5 380.6h5.4v5.4h-5.4zM196.5 395.6h5.4v5.4h-5.4zM311.5 395.6h5.4v5.4h-5.4zM196.5 400.6h5.4v5.4h-5.4zM311.5 400.6h5.4v5.4h-5.4zM196.5 405.6h5.4v5.4h-5.4zM196.5 410.6h5.4v5.4h-5.4zM111.5 460.6h5.4v5.4h-5.4zM1.5 465.6h25.4v5.4h-25.4zM216.5 475.6h5.4v5.4h-5.4zM1.5 480.6h25.4v5.4h-25.4zM216.5 480.6h5.4v5.4h-5.4zM176.5 485.6h5.4v5.4h-5.4zM226.5 485.6h10.4v5.4h-10.4zM286.5 485.6h5.4v5.4h-5.4zM176.5 490.6h5.4v5.4h-5.4zM286.5 490.6h5.4v5.4h-5.4zM171.5 495.6h5.4v5.4h-5.4zM171.5 500.6h5.4v5.4h-5.4zM186.5 500.6h10.4v5.4h-10.4zM1.5 505.6h25.4v5.4h-25.4zM171.5 505.6h5.4v5.4h-5.4zM171.5 510.6h5.4v5.4h-5.4zM171.5 515.6h5.4v5.4h-5.4zM171.5 520.6h5.4v5.4h-5.4zM171.5 525.6h5.4v5.4h-5.4zM171.5 530.6h5.4v5.4h-5.4zM171.5 535.6h5.4v5.4h-5.4z"/><path fill="#fbc9c9" d="M121.5 310.6h10.4v5.4h-10.4zM121.5 315.6h10.4v5.4h-10.4zM121.5 320.6h10.4v5.4h-10.4zM121.5 325.6h10.4v5.4h-10.4zM121.5 330.6h10.4v5.4h-10.4zM276.5 350.6h10.4v5.4h-10.4zM46.5 355.6h5.4v5.4h-5.4zM276.5 355.6h10.4v5.4h-10.4zM336.5 360.6h25.4v5.4h-25.4zM336.5 365.6h25.4v5.4h-25.4zM236.5 370.6h10.4v5.4h-10.4zM246.5 375.6h10.4v5.4h-10.4zM271.5 375.6h5.4v5.4h-5.4zM271.5 380.6h5.4v5.4h-5.4zM201.5 395.6h5.4v5.4h-5.4zM306.5 395.6h5.4v5.4h-5.4zM201.5 400.6h5.4v5.4h-5.4zM306.5 400.6h5.4v5.4h-5.4zM201.5 405.6h5.4v5.4h-5.4zM201.5 410.6h5.4v5.4h-5.4zM1.5 470.6h25.4v5.4h-25.4zM1.5 475.6h25.4v5.4h-25.4zM221.5 475.6h5.4v5.4h-5.4zM221.5 480.6h5.4v5.4h-5.4zM181.5 485.6h5.4v5.4h-5.4zM181.5 490.6h5.4v5.4h-5.4zM166.5 495.6h5.4v5.4h-5.4zM186.5 495.6h10.4v5.4h-10.4zM166.5 500.6h5.4v5.4h-5.4zM166.5 505.6h5.4v5.4h-5.4zM1.5 510.6h25.4v5.4h-25.4zM166.5 510.6h5.4v5.4h-5.4zM166.5 515.6h5.4v5.4h-5.4zM166.5 520.6h5.4v5.4h-5.4zM166.5 525.6h5.4v5.4h-5.4zM166.5 530.6h5.4v5.4h-5.4zM166.5 535.6h5.4v5.4h-5.4z"/><path fill="#fef7f7" d="M136.5 310.6h5.4v5.4h-5.4zM136.5 315.6h5.4v5.4h-5.4zM136.5 320.6h5.4v5.4h-5.4zM136.5 325.6h5.4v5.4h-5.4zM136.5 330.6h5.4v5.4h-5.4zM326.5 335.6h35.4v5.4h-35.4zM116.5 350.6h5.4v5.4h-5.4zM51.5 355.6h5.4v5.4h-5.4zM41.5 370.6h5.4v5.4h-5.4zM221.5 370.6h5.4v5.4h-5.4zM36.5 375.6h5.4v5.4h-5.4zM336.5 380.6h25.4v5.4h-25.4zM191.5 395.6h5.4v5.4h-5.4zM191.5 400.6h5.4v5.4h-5.4zM191.5 405.6h5.4v5.4h-5.4zM331.5 405.6h5.4v5.4h-5.4zM191.5 410.6h5.4v5.4h-5.4zM261.5 410.6h5.4v5.4h-5.4zM331.5 410.6h5.4v5.4h-5.4zM331.5 415.6h5.4v5.4h-5.4zM331.5 420.6h5.4v5.4h-5.4zM316.5 430.6h10.4v5.4h-10.4zM111.5 455.6h5.4v5.4h-5.4zM136.5 455.6h5.4v5.4h-5.4zM71.5 480.6h5.4v5.4h-5.4zM1.5 485.6h25.4v5.4h-25.4zM1.5 500.6h25.4v5.4h-25.4zM211.5 515.6h5.4v5.4h-5.4zM271.5 515.6h5.4v5.4h-5.4zM211.5 520.6h5.4v5.4h-5.4zM271.5 520.6h5.4v5.4h-5.4zM211.5 525.6h5.4v5.4h-5.4zM271.5 525.6h5.4v5.4h-5.4zM211.5 530.6h5.4v5.4h-5.4zM271.5 530.6h5.4v5.4h-5.4zM211.5 535.6h5.4v5.4h-5.4zM271.5 535.6h5.4v5.4h-5.4z"/><path fill="#dbdafb" d="M141.5 310.6h5.4v5.4h-5.4zM161.5 310.6h5.4v5.4h-5.4zM286.5 310.6h5.4v5.4h-5.4zM311.5 310.6h5.4v5.4h-5.4zM141.5 315.6h5.4v5.4h-5.4zM161.5 315.6h5.4v5.4h-5.4zM286.5 315.6h5.4v5.4h-5.4zM311.5 315.6h5.4v5.4h-5.4zM141.5 320.6h5.4v5.4h-5.4zM161.5 320.6h5.4v5.4h-5.4zM286.5 320.6h5.4v5.4h-5.4zM311.5 320.6h5.4v5.4h-5.4zM141.5 325.6h5.4v5.4h-5.4zM161.5 325.6h5.4v5.4h-5.4zM286.5 325.6h5.4v5.4h-5.4zM311.5 325.6h5.4v5.4h-5.4zM141.5 330.6h5.4v5.4h-5.4zM161.5 330.6h5.4v5.4h-5.4zM286.5 330.6h5.4v5.4h-5.4zM311.5 330.6h5.4v5.4h-5.4zM296.5 340.6h10.4v5.4h-10.4zM126.5 365.6h10.4v5.4h-10.4zM216.5 365.6h5.4v5.4h-5.4zM186.5 395.6h5.4v5.4h-5.4zM186.5 400.6h5.4v5.4h-5.4zM186.5 405.6h5.4v5.4h-5.4zM186.5 410.6h5.4v5.4h-5.4zM326.5 470.6h35.4v5.4h-35.4zM66.5 475.6h5.4v5.4h-5.4zM306.5 480.6h10.4v5.4h-10.4zM1.5 490.6h25.4v5.4h-25.4zM1.5 495.6h25.4v5.4h-25.4zM316.5 495.6h45.4v5.4h-45.4zM286.5 505.6h5.4v5.4h-5.4zM286.5 510.6h5.4v5.4h-5.4zM286.5 515.6h5.4v5.4h-5.4zM286.5 520.6h5.4v5.4h-5.4zM286.5 525.6h5.4v5.4h-5.4zM286.5 530.6h5.4v5.4h-5.4zM286.5 535.6h5.4v5.4h-5.4z"/><path fill="#c6c4f9" d="M146.5 310.6h10.4v5.4h-10.4zM216.5 310.6h10.4v5.4h-10.4zM296.5 310.6h10.4v5.4h-10.4zM146.5 315.6h10.4v5.4h-10.4zM216.5 315.6h10.4v5.4h-10.4zM296.5 315.6h10.4v5.4h-10.4zM146.5 320.6h10.4v5.4h-10.4zM216.5 320.6h10.4v5.4h-10.4zM296.5 320.6h10.4v5.4h-10.4zM146.5 325.6h10.4v5.4h-10.4zM216.5 325.6h10.4v5.4h-10.4zM296.5 325.6h10.4v5.4h-10.4zM146.5 330.6h10.4v5.4h-10.4zM216.5 330.6h10.4v5.4h-10.4zM296.5 330.6h10.4v5.4h-10.4zM1.5 395.6h45.4v5.4h-45.4zM1.5 400.6h45.4v5.4h-45.4zM36.5 405.6h20.4v5.4h-20.4zM36.5 410.6h20.4v5.4h-20.4zM46.5 415.6h10.4v5.4h-10.4zM46.5 420.6h10.4v5.4h-10.4zM86.5 455.6h10.4v5.4h-10.4zM86.5 460.6h10.4v5.4h-10.4zM296.5 505.6h65.4v5.4h-65.4zM296.5 510.6h65.4v5.4h-65.4zM296.5 515.6h65.4v5.4h-65.4zM296.5 520.6h65.4v5.4h-65.4zM296.5 525.6h65.4v5.4h-65.4zM296.5 530.6h65.4v5.4h-65.4zM296.5 535.6h65.4v5.4h-65.4z"/><path fill="#cdccfa" d="M156.5 310.6h5.4v5.4h-5.4zM291.5 310.6h5.4v5.4h-5.4zM306.5 310.6h5.4v5.4h-5.4zM156.5 315.6h5.4v5.4h-5.4zM291.5 315.6h5.4v5.4h-5.4zM306.5 315.6h5.4v5.4h-5.4zM156.5 320.6h5.4v5.4h-5.4zM291.5 320.6h5.4v5.4h-5.4zM306.5 320.6h5.4v5.4h-5.4zM156.5 325.6h5.4v5.4h-5.4zM291.5 325.6h5.4v5.4h-5.4zM306.5 325.6h5.4v5.4h-5.4zM156.5 330.6h5.4v5.4h-5.4zM291.5 330.6h5.4v5.4h-5.4zM306.5 330.6h5.4v5.4h-5.4zM296.5 335.6h10.4v5.4h-10.4zM126.5 370.6h10.4v5.4h-10.4zM246.5 410.6h5.4v5.4h-5.4zM151.5 460.6h5.4v5.4h-5.4zM326.5 465.6h35.4v5.4h-35.4zM71.5 470.6h5.4v5.4h-5.4zM306.5 475.6h10.4v5.4h-10.4zM316.5 500.6h45.4v5.4h-45.4zM291.5 505.6h5.4v5.4h-5.4zM291.5 510.6h5.4v5.4h-5.4zM291.5 515.6h5.4v5.4h-5.4zM291.5 520.6h5.4v5.4h-5.4zM291.5 525.6h5.4v5.4h-5.4zM291.5 530.6h5.4v5.4h-5.4zM291.5 535.6h5.4v5.4h-5.4z"/><path fill="#bebdf8" d="M166.5 310.6h5.4v5.4h-5.4zM166.5 315.6h5.4v5.4h-5.4zM166.5 320.6h5.4v5.4h-5.4zM166.5 325.6h5.4v5.4h-5.4zM166.5 330.6h5.4v5.4h-5.4z"/><path fill="#7673f0" d="M171.5 310.6h5.4v5.4h-5.4zM171.5 315.6h5.4v5.4h-5.4zM171.5 320.6h5.4v5.4h-5.4zM171.5 325.6h5.4v5.4h-5.4zM171.5 330.6h5.4v5.4h-5.4zM221.5 340.6h5.4v5.4h-5.4zM256.5 340.6h5.4v5.4h-5.4zM106.5 430.6h5.4v5.4h-5.4zM26.5 455.6h5.4v5.4h-5.4z"/><path fill="#4a46eb" d="M176.5 310.6h5.4v5.4h-5.4zM176.5 315.6h5.4v5.4h-5.4zM176.5 320.6h5.4v5.4h-5.4zM176.5 325.6h5.4v5.4h-5.4zM176.5 330.6h5.4v5.4h-5.4zM71.5 355.6h5.4v5.4h-5.4zM86.5 385.6h5.4v5.4h-5.4zM71.5 395.6h5.4v5.4h-5.4zM101.5 400.6h5.4v5.4h-5.4zM136.5 405.6h10.4v5.4h-10.4zM146.5 425.6h5.4v5.4h-5.4zM146.5 430.6h5.4v5.4h-5.4z"/><path fill="#3934e9" d="M181.5 310.6h5.4v5.4h-5.4zM181.5 315.6h5.4v5.4h-5.4zM181.5 320.6h5.4v5.4h-5.4zM181.5 325.6h5.4v5.4h-5.4zM181.5 330.6h5.4v5.4h-5.4zM136.5 410.6h10.4v5.4h-10.4zM151.5 425.6h5.4v5.4h-5.4zM151.5 430.6h5.4v5.4h-5.4z"/><path fill="#302ce8" d="M186.5 310.6h10.4v5.4h-10.4zM186.5 315.6h10.4v5.4h-10.4zM186.5 320.6h10.4v5.4h-10.4zM186.5 325.6h10.4v5.4h-10.4zM186.5 330.6h10.4v5.4h-10.4zM1.5 435.6h25.4v5.4h-25.4zM1.5 440.6h25.4v5.4h-25.4zM1.5 445.6h25.4v5.4h-25.4zM1.5 450.6h25.4v5.4h-25.4z"/><path fill="#413dea" d="M196.5 310.6h5.4v5.4h-5.4zM196.5 315.6h5.4v5.4h-5.4zM196.5 320.6h5.4v5.4h-5.4zM196.5 325.6h5.4v5.4h-5.4zM196.5 330.6h5.4v5.4h-5.4zM61.5 380.6h5.4v5.4h-5.4zM151.5 435.6h10.4v5.4h-10.4z"/><path fill="#6460ee" d="M201.5 310.6h5.4v5.4h-5.4zM201.5 315.6h5.4v5.4h-5.4zM201.5 320.6h5.4v5.4h-5.4zM201.5 325.6h5.4v5.4h-5.4zM201.5 330.6h5.4v5.4h-5.4zM196.5 350.6h10.4v5.4h-10.4zM186.5 365.6h5.4v5.4h-5.4zM96.5 375.6h5.4v5.4h-5.4zM96.5 380.6h5.4v5.4h-5.4zM166.5 385.6h5.4v5.4h-5.4zM116.5 435.6h10.4v5.4h-10.4zM166.5 435.6h5.4v5.4h-5.4zM146.5 440.6h5.4v5.4h-5.4zM161.5 440.6h5.4v5.4h-5.4z"/><path fill="#8987f2" d="M206.5 310.6h5.4v5.4h-5.4zM256.5 310.6h5.4v5.4h-5.4zM206.5 315.6h5.4v5.4h-5.4zM256.5 315.6h5.4v5.4h-5.4zM206.5 320.6h5.4v5.4h-5.4zM256.5 320.6h5.4v5.4h-5.4zM206.5 325.6h5.4v5.4h-5.4zM256.5 325.6h5.4v5.4h-5.4zM206.5 330.6h5.4v5.4h-5.4zM256.5 330.6h5.4v5.4h-5.4zM141.5 375.6h5.4v5.4h-5.4zM141.5 380.6h5.4v5.4h-5.4zM141.5 385.6h5.4v5.4h-5.4zM141.5 390.6h5.4v5.4h-5.4zM61.5 400.6h5.4v5.4h-5.4z"/><path fill="#b1b0f7" d="M211.5 310.6h5.4v5.4h-5.4zM261.5 310.6h5.4v5.4h-5.4zM211.5 315.6h5.4v5.4h-5.4zM261.5 315.6h5.4v5.4h-5.4zM211.5 320.6h5.4v5.4h-5.4zM261.5 320.6h5.4v5.4h-5.4zM211.5 325.6h5.4v5.4h-5.4zM261.5 325.6h5.4v5.4h-5.4zM211.5 330.6h5.4v5.4h-5.4zM261.5 330.6h5.4v5.4h-5.4zM136.5 375.6h5.4v5.4h-5.4zM136.5 380.6h5.4v5.4h-5.4zM136.5 385.6h5.4v5.4h-5.4zM136.5 390.6h5.4v5.4h-5.4zM306.5 455.6h5.4v5.4h-5.4zM321.5 460.6h5.4v5.4h-5.4z"/><path fill="#bab8f8" d="M226.5 310.6h5.4v5.4h-5.4zM226.5 315.6h5.4v5.4h-5.4zM226.5 320.6h5.4v5.4h-5.4zM226.5 325.6h5.4v5.4h-5.4zM226.5 330.6h5.4v5.4h-5.4zM96.5 365.6h5.4v5.4h-5.4zM111.5 375.6h5.4v5.4h-5.4zM111.5 380.6h5.4v5.4h-5.4zM181.5 395.6h5.4v5.4h-5.4zM181.5 400.6h5.4v5.4h-5.4zM181.5 405.6h5.4v5.4h-5.4zM241.5 405.6h5.4v5.4h-5.4zM181.5 410.6h5.4v5.4h-5.4zM221.5 455.6h5.4v5.4h-5.4zM326.5 460.6h35.4v5.4h-35.4zM306.5 470.6h10.4v5.4h-10.4z"/><path fill="#a3a1f5" d="M231.5 310.6h5.4v5.4h-5.4zM231.5 315.6h5.4v5.4h-5.4zM231.5 320.6h5.4v5.4h-5.4zM231.5 325.6h5.4v5.4h-5.4zM231.5 330.6h5.4v5.4h-5.4zM166.5 355.6h5.4v5.4h-5.4zM106.5 375.6h5.4v5.4h-5.4zM106.5 380.6h5.4v5.4h-5.4zM176.5 395.6h5.4v5.4h-5.4zM176.5 400.6h5.4v5.4h-5.4zM176.5 405.6h5.4v5.4h-5.4zM176.5 410.6h5.4v5.4h-5.4zM326.5 455.6h35.4v5.4h-35.4zM306.5 465.6h10.4v5.4h-10.4z"/><path fill="#8f8cf3" d="M236.5 310.6h5.4v5.4h-5.4zM236.5 315.6h5.4v5.4h-5.4zM236.5 320.6h5.4v5.4h-5.4zM236.5 325.6h5.4v5.4h-5.4zM236.5 330.6h5.4v5.4h-5.4zM231.5 335.6h5.4v5.4h-5.4zM191.5 345.6h5.4v5.4h-5.4zM236.5 350.6h5.4v5.4h-5.4zM206.5 360.6h5.4v5.4h-5.4zM171.5 395.6h5.4v5.4h-5.4zM171.5 400.6h5.4v5.4h-5.4zM171.5 405.6h5.4v5.4h-5.4zM171.5 410.6h5.4v5.4h-5.4z"/><path fill="#7e7bf1" d="M241.5 310.6h5.4v5.4h-5.4zM241.5 315.6h5.4v5.4h-5.4zM241.5 320.6h5.4v5.4h-5.4zM241.5 325.6h5.4v5.4h-5.4zM241.5 330.6h5.4v5.4h-5.4zM91.5 390.6h5.4v5.4h-5.4zM96.5 395.6h5.4v5.4h-5.4zM166.5 395.6h5.4v5.4h-5.4zM166.5 400.6h5.4v5.4h-5.4zM166.5 405.6h5.4v5.4h-5.4zM166.5 410.6h5.4v5.4h-5.4zM1.5 420.6h25.4v5.4h-25.4z"/><path fill="#7572f0" d="M246.5 310.6h10.4v5.4h-10.4zM246.5 315.6h10.4v5.4h-10.4zM246.5 320.6h10.4v5.4h-10.4zM246.5 325.6h10.4v5.4h-10.4zM246.5 330.6h10.4v5.4h-10.4zM251.5 345.6h5.4v5.4h-5.4zM161.5 360.6h5.4v5.4h-5.4zM191.5 365.6h5.4v5.4h-5.4zM186.5 370.6h5.4v5.4h-5.4zM171.5 385.6h5.4v5.4h-5.4zM166.5 390.6h5.4v5.4h-5.4zM171.5 435.6h5.4v5.4h-5.4zM166.5 440.6h5.4v5.4h-5.4z"/><path fill="#d4d3fa" d="M266.5 310.6h5.4v5.4h-5.4zM266.5 315.6h5.4v5.4h-5.4zM266.5 320.6h5.4v5.4h-5.4zM266.5 325.6h5.4v5.4h-5.4zM266.5 330.6h5.4v5.4h-5.4zM306.5 335.6h5.4v5.4h-5.4zM226.5 360.6h5.4v5.4h-5.4zM111.5 370.6h5.4v5.4h-5.4zM1.5 390.6h25.4v5.4h-25.4zM66.5 415.6h5.4v5.4h-5.4zM186.5 435.6h5.4v5.4h-5.4zM176.5 455.6h5.4v5.4h-5.4zM291.5 460.6h5.4v5.4h-5.4zM86.5 465.6h10.4v5.4h-10.4zM291.5 465.6h5.4v5.4h-5.4z"/><path fill="#f1f0fd" d="M271.5 310.6h5.4v5.4h-5.4zM271.5 315.6h5.4v5.4h-5.4zM271.5 320.6h5.4v5.4h-5.4zM271.5 325.6h5.4v5.4h-5.4zM271.5 330.6h5.4v5.4h-5.4zM316.5 335.6h5.4v5.4h-5.4zM136.5 340.6h10.4v5.4h-10.4zM311.5 340.6h5.4v5.4h-5.4zM296.5 345.6h10.4v5.4h-10.4zM251.5 355.6h5.4v5.4h-5.4zM1.5 385.6h25.4v5.4h-25.4zM196.5 425.6h5.4v5.4h-5.4zM196.5 430.6h5.4v5.4h-5.4zM331.5 430.6h5.4v5.4h-5.4zM191.5 440.6h5.4v5.4h-5.4zM286.5 455.6h5.4v5.4h-5.4zM181.5 460.6h5.4v5.4h-5.4zM86.5 470.6h10.4v5.4h-10.4zM286.5 470.6h5.4v5.4h-5.4zM236.5 495.6h5.4v5.4h-5.4zM236.5 515.6h5.4v5.4h-5.4zM236.5 520.6h5.4v5.4h-5.4zM236.5 525.6h5.4v5.4h-5.4zM236.5 530.6h5.4v5.4h-5.4zM236.5 535.6h5.4v5.4h-5.4z"/><path fill="#f8f8fe" d="M276.5 310.6h5.4v5.4h-5.4zM321.5 310.6h5.4v5.4h-5.4zM276.5 315.6h5.4v5.4h-5.4zM321.5 315.6h5.4v5.4h-5.4zM276.5 320.6h5.4v5.4h-5.4zM321.5 320.6h5.4v5.4h-5.4zM276.5 325.6h5.4v5.4h-5.4zM321.5 325.6h5.4v5.4h-5.4zM276.5 330.6h5.4v5.4h-5.4zM321.5 330.6h5.4v5.4h-5.4zM126.5 360.6h10.4v5.4h-10.4zM216.5 370.6h5.4v5.4h-5.4zM336.5 385.6h25.4v5.4h-25.4zM336.5 400.6h25.4v5.4h-25.4zM336.5 425.6h25.4v5.4h-25.4zM316.5 435.6h10.4v5.4h-10.4zM106.5 455.6h5.4v5.4h-5.4zM66.5 480.6h5.4v5.4h-5.4zM291.5 485.6h5.4v5.4h-5.4zM226.5 490.6h10.4v5.4h-10.4zM291.5 490.6h5.4v5.4h-5.4zM226.5 500.6h10.4v5.4h-10.4zM226.5 515.6h5.4v5.4h-5.4zM276.5 515.6h5.4v5.4h-5.4zM226.5 520.6h5.4v5.4h-5.4zM276.5 520.6h5.4v5.4h-5.4zM226.5 525.6h5.4v5.4h-5.4zM276.5 525.6h5.4v5.4h-5.4zM226.5 530.6h5.4v5.4h-5.4zM276.5 530.6h5.4v5.4h-5.4zM226.5 535.6h5.4v5.4h-5.4zM276.5 535.6h5.4v5.4h-5.4z"/><path fill="#e9e9fd" d="M281.5 310.6h5.4v5.4h-5.4zM316.5 310.6h5.4v5.4h-5.4zM281.5 315.6h5.4v5.4h-5.4zM316.5 315.6h5.4v5.4h-5.4zM281.5 320.6h5.4v5.4h-5.4zM316.5 320.6h5.4v5.4h-5.4zM281.5 325.6h5.4v5.4h-5.4zM316.5 325.6h5.4v5.4h-5.4zM281.5 330.6h5.4v5.4h-5.4zM316.5 330.6h5.4v5.4h-5.4zM221.5 365.6h5.4v5.4h-5.4zM336.5 390.6h25.4v5.4h-25.4zM336.5 395.6h25.4v5.4h-25.4zM336.5 430.6h25.4v5.4h-25.4zM316.5 440.6h10.4v5.4h-10.4zM71.5 475.6h5.4v5.4h-5.4zM226.5 495.6h10.4v5.4h-10.4zM231.5 515.6h5.4v5.4h-5.4zM281.5 515.6h5.4v5.4h-5.4zM231.5 520.6h5.4v5.4h-5.4zM281.5 520.6h5.4v5.4h-5.4zM231.5 525.6h5.4v5.4h-5.4zM281.5 525.6h5.4v5.4h-5.4zM231.5 530.6h5.4v5.4h-5.4zM281.5 530.6h5.4v5.4h-5.4zM231.5 535.6h5.4v5.4h-5.4zM281.5 535.6h5.4v5.4h-5.4z"/><path fill="#ffffff" d="M326.5 310.6h35.4v5.4h-35.4zM326.5 315.6h35.4v5.4h-35.4zM326.5 320.6h35.4v5.4h-35.4zM326.5 325.6h35.4v5.4h-35.4zM326.5 330.6h35.4v5.4h-35.4zM136.5 335.6h5.4v5.4h-5.4zM321.5 335.6h5.4v5.4h-5.4zM316.5 340.6h5.4v5.4h-5.4zM336.5 405.6h25.4v5.4h-25.4zM336.5 410.6h25.4v5.4h-25.4zM336.5 415.6h25.4v5.4h-25.4zM336.5 420.6h25.4v5.4h-25.4zM331.5 425.6h5.4v5.4h-5.4zM326.5 430.6h5.4v5.4h-5.4zM241.5 495.6h5.4v5.4h-5.4zM236.5 500.6h5.4v5.4h-5.4zM216.5 515.6h10.4v5.4h-10.4zM216.5 520.6h10.4v5.4h-10.4zM216.5 525.6h10.4v5.4h-10.4zM216.5 530.6h10.4v5.4h-10.4zM216.5 535.6h10.4v5.4h-10.4z"/><path fill="#f58181" d="M1.5 335.6h25.4v5.4h-25.4zM276.5 425.6h20.4v5.4h-20.4zM231.5 430.6h5.4v5.4h-5.4zM76.5 505.6h5.4v5.4h-5.4zM121.5 505.6h5.4v5.4h-5.4zM151.5 505.6h5.4v5.4h-5.4zM156.5 515.6h5.4v5.4h-5.4zM156.5 520.6h5.4v5.4h-5.4zM156.5 525.6h5.4v5.4h-5.4zM156.5 530.6h5.4v5.4h-5.4zM156.5 535.6h5.4v5.4h-5.4z"/><path fill="#f58787" d="M26.5 335.6h5.4v5.4h-5.4zM271.5 425.6h5.4v5.4h-5.4z"/><path fill="#f69292" d="M31.5 335.6h5.4v5.4h-5.4z"/><path fill="#f79898" d="M36.5 335.6h5.4v5.4h-5.4z"/><path fill="#f79a9a" d="M41.5 335.6h5.4v5.4h-5.4zM36.5 340.6h5.4v5.4h-5.4zM321.5 365.6h5.4v5.4h-5.4zM316.5 370.6h5.4v5.4h-5.4zM216.5 405.6h5.4v5.4h-5.4zM281.5 405.6h10.4v5.4h-10.4zM221.5 410.6h5.4v5.4h-5.4zM276.5 410.6h5.4v5.4h-5.4zM291.5 410.6h5.4v5.4h-5.4zM261.5 455.6h5.4v5.4h-5.4zM256.5 460.6h5.4v5.4h-5.4zM121.5 465.6h5.4v5.4h-5.4zM116.5 470.6h5.4v5.4h-5.4zM136.5 475.6h5.4v5.4h-5.4zM141.5 480.6h5.4v5.4h-5.4zM111.5 485.6h5.4v5.4h-5.4zM131.5 485.6h10.4v5.4h-10.4zM146.5 485.6h5.4v5.4h-5.4zM106.5 490.6h5.4v5.4h-5.4zM126.5 490.6h5.4v5.4h-5.4zM141.5 490.6h5.4v5.4h-5.4zM151.5 490.6h5.4v5.4h-5.4zM71.5 495.6h5.4v5.4h-5.4zM126.5 495.6h5.4v5.4h-5.4zM66.5 500.6h5.4v5.4h-5.4zM131.5 500.6h5.4v5.4h-5.4zM51.5 505.6h5.4v5.4h-5.4zM46.5 510.6h5.4v5.4h-5.4z"/><path fill="#f79e9e" d="M51.5 335.6h5.4v5.4h-5.4z"/><path fill="#fac3c3" d="M56.5 335.6h5.4v5.4h-5.4zM216.5 435.6h5.4v5.4h-5.4zM221.5 440.6h5.4v5.4h-5.4z"/><path fill="#f6f5fe" d="M61.5 335.6h5.4v5.4h-5.4z"/><path fill="#e6e6fc" d="M66.5 335.6h5.4v5.4h-5.4zM51.5 425.6h5.4v5.4h-5.4zM231.5 455.6h5.4v5.4h-5.4z"/><path fill="#fef4f4" d="M71.5 335.6h5.4v5.4h-5.4zM261.5 430.6h5.4v5.4h-5.4zM206.5 455.6h5.4v5.4h-5.4z"/><path fill="#fcdcdc" d="M76.5 335.6h5.4v5.4h-5.4zM81.5 340.6h5.4v5.4h-5.4zM96.5 340.6h5.4v5.4h-5.4zM101.5 350.6h5.4v5.4h-5.4zM101.5 355.6h5.4v5.4h-5.4z"/><path fill="#fbd3d3" d="M81.5 335.6h5.4v5.4h-5.4zM126.5 335.6h5.4v5.4h-5.4zM286.5 350.6h5.4v5.4h-5.4zM106.5 360.6h5.4v5.4h-5.4zM41.5 365.6h5.4v5.4h-5.4zM246.5 365.6h5.4v5.4h-5.4zM36.5 370.6h5.4v5.4h-5.4zM231.5 370.6h5.4v5.4h-5.4zM261.5 370.6h5.4v5.4h-5.4zM206.5 385.6h5.4v5.4h-5.4zM316.5 385.6h5.4v5.4h-5.4zM201.5 390.6h5.4v5.4h-5.4zM201.5 415.6h5.4v5.4h-5.4zM271.5 435.6h5.4v5.4h-5.4zM266.5 440.6h5.4v5.4h-5.4zM236.5 445.6h5.4v5.4h-5.4zM241.5 450.6h5.4v5.4h-5.4zM71.5 455.6h5.4v5.4h-5.4zM241.5 455.6h5.4v5.4h-5.4zM276.5 455.6h5.4v5.4h-5.4zM236.5 460.6h5.4v5.4h-5.4zM276.5 470.6h5.4v5.4h-5.4zM36.5 480.6h5.4v5.4h-5.4zM191.5 485.6h5.4v5.4h-5.4zM241.5 485.6h5.4v5.4h-5.4zM61.5 490.6h5.4v5.4h-5.4zM36.5 495.6h5.4v5.4h-5.4z"/><path fill="#fbd2d2" d="M86.5 335.6h5.4v5.4h-5.4z"/><path fill="#fcd8d8" d="M106.5 335.6h10.4v5.4h-10.4zM96.5 345.6h5.4v5.4h-5.4zM256.5 445.6h5.4v5.4h-5.4z"/><path fill="#fbcdcd" d="M121.5 335.6h5.4v5.4h-5.4zM116.5 340.6h5.4v5.4h-5.4zM126.5 350.6h5.4v5.4h-5.4zM271.5 355.6h5.4v5.4h-5.4zM286.5 355.6h5.4v5.4h-5.4zM261.5 360.6h10.4v5.4h-10.4zM291.5 360.6h5.4v5.4h-5.4zM266.5 365.6h5.4v5.4h-5.4zM271.5 370.6h5.4v5.4h-5.4zM226.5 395.6h5.4v5.4h-5.4zM291.5 435.6h5.4v5.4h-5.4zM286.5 440.6h5.4v5.4h-5.4zM281.5 445.6h5.4v5.4h-5.4zM276.5 450.6h5.4v5.4h-5.4zM231.5 465.6h5.4v5.4h-5.4zM226.5 470.6h5.4v5.4h-5.4zM26.5 475.6h5.4v5.4h-5.4zM101.5 475.6h5.4v5.4h-5.4zM31.5 480.6h5.4v5.4h-5.4zM96.5 480.6h5.4v5.4h-5.4zM36.5 485.6h5.4v5.4h-5.4zM246.5 485.6h5.4v5.4h-5.4zM41.5 490.6h10.4v5.4h-10.4zM251.5 490.6h5.4v5.4h-5.4z"/><path fill="#e2e2fc" d="M141.5 335.6h5.4v5.4h-5.4zM311.5 335.6h5.4v5.4h-5.4zM306.5 340.6h5.4v5.4h-5.4zM246.5 355.6h5.4v5.4h-5.4zM71.5 420.6h5.4v5.4h-5.4zM191.5 435.6h5.4v5.4h-5.4zM336.5 435.6h25.4v5.4h-25.4zM186.5 440.6h5.4v5.4h-5.4zM336.5 440.6h25.4v5.4h-25.4zM181.5 455.6h5.4v5.4h-5.4zM291.5 455.6h5.4v5.4h-5.4zM176.5 460.6h5.4v5.4h-5.4zM286.5 460.6h5.4v5.4h-5.4zM286.5 465.6h5.4v5.4h-5.4zM291.5 470.6h5.4v5.4h-5.4zM326.5 475.6h35.4v5.4h-35.4zM326.5 480.6h35.4v5.4h-35.4zM316.5 485.6h45.4v5.4h-45.4zM316.5 490.6h45.4v5.4h-45.4z"/><path fill="#d2d1fa" d="M146.5 335.6h5.4v5.4h-5.4zM146.5 350.6h5.4v5.4h-5.4zM241.5 355.6h5.4v5.4h-5.4zM246.5 390.6h5.4v5.4h-5.4zM261.5 390.6h5.4v5.4h-5.4zM61.5 415.6h5.4v5.4h-5.4zM56.5 420.6h5.4v5.4h-5.4zM86.5 425.6h5.4v5.4h-5.4zM191.5 425.6h5.4v5.4h-5.4zM96.5 435.6h5.4v5.4h-5.4zM86.5 440.6h5.4v5.4h-5.4zM181.5 445.6h5.4v5.4h-5.4zM61.5 475.6h5.4v5.4h-5.4zM301.5 475.6h5.4v5.4h-5.4zM316.5 475.6h5.4v5.4h-5.4zM301.5 490.6h10.4v5.4h-10.4z"/><path fill="#cecdfa" d="M151.5 335.6h5.4v5.4h-5.4zM151.5 350.6h5.4v5.4h-5.4zM261.5 405.6h5.4v5.4h-5.4zM226.5 450.6h5.4v5.4h-5.4zM56.5 475.6h5.4v5.4h-5.4z"/><path fill="#d0cffa" d="M156.5 335.6h5.4v5.4h-5.4zM161.5 340.6h5.4v5.4h-5.4zM161.5 345.6h5.4v5.4h-5.4zM156.5 350.6h5.4v5.4h-5.4zM256.5 350.6h5.4v5.4h-5.4zM121.5 370.6h5.4v5.4h-5.4zM31.5 385.6h5.4v5.4h-5.4zM26.5 390.6h5.4v5.4h-5.4zM101.5 445.6h5.4v5.4h-5.4zM316.5 445.6h45.4v5.4h-45.4zM96.5 450.6h5.4v5.4h-5.4zM96.5 455.6h5.4v5.4h-5.4zM71.5 460.6h5.4v5.4h-5.4zM46.5 465.6h5.4v5.4h-5.4zM51.5 470.6h5.4v5.4h-5.4z"/><path fill="#d7d7fb" d="M161.5 335.6h5.4v5.4h-5.4zM156.5 340.6h5.4v5.4h-5.4zM156.5 345.6h5.4v5.4h-5.4zM161.5 350.6h5.4v5.4h-5.4zM116.5 370.6h5.4v5.4h-5.4zM96.5 445.6h5.4v5.4h-5.4zM101.5 450.6h5.4v5.4h-5.4zM96.5 460.6h5.4v5.4h-5.4zM51.5 465.6h5.4v5.4h-5.4zM46.5 470.6h5.4v5.4h-5.4zM291.5 500.6h5.4v5.4h-5.4z"/><path fill="#c0bff8" d="M166.5 335.6h5.4v5.4h-5.4zM166.5 350.6h5.4v5.4h-5.4z"/><path fill="#8a88f2" d="M171.5 335.6h5.4v5.4h-5.4zM171.5 350.6h5.4v5.4h-5.4z"/><path fill="#6966ef" d="M176.5 335.6h5.4v5.4h-5.4zM131.5 400.6h5.4v5.4h-5.4z"/><path fill="#5c58ed" d="M181.5 335.6h5.4v5.4h-5.4zM61.5 395.6h5.4v5.4h-5.4zM126.5 400.6h5.4v5.4h-5.4zM26.5 430.6h5.4v5.4h-5.4z"/><path fill="#534fec" d="M186.5 335.6h5.4v5.4h-5.4zM176.5 355.6h10.4v5.4h-10.4zM176.5 360.6h10.4v5.4h-10.4zM156.5 365.6h10.4v5.4h-10.4zM156.5 370.6h10.4v5.4h-10.4zM156.5 375.6h10.4v5.4h-10.4zM156.5 380.6h10.4v5.4h-10.4zM146.5 435.6h5.4v5.4h-5.4zM161.5 435.6h5.4v5.4h-5.4zM151.5 440.6h10.4v5.4h-10.4z"/><path fill="#4d49ec" d="M191.5 335.6h5.4v5.4h-5.4zM71.5 385.6h5.4v5.4h-5.4zM116.5 400.6h5.4v5.4h-5.4z"/><path fill="#5753ed" d="M196.5 335.6h5.4v5.4h-5.4zM76.5 390.6h5.4v5.4h-5.4zM96.5 405.6h5.4v5.4h-5.4z"/><path fill="#716ef0" d="M201.5 335.6h5.4v5.4h-5.4zM246.5 345.6h5.4v5.4h-5.4zM156.5 360.6h5.4v5.4h-5.4zM86.5 400.6h5.4v5.4h-5.4zM96.5 410.6h5.4v5.4h-5.4zM146.5 445.6h5.4v5.4h-5.4z"/><path fill="#8b88f2" d="M206.5 335.6h5.4v5.4h-5.4zM201.5 340.6h5.4v5.4h-5.4zM211.5 340.6h5.4v5.4h-5.4zM61.5 345.6h5.4v5.4h-5.4zM76.5 350.6h5.4v5.4h-5.4z"/><path fill="#a4a2f5" d="M211.5 335.6h5.4v5.4h-5.4zM246.5 405.6h5.4v5.4h-5.4zM151.5 455.6h5.4v5.4h-5.4z"/><path fill="#afadf6" d="M216.5 335.6h5.4v5.4h-5.4zM261.5 335.6h5.4v5.4h-5.4zM206.5 365.6h5.4v5.4h-5.4zM201.5 370.6h5.4v5.4h-5.4zM111.5 385.6h5.4v5.4h-5.4zM181.5 390.6h5.4v5.4h-5.4zM246.5 395.6h5.4v5.4h-5.4zM181.5 415.6h5.4v5.4h-5.4zM171.5 450.6h5.4v5.4h-5.4z"/><path fill="#aba9f6" d="M221.5 335.6h5.4v5.4h-5.4zM261.5 340.6h5.4v5.4h-5.4zM101.5 370.6h5.4v5.4h-5.4zM36.5 455.6h5.4v5.4h-5.4z"/><path fill="#a09ef5" d="M226.5 335.6h5.4v5.4h-5.4zM186.5 345.6h5.4v5.4h-5.4zM241.5 350.6h5.4v5.4h-5.4zM211.5 360.6h5.4v5.4h-5.4zM51.5 395.6h5.4v5.4h-5.4zM311.5 455.6h5.4v5.4h-5.4zM321.5 455.6h5.4v5.4h-5.4zM306.5 460.6h5.4v5.4h-5.4zM316.5 460.6h5.4v5.4h-5.4z"/><path fill="#807df1" d="M236.5 335.6h5.4v5.4h-5.4zM206.5 345.6h5.4v5.4h-5.4zM231.5 350.6h5.4v5.4h-5.4zM201.5 360.6h5.4v5.4h-5.4zM51.5 390.6h5.4v5.4h-5.4zM101.5 390.6h5.4v5.4h-5.4zM126.5 440.6h5.4v5.4h-5.4z"/><path fill="#7370f0" d="M241.5 335.6h5.4v5.4h-5.4zM211.5 345.6h5.4v5.4h-5.4zM226.5 350.6h5.4v5.4h-5.4zM196.5 360.6h5.4v5.4h-5.4zM146.5 390.6h5.4v5.4h-5.4zM161.5 395.6h5.4v5.4h-5.4zM131.5 440.6h5.4v5.4h-5.4z"/><path fill="#6c69ef" d="M246.5 335.6h10.4v5.4h-10.4zM226.5 340.6h5.4v5.4h-5.4zM241.5 345.6h5.4v5.4h-5.4zM186.5 350.6h5.4v5.4h-5.4zM211.5 355.6h5.4v5.4h-5.4zM176.5 370.6h10.4v5.4h-10.4zM146.5 375.6h5.4v5.4h-5.4zM171.5 375.6h5.4v5.4h-5.4zM146.5 380.6h5.4v5.4h-5.4zM171.5 380.6h5.4v5.4h-5.4zM86.5 390.6h5.4v5.4h-5.4zM156.5 390.6h10.4v5.4h-10.4zM101.5 395.6h5.4v5.4h-5.4zM146.5 395.6h10.4v5.4h-10.4zM161.5 405.6h5.4v5.4h-5.4zM161.5 410.6h5.4v5.4h-5.4zM136.5 440.6h10.4v5.4h-10.4z"/><path fill="#8380f1" d="M256.5 335.6h5.4v5.4h-5.4zM216.5 340.6h5.4v5.4h-5.4z"/><path fill="#d6d5fb" d="M266.5 335.6h5.4v5.4h-5.4zM291.5 335.6h5.4v5.4h-5.4zM136.5 360.6h5.4v5.4h-5.4zM121.5 380.6h10.4v5.4h-10.4zM126.5 385.6h5.4v5.4h-5.4zM91.5 445.6h5.4v5.4h-5.4zM56.5 465.6h5.4v5.4h-5.4zM51.5 475.6h5.4v5.4h-5.4zM296.5 495.6h5.4v5.4h-5.4zM311.5 495.6h5.4v5.4h-5.4z"/><path fill="#f6f6fe" d="M271.5 335.6h5.4v5.4h-5.4zM281.5 335.6h5.4v5.4h-5.4zM76.5 340.6h5.4v5.4h-5.4zM136.5 345.6h5.4v5.4h-5.4zM306.5 345.6h5.4v5.4h-5.4zM196.5 435.6h5.4v5.4h-5.4zM296.5 445.6h5.4v5.4h-5.4zM186.5 455.6h5.4v5.4h-5.4zM146.5 465.6h5.4v5.4h-5.4zM176.5 465.6h5.4v5.4h-5.4zM76.5 475.6h5.4v5.4h-5.4zM221.5 495.6h5.4v5.4h-5.4zM236.5 510.6h5.4v5.4h-5.4z"/><path fill="#fffdfd" d="M276.5 335.6h5.4v5.4h-5.4zM271.5 340.6h5.4v5.4h-5.4zM286.5 340.6h5.4v5.4h-5.4zM311.5 345.6h5.4v5.4h-5.4zM211.5 375.6h5.4v5.4h-5.4zM251.5 415.6h5.4v5.4h-5.4zM196.5 440.6h5.4v5.4h-5.4zM211.5 440.6h5.4v5.4h-5.4zM186.5 460.6h5.4v5.4h-5.4zM181.5 465.6h5.4v5.4h-5.4zM96.5 470.6h5.4v5.4h-5.4zM81.5 475.6h5.4v5.4h-5.4zM46.5 480.6h5.4v5.4h-5.4zM221.5 490.6h5.4v5.4h-5.4zM221.5 500.6h5.4v5.4h-5.4zM236.5 505.6h5.4v5.4h-5.4zM221.5 510.6h5.4v5.4h-5.4z"/><path fill="#e8e7fc" d="M286.5 335.6h5.4v5.4h-5.4zM291.5 340.6h5.4v5.4h-5.4zM141.5 350.6h5.4v5.4h-5.4zM206.5 375.6h5.4v5.4h-5.4zM331.5 435.6h5.4v5.4h-5.4zM326.5 440.6h5.4v5.4h-5.4zM96.5 465.6h5.4v5.4h-5.4zM46.5 475.6h5.4v5.4h-5.4zM51.5 480.6h5.4v5.4h-5.4z"/><path fill="#f8acac" d="M1.5 340.6h25.4v5.4h-25.4zM321.5 370.6h5.4v5.4h-5.4zM236.5 380.6h5.4v5.4h-5.4zM231.5 385.6h5.4v5.4h-5.4zM221.5 405.6h5.4v5.4h-5.4zM276.5 405.6h5.4v5.4h-5.4zM291.5 405.6h5.4v5.4h-5.4zM276.5 430.6h20.4v5.4h-20.4zM261.5 460.6h5.4v5.4h-5.4zM116.5 465.6h5.4v5.4h-5.4zM141.5 475.6h5.4v5.4h-5.4zM106.5 485.6h5.4v5.4h-5.4zM151.5 485.6h5.4v5.4h-5.4zM131.5 490.6h10.4v5.4h-10.4zM66.5 495.6h5.4v5.4h-5.4zM131.5 495.6h5.4v5.4h-5.4zM46.5 505.6h5.4v5.4h-5.4zM161.5 515.6h5.4v5.4h-5.4zM161.5 520.6h5.4v5.4h-5.4zM161.5 525.6h5.4v5.4h-5.4zM161.5 530.6h5.4v5.4h-5.4zM161.5 535.6h5.4v5.4h-5.4z"/><path fill="#f8a7a7" d="M26.5 340.6h5.4v5.4h-5.4zM256.5 420.6h5.4v5.4h-5.4zM61.5 430.6h5.4v5.4h-5.4z"/><path fill="#f79f9f" d="M41.5 340.6h5.4v5.4h-5.4zM321.5 360.6h5.4v5.4h-5.4zM291.5 370.6h5.4v5.4h-5.4zM211.5 415.6h5.4v5.4h-5.4zM261.5 425.6h5.4v5.4h-5.4zM66.5 455.6h5.4v5.4h-5.4zM91.5 490.6h5.4v5.4h-5.4z"/><path fill="#f7a2a2" d="M46.5 340.6h10.4v5.4h-10.4zM236.5 430.6h5.4v5.4h-5.4z"/><path fill="#b4b2f7" d="M61.5 340.6h5.4v5.4h-5.4zM261.5 400.6h5.4v5.4h-5.4z"/><path fill="#9794f4" d="M66.5 340.6h5.4v5.4h-5.4z"/><path fill="#c8c7f9" d="M71.5 340.6h5.4v5.4h-5.4zM181.5 440.6h5.4v5.4h-5.4zM66.5 470.6h5.4v5.4h-5.4z"/><path fill="#fbcbcb" d="M86.5 340.6h5.4v5.4h-5.4zM221.5 380.6h5.4v5.4h-5.4z"/><path fill="#fde1e1" d="M101.5 340.6h5.4v5.4h-5.4z"/><path fill="#fcdede" d="M106.5 340.6h5.4v5.4h-5.4zM86.5 345.6h5.4v5.4h-5.4zM331.5 345.6h5.4v5.4h-5.4zM91.5 350.6h5.4v5.4h-5.4zM221.5 375.6h5.4v5.4h-5.4zM261.5 380.6h5.4v5.4h-5.4zM206.5 435.6h5.4v5.4h-5.4zM306.5 435.6h5.4v5.4h-5.4zM246.5 440.6h5.4v5.4h-5.4zM231.5 445.6h5.4v5.4h-5.4zM286.5 445.6h5.4v5.4h-5.4zM146.5 470.6h5.4v5.4h-5.4zM161.5 475.6h5.4v5.4h-5.4zM176.5 475.6h5.4v5.4h-5.4zM191.5 475.6h5.4v5.4h-5.4zM171.5 485.6h5.4v5.4h-5.4zM201.5 485.6h5.4v5.4h-5.4zM216.5 485.6h5.4v5.4h-5.4zM176.5 500.6h5.4v5.4h-5.4zM201.5 500.6h5.4v5.4h-5.4z"/><path fill="#fbd0d0" d="M111.5 340.6h5.4v5.4h-5.4zM301.5 355.6h5.4v5.4h-5.4zM331.5 355.6h5.4v5.4h-5.4zM281.5 365.6h5.4v5.4h-5.4zM331.5 370.6h5.4v5.4h-5.4zM226.5 375.6h5.4v5.4h-5.4zM321.5 380.6h5.4v5.4h-5.4zM276.5 390.6h5.4v5.4h-5.4zM311.5 390.6h5.4v5.4h-5.4zM276.5 395.6h5.4v5.4h-5.4zM271.5 405.6h5.4v5.4h-5.4zM266.5 410.6h5.4v5.4h-5.4zM311.5 410.6h5.4v5.4h-5.4zM246.5 420.6h5.4v5.4h-5.4zM206.5 425.6h5.4v5.4h-5.4zM106.5 465.6h5.4v5.4h-5.4zM151.5 475.6h5.4v5.4h-5.4zM161.5 485.6h5.4v5.4h-5.4zM261.5 500.6h5.4v5.4h-5.4zM26.5 505.6h5.4v5.4h-5.4z"/><path fill="#fdfdff" d="M131.5 340.6h5.4v5.4h-5.4zM291.5 345.6h5.4v5.4h-5.4zM111.5 355.6h10.4v5.4h-10.4zM121.5 360.6h5.4v5.4h-5.4zM226.5 365.6h5.4v5.4h-5.4zM196.5 385.6h5.4v5.4h-5.4zM331.5 385.6h5.4v5.4h-5.4zM321.5 390.6h5.4v5.4h-5.4zM331.5 400.6h5.4v5.4h-5.4zM196.5 420.6h5.4v5.4h-5.4zM76.5 425.6h5.4v5.4h-5.4zM191.5 445.6h5.4v5.4h-5.4zM281.5 460.6h5.4v5.4h-5.4zM281.5 465.6h5.4v5.4h-5.4zM41.5 475.6h5.4v5.4h-5.4zM56.5 485.6h5.4v5.4h-5.4zM236.5 490.6h5.4v5.4h-5.4zM226.5 505.6h5.4v5.4h-5.4zM276.5 510.6h5.4v5.4h-5.4z"/><path fill="#ebebfd" d="M146.5 340.6h5.4v5.4h-5.4zM146.5 345.6h5.4v5.4h-5.4zM331.5 390.6h5.4v5.4h-5.4zM331.5 395.6h5.4v5.4h-5.4zM186.5 445.6h5.4v5.4h-5.4zM211.5 445.6h5.4v5.4h-5.4zM156.5 465.6h5.4v5.4h-5.4zM171.5 465.6h5.4v5.4h-5.4zM61.5 480.6h5.4v5.4h-5.4zM281.5 510.6h5.4v5.4h-5.4z"/><path fill="#e0e0fc" d="M151.5 340.6h5.4v5.4h-5.4zM151.5 345.6h5.4v5.4h-5.4zM266.5 400.6h5.4v5.4h-5.4zM91.5 430.6h5.4v5.4h-5.4zM91.5 435.6h5.4v5.4h-5.4zM211.5 450.6h5.4v5.4h-5.4zM161.5 465.6h10.4v5.4h-10.4zM56.5 480.6h5.4v5.4h-5.4zM296.5 480.6h5.4v5.4h-5.4zM321.5 480.6h5.4v5.4h-5.4zM296.5 485.6h5.4v5.4h-5.4zM311.5 485.6h5.4v5.4h-5.4z"/><path fill="#c4c2f9" d="M166.5 340.6h5.4v5.4h-5.4zM166.5 345.6h5.4v5.4h-5.4zM36.5 430.6h5.4v5.4h-5.4z"/><path fill="#b2b0f7" d="M171.5 340.6h5.4v5.4h-5.4zM171.5 345.6h5.4v5.4h-5.4zM1.5 410.6h25.4v5.4h-25.4zM126.5 445.6h5.4v5.4h-5.4z"/><path fill="#a7a5f5" d="M176.5 340.6h5.4v5.4h-5.4zM131.5 395.6h5.4v5.4h-5.4z"/><path fill="#a2a0f5" d="M181.5 340.6h5.4v5.4h-5.4zM46.5 390.6h5.4v5.4h-5.4zM126.5 395.6h5.4v5.4h-5.4zM176.5 440.6h5.4v5.4h-5.4z"/><path fill="#9895f4" d="M186.5 340.6h5.4v5.4h-5.4zM121.5 395.6h5.4v5.4h-5.4zM181.5 425.6h5.4v5.4h-5.4z"/><path fill="#8684f2" d="M191.5 340.6h5.4v5.4h-5.4zM196.5 345.6h10.4v5.4h-10.4zM191.5 370.6h5.4v5.4h-5.4zM101.5 375.6h5.4v5.4h-5.4zM101.5 380.6h5.4v5.4h-5.4zM171.5 390.6h5.4v5.4h-5.4zM116.5 395.6h5.4v5.4h-5.4zM176.5 430.6h5.4v5.4h-5.4zM116.5 440.6h10.4v5.4h-10.4zM171.5 440.6h5.4v5.4h-5.4z"/><path fill="#827ff1" d="M196.5 340.6h5.4v5.4h-5.4zM91.5 395.6h5.4v5.4h-5.4zM151.5 450.6h5.4v5.4h-5.4z"/><path fill="#8d8bf3" d="M206.5 340.6h5.4v5.4h-5.4zM66.5 405.6h5.4v5.4h-5.4z"/><path fill="#6763ee" d="M231.5 340.6h5.4v5.4h-5.4zM236.5 345.6h5.4v5.4h-5.4zM191.5 350.6h5.4v5.4h-5.4zM206.5 355.6h5.4v5.4h-5.4z"/><path fill="#625eee" d="M236.5 340.6h5.4v5.4h-5.4zM231.5 345.6h5.4v5.4h-5.4zM206.5 350.6h5.4v5.4h-5.4zM201.5 355.6h5.4v5.4h-5.4zM151.5 385.6h5.4v5.4h-5.4zM156.5 400.6h5.4v5.4h-5.4zM126.5 435.6h5.4v5.4h-5.4z"/><path fill="#5d5aed" d="M241.5 340.6h5.4v5.4h-5.4zM226.5 345.6h5.4v5.4h-5.4zM211.5 350.6h5.4v5.4h-5.4zM196.5 355.6h5.4v5.4h-5.4zM161.5 415.6h5.4v5.4h-5.4zM131.5 435.6h5.4v5.4h-5.4z"/><path fill="#5b58ed" d="M246.5 340.6h10.4v5.4h-10.4zM171.5 360.6h5.4v5.4h-5.4zM176.5 365.6h10.4v5.4h-10.4zM151.5 375.6h5.4v5.4h-5.4zM166.5 375.6h5.4v5.4h-5.4zM151.5 380.6h5.4v5.4h-5.4zM166.5 380.6h5.4v5.4h-5.4zM91.5 385.6h5.4v5.4h-5.4zM156.5 385.6h10.4v5.4h-10.4zM96.5 400.6h5.4v5.4h-5.4zM146.5 400.6h10.4v5.4h-10.4zM156.5 405.6h5.4v5.4h-5.4zM156.5 410.6h5.4v5.4h-5.4zM136.5 435.6h10.4v5.4h-10.4z"/><path fill="#d9d8fb" d="M266.5 340.6h5.4v5.4h-5.4zM46.5 370.6h5.4v5.4h-5.4zM301.5 450.6h5.4v5.4h-5.4z"/><path fill="#fdeaea" d="M276.5 340.6h5.4v5.4h-5.4zM311.5 350.6h5.4v5.4h-5.4zM216.5 375.6h5.4v5.4h-5.4zM201.5 440.6h10.4v5.4h-10.4zM191.5 460.6h5.4v5.4h-5.4zM151.5 470.6h5.4v5.4h-5.4zM181.5 470.6h5.4v5.4h-5.4zM81.5 480.6h5.4v5.4h-5.4zM216.5 490.6h5.4v5.4h-5.4zM216.5 500.6h5.4v5.4h-5.4zM241.5 505.6h5.4v5.4h-5.4z"/><path fill="#feeeee" d="M281.5 340.6h5.4v5.4h-5.4zM136.5 350.6h5.4v5.4h-5.4zM306.5 350.6h5.4v5.4h-5.4zM206.5 380.6h5.4v5.4h-5.4zM41.5 435.6h5.4v5.4h-5.4zM201.5 435.6h5.4v5.4h-5.4zM191.5 455.6h5.4v5.4h-5.4zM56.5 460.6h5.4v5.4h-5.4zM101.5 465.6h5.4v5.4h-5.4zM176.5 470.6h5.4v5.4h-5.4zM76.5 480.6h5.4v5.4h-5.4zM216.5 495.6h5.4v5.4h-5.4zM216.5 505.6h5.4v5.4h-5.4zM241.5 510.6h5.4v5.4h-5.4z"/><path fill="#fef0f0" d="M321.5 340.6h5.4v5.4h-5.4zM316.5 345.6h5.4v5.4h-5.4zM296.5 350.6h10.4v5.4h-10.4zM246.5 360.6h5.4v5.4h-5.4zM1.5 380.6h25.4v5.4h-25.4zM331.5 380.6h5.4v5.4h-5.4zM201.5 425.6h5.4v5.4h-5.4zM326.5 425.6h5.4v5.4h-5.4zM46.5 430.6h5.4v5.4h-5.4zM201.5 430.6h5.4v5.4h-5.4zM216.5 440.6h5.4v5.4h-5.4zM296.5 440.6h10.4v5.4h-10.4zM241.5 500.6h5.4v5.4h-5.4zM241.5 515.6h5.4v5.4h-5.4zM241.5 520.6h5.4v5.4h-5.4zM241.5 525.6h5.4v5.4h-5.4zM241.5 530.6h5.4v5.4h-5.4zM241.5 535.6h5.4v5.4h-5.4z"/><path fill="#fde8e8" d="M326.5 340.6h35.4v5.4h-35.4zM336.5 375.6h25.4v5.4h-25.4zM326.5 405.6h5.4v5.4h-5.4zM326.5 410.6h5.4v5.4h-5.4zM326.5 415.6h5.4v5.4h-5.4zM326.5 420.6h5.4v5.4h-5.4zM61.5 425.6h5.4v5.4h-5.4zM316.5 425.6h10.4v5.4h-10.4zM226.5 445.6h5.4v5.4h-5.4zM106.5 460.6h5.4v5.4h-5.4zM206.5 515.6h5.4v5.4h-5.4zM266.5 515.6h5.4v5.4h-5.4zM206.5 520.6h5.4v5.4h-5.4zM266.5 520.6h5.4v5.4h-5.4zM206.5 525.6h5.4v5.4h-5.4zM266.5 525.6h5.4v5.4h-5.4zM206.5 530.6h5.4v5.4h-5.4zM266.5 530.6h5.4v5.4h-5.4zM206.5 535.6h5.4v5.4h-5.4zM266.5 535.6h5.4v5.4h-5.4z"/><path fill="#fac2c2" d="M1.5 345.6h25.4v5.4h-25.4zM1.5 350.6h25.4v5.4h-25.4zM1.5 355.6h35.4v5.4h-35.4zM1.5 360.6h35.4v5.4h-35.4zM1.5 365.6h35.4v5.4h-35.4zM1.5 370.6h35.4v5.4h-35.4zM216.5 385.6h10.4v5.4h-10.4zM216.5 390.6h10.4v5.4h-10.4zM296.5 395.6h10.4v5.4h-10.4zM296.5 400.6h10.4v5.4h-10.4zM276.5 435.6h10.4v5.4h-10.4zM41.5 440.6h5.4v5.4h-5.4zM276.5 440.6h10.4v5.4h-10.4zM236.5 465.6h10.4v5.4h-10.4zM236.5 470.6h10.4v5.4h-10.4zM226.5 475.6h30.4v5.4h-30.4zM226.5 480.6h30.4v5.4h-30.4zM1.5 515.6h25.4v5.4h-25.4zM1.5 520.6h25.4v5.4h-25.4zM1.5 525.6h25.4v5.4h-25.4zM1.5 530.6h25.4v5.4h-25.4zM1.5 535.6h25.4v5.4h-25.4z"/><path fill="#f9baba" d="M26.5 345.6h5.4v5.4h-5.4zM31.5 350.6h5.4v5.4h-5.4zM236.5 375.6h5.4v5.4h-5.4zM226.5 385.6h5.4v5.4h-5.4zM241.5 425.6h5.4v5.4h-5.4z"/><path fill="#f8aaaa" d="M31.5 345.6h5.4v5.4h-5.4zM296.5 365.6h5.4v5.4h-5.4zM311.5 380.6h5.4v5.4h-5.4zM136.5 495.6h5.4v5.4h-5.4z"/><path fill="#f7a3a3" d="M36.5 345.6h5.4v5.4h-5.4zM316.5 360.6h5.4v5.4h-5.4zM286.5 370.6h5.4v5.4h-5.4zM211.5 420.6h5.4v5.4h-5.4zM236.5 420.6h5.4v5.4h-5.4zM136.5 470.6h5.4v5.4h-5.4zM86.5 490.6h5.4v5.4h-5.4z"/><path fill="#f8a6a6" d="M41.5 345.6h5.4v5.4h-5.4zM211.5 400.6h10.4v5.4h-10.4zM286.5 400.6h5.4v5.4h-5.4zM266.5 450.6h5.4v5.4h-5.4zM266.5 455.6h5.4v5.4h-5.4zM251.5 465.6h5.4v5.4h-5.4zM266.5 470.6h5.4v5.4h-5.4zM51.5 500.6h5.4v5.4h-5.4z"/><path fill="#f8abab" d="M46.5 345.6h5.4v5.4h-5.4z"/><path fill="#f9b4b4" d="M51.5 345.6h5.4v5.4h-5.4zM36.5 350.6h5.4v5.4h-5.4z"/><path fill="#fffafa" d="M56.5 345.6h5.4v5.4h-5.4zM241.5 360.6h5.4v5.4h-5.4zM46.5 365.6h5.4v5.4h-5.4zM246.5 385.6h5.4v5.4h-5.4zM261.5 385.6h5.4v5.4h-5.4zM51.5 460.6h5.4v5.4h-5.4z"/><path fill="#6561ee" d="M66.5 345.6h5.4v5.4h-5.4zM71.5 350.6h5.4v5.4h-5.4z"/><path fill="#918ff3" d="M71.5 345.6h5.4v5.4h-5.4zM141.5 360.6h5.4v5.4h-5.4zM176.5 435.6h5.4v5.4h-5.4z"/><path fill="#c4c3f9" d="M76.5 345.6h5.4v5.4h-5.4zM56.5 355.6h5.4v5.4h-5.4zM31.5 405.6h5.4v5.4h-5.4zM41.5 415.6h5.4v5.4h-5.4zM186.5 430.6h5.4v5.4h-5.4zM101.5 440.6h5.4v5.4h-5.4zM176.5 450.6h5.4v5.4h-5.4zM81.5 460.6h5.4v5.4h-5.4z"/><path fill="#fefeff" d="M81.5 345.6h5.4v5.4h-5.4zM236.5 360.6h5.4v5.4h-5.4zM251.5 385.6h10.4v5.4h-10.4zM76.5 455.6h5.4v5.4h-5.4z"/><path fill="#fcd6d6" d="M91.5 345.6h5.4v5.4h-5.4zM296.5 355.6h5.4v5.4h-5.4zM276.5 365.6h5.4v5.4h-5.4zM311.5 405.6h5.4v5.4h-5.4zM206.5 430.6h5.4v5.4h-5.4zM241.5 430.6h5.4v5.4h-5.4zM256.5 500.6h5.4v5.4h-5.4z"/><path fill="#fde3e3" d="M101.5 345.6h5.4v5.4h-5.4zM241.5 385.6h5.4v5.4h-5.4zM236.5 390.6h5.4v5.4h-5.4z"/><path fill="#fde4e4" d="M106.5 345.6h5.4v5.4h-5.4zM126.5 345.6h5.4v5.4h-5.4zM261.5 355.6h5.4v5.4h-5.4zM231.5 395.6h5.4v5.4h-5.4zM316.5 400.6h5.4v5.4h-5.4zM261.5 440.6h5.4v5.4h-5.4zM291.5 440.6h5.4v5.4h-5.4zM281.5 450.6h5.4v5.4h-5.4zM226.5 465.6h5.4v5.4h-5.4zM96.5 475.6h5.4v5.4h-5.4zM286.5 480.6h5.4v5.4h-5.4zM46.5 485.6h5.4v5.4h-5.4zM246.5 490.6h5.4v5.4h-5.4zM246.5 500.6h5.4v5.4h-5.4z"/><path fill="#fffbfb" d="M131.5 345.6h5.4v5.4h-5.4zM256.5 355.6h5.4v5.4h-5.4zM26.5 380.6h5.4v5.4h-5.4zM231.5 400.6h5.4v5.4h-5.4zM256.5 440.6h5.4v5.4h-5.4zM221.5 445.6h5.4v5.4h-5.4zM286.5 475.6h5.4v5.4h-5.4zM51.5 485.6h5.4v5.4h-5.4z"/><path fill="#f2f2fe" d="M141.5 345.6h5.4v5.4h-5.4zM251.5 435.6h5.4v5.4h-5.4zM326.5 435.6h5.4v5.4h-5.4zM311.5 440.6h5.4v5.4h-5.4zM301.5 445.6h5.4v5.4h-5.4zM291.5 450.6h5.4v5.4h-5.4zM151.5 465.6h5.4v5.4h-5.4z"/><path fill="#a9a7f6" d="M176.5 345.6h10.4v5.4h-10.4zM146.5 355.6h10.4v5.4h-10.4zM41.5 380.6h5.4v5.4h-5.4zM31.5 420.6h5.4v5.4h-5.4zM181.5 430.6h5.4v5.4h-5.4z"/><path fill="#6865ef" d="M216.5 345.6h5.4v5.4h-5.4zM221.5 350.6h5.4v5.4h-5.4zM91.5 400.6h5.4v5.4h-5.4zM71.5 405.6h5.4v5.4h-5.4zM151.5 445.6h5.4v5.4h-5.4z"/><path fill="#5f5cee" d="M221.5 345.6h5.4v5.4h-5.4zM216.5 350.6h5.4v5.4h-5.4zM81.5 390.6h5.4v5.4h-5.4zM76.5 405.6h5.4v5.4h-5.4zM1.5 425.6h25.4v5.4h-25.4z"/><path fill="#908df3" d="M256.5 345.6h5.4v5.4h-5.4zM256.5 400.6h5.4v5.4h-5.4z"/><path fill="#c2c1f8" d="M261.5 345.6h5.4v5.4h-5.4zM116.5 385.6h5.4v5.4h-5.4zM121.5 390.6h5.4v5.4h-5.4zM56.5 410.6h5.4v5.4h-5.4zM36.5 415.6h5.4v5.4h-5.4zM76.5 415.6h5.4v5.4h-5.4zM41.5 420.6h5.4v5.4h-5.4zM81.5 420.6h5.4v5.4h-5.4zM171.5 455.6h5.4v5.4h-5.4zM301.5 455.6h5.4v5.4h-5.4zM166.5 460.6h5.4v5.4h-5.4zM296.5 460.6h5.4v5.4h-5.4zM296.5 465.6h5.4v5.4h-5.4zM321.5 465.6h5.4v5.4h-5.4zM301.5 470.6h5.4v5.4h-5.4zM316.5 470.6h5.4v5.4h-5.4z"/><path fill="#ededfd" d="M266.5 345.6h5.4v5.4h-5.4zM96.5 360.6h5.4v5.4h-5.4zM31.5 380.6h5.4v5.4h-5.4zM266.5 390.6h5.4v5.4h-5.4zM256.5 435.6h5.4v5.4h-5.4zM291.5 475.6h5.4v5.4h-5.4zM26.5 490.6h5.4v5.4h-5.4zM26.5 495.6h5.4v5.4h-5.4zM291.5 495.6h5.4v5.4h-5.4zM286.5 500.6h5.4v5.4h-5.4z"/><path fill="#fdecec" d="M271.5 345.6h5.4v5.4h-5.4zM106.5 350.6h5.4v5.4h-5.4zM266.5 350.6h5.4v5.4h-5.4zM266.5 385.6h5.4v5.4h-5.4zM271.5 390.6h5.4v5.4h-5.4zM316.5 395.6h5.4v5.4h-5.4zM321.5 400.6h5.4v5.4h-5.4zM231.5 410.6h5.4v5.4h-5.4zM206.5 460.6h5.4v5.4h-5.4zM26.5 485.6h5.4v5.4h-5.4zM31.5 490.6h5.4v5.4h-5.4zM31.5 495.6h5.4v5.4h-5.4zM246.5 495.6h5.4v5.4h-5.4zM286.5 495.6h5.4v5.4h-5.4zM26.5 500.6h5.4v5.4h-5.4z"/><path fill="#fce0e0" d="M321.5 345.6h5.4v5.4h-5.4zM336.5 345.6h25.4v5.4h-25.4zM316.5 350.6h5.4v5.4h-5.4zM336.5 350.6h25.4v5.4h-25.4zM251.5 360.6h5.4v5.4h-5.4zM331.5 375.6h5.4v5.4h-5.4zM326.5 380.6h5.4v5.4h-5.4zM316.5 405.6h10.4v5.4h-10.4zM316.5 410.6h10.4v5.4h-10.4zM316.5 415.6h10.4v5.4h-10.4zM316.5 420.6h10.4v5.4h-10.4zM266.5 430.6h5.4v5.4h-5.4zM196.5 455.6h10.4v5.4h-10.4zM196.5 460.6h10.4v5.4h-10.4zM196.5 465.6h10.4v5.4h-10.4zM196.5 470.6h10.4v5.4h-10.4zM166.5 475.6h10.4v5.4h-10.4zM196.5 475.6h20.4v5.4h-20.4zM166.5 480.6h10.4v5.4h-10.4zM196.5 480.6h20.4v5.4h-20.4zM206.5 485.6h10.4v5.4h-10.4zM206.5 490.6h10.4v5.4h-10.4zM206.5 495.6h10.4v5.4h-10.4zM206.5 500.6h10.4v5.4h-10.4zM176.5 505.6h30.4v5.4h-30.4zM246.5 505.6h20.4v5.4h-20.4zM176.5 510.6h30.4v5.4h-30.4zM246.5 510.6h20.4v5.4h-20.4zM176.5 515.6h30.4v5.4h-30.4zM246.5 515.6h20.4v5.4h-20.4zM176.5 520.6h30.4v5.4h-30.4zM246.5 520.6h20.4v5.4h-20.4zM176.5 525.6h30.4v5.4h-30.4zM246.5 525.6h20.4v5.4h-20.4zM176.5 530.6h30.4v5.4h-30.4zM246.5 530.6h20.4v5.4h-20.4zM176.5 535.6h30.4v5.4h-30.4zM246.5 535.6h20.4v5.4h-20.4z"/><path fill="#fabfbf" d="M26.5 350.6h5.4v5.4h-5.4zM206.5 395.6h5.4v5.4h-5.4zM221.5 395.6h5.4v5.4h-5.4zM291.5 395.6h5.4v5.4h-5.4zM271.5 445.6h5.4v5.4h-5.4zM271.5 460.6h5.4v5.4h-5.4zM271.5 465.6h5.4v5.4h-5.4zM246.5 470.6h5.4v5.4h-5.4zM46.5 495.6h5.4v5.4h-5.4z"/><path fill="#f8aeae" d="M41.5 350.6h5.4v5.4h-5.4zM301.5 360.6h5.4v5.4h-5.4zM281.5 370.6h5.4v5.4h-5.4zM271.5 410.6h5.4v5.4h-5.4zM306.5 410.6h5.4v5.4h-5.4zM211.5 425.6h5.4v5.4h-5.4zM136.5 465.6h5.4v5.4h-5.4zM261.5 495.6h5.4v5.4h-5.4z"/><path fill="#f9b9b9" d="M46.5 350.6h5.4v5.4h-5.4zM236.5 385.6h5.4v5.4h-5.4zM211.5 395.6h10.4v5.4h-10.4zM286.5 395.6h5.4v5.4h-5.4zM206.5 400.6h5.4v5.4h-5.4zM221.5 400.6h5.4v5.4h-5.4zM291.5 400.6h5.4v5.4h-5.4zM266.5 445.6h5.4v5.4h-5.4zM271.5 450.6h5.4v5.4h-5.4zM271.5 455.6h5.4v5.4h-5.4zM266.5 460.6h5.4v5.4h-5.4zM246.5 465.6h5.4v5.4h-5.4zM266.5 465.6h5.4v5.4h-5.4zM251.5 470.6h5.4v5.4h-5.4zM271.5 470.6h5.4v5.4h-5.4zM51.5 495.6h5.4v5.4h-5.4zM46.5 500.6h5.4v5.4h-5.4z"/><path fill="#fcd7d7" d="M51.5 350.6h5.4v5.4h-5.4zM76.5 450.6h5.4v5.4h-5.4zM276.5 460.6h5.4v5.4h-5.4zM276.5 465.6h5.4v5.4h-5.4zM221.5 470.6h5.4v5.4h-5.4zM91.5 480.6h5.4v5.4h-5.4zM236.5 485.6h5.4v5.4h-5.4zM56.5 490.6h5.4v5.4h-5.4z"/><path fill="#e3e2fc" d="M56.5 350.6h5.4v5.4h-5.4zM211.5 370.6h5.4v5.4h-5.4zM111.5 450.6h5.4v5.4h-5.4z"/><path fill="#7a77f1" d="M61.5 350.6h5.4v5.4h-5.4z"/><path fill="#504cec" d="M66.5 350.6h5.4v5.4h-5.4z"/><path fill="#c3c1f8" d="M81.5 350.6h5.4v5.4h-5.4zM96.5 425.6h5.4v5.4h-5.4z"/><path fill="#f4f3fe" d="M86.5 350.6h5.4v5.4h-5.4zM101.5 365.6h5.4v5.4h-5.4z"/><path fill="#fffefe" d="M111.5 350.6h5.4v5.4h-5.4zM231.5 405.6h5.4v5.4h-5.4z"/><path fill="#6f6cef" d="M176.5 350.6h10.4v5.4h-10.4zM146.5 360.6h10.4v5.4h-10.4zM56.5 370.6h5.4v5.4h-5.4z"/><path fill="#aeacf6" d="M246.5 350.6h5.4v5.4h-5.4zM156.5 355.6h5.4v5.4h-5.4zM96.5 420.6h5.4v5.4h-5.4z"/><path fill="#b9b7f7" d="M251.5 350.6h5.4v5.4h-5.4zM161.5 355.6h5.4v5.4h-5.4zM181.5 435.6h5.4v5.4h-5.4z"/><path fill="#f4f4fe" d="M261.5 350.6h5.4v5.4h-5.4zM261.5 435.6h5.4v5.4h-5.4zM131.5 450.6h5.4v5.4h-5.4zM291.5 480.6h5.4v5.4h-5.4z"/><path fill="#fbcfcf" d="M326.5 350.6h5.4v5.4h-5.4zM256.5 375.6h5.4v5.4h-5.4zM216.5 380.6h5.4v5.4h-5.4zM156.5 480.6h5.4v5.4h-5.4zM181.5 480.6h10.4v5.4h-10.4zM166.5 490.6h5.4v5.4h-5.4zM196.5 490.6h5.4v5.4h-5.4zM181.5 495.6h5.4v5.4h-5.4zM196.5 495.6h5.4v5.4h-5.4z"/><path fill="#fabebe" d="M36.5 355.6h5.4v5.4h-5.4zM326.5 355.6h5.4v5.4h-5.4zM41.5 360.6h5.4v5.4h-5.4zM331.5 360.6h5.4v5.4h-5.4zM331.5 365.6h5.4v5.4h-5.4zM326.5 370.6h5.4v5.4h-5.4zM231.5 375.6h5.4v5.4h-5.4zM321.5 375.6h5.4v5.4h-5.4zM226.5 380.6h5.4v5.4h-5.4zM316.5 380.6h5.4v5.4h-5.4zM276.5 385.6h5.4v5.4h-5.4zM311.5 385.6h5.4v5.4h-5.4zM281.5 390.6h5.4v5.4h-5.4zM306.5 390.6h5.4v5.4h-5.4zM281.5 395.6h5.4v5.4h-5.4zM276.5 400.6h5.4v5.4h-5.4zM271.5 430.6h5.4v5.4h-5.4zM111.5 465.6h5.4v5.4h-5.4zM106.5 470.6h5.4v5.4h-5.4zM146.5 475.6h5.4v5.4h-5.4zM151.5 480.6h5.4v5.4h-5.4zM156.5 485.6h5.4v5.4h-5.4zM161.5 490.6h5.4v5.4h-5.4zM31.5 505.6h5.4v5.4h-5.4zM26.5 510.6h5.4v5.4h-5.4z"/><path fill="#6a67ef" d="M61.5 355.6h5.4v5.4h-5.4zM81.5 395.6h5.4v5.4h-5.4zM106.5 395.6h5.4v5.4h-5.4zM66.5 400.6h5.4v5.4h-5.4zM136.5 400.6h5.4v5.4h-5.4zM91.5 405.6h5.4v5.4h-5.4zM171.5 430.6h5.4v5.4h-5.4zM156.5 445.6h5.4v5.4h-5.4z"/><path fill="#423eea" d="M66.5 355.6h5.4v5.4h-5.4zM71.5 360.6h5.4v5.4h-5.4zM66.5 385.6h5.4v5.4h-5.4zM131.5 405.6h5.4v5.4h-5.4z"/><path fill="#6461ee" d="M76.5 355.6h5.4v5.4h-5.4zM81.5 360.6h5.4v5.4h-5.4z"/><path fill="#8f8df3" d="M81.5 355.6h5.4v5.4h-5.4z"/><path fill="#c2c0f8" d="M86.5 355.6h5.4v5.4h-5.4z"/><path fill="#fbfbff" d="M91.5 355.6h5.4v5.4h-5.4zM116.5 365.6h5.4v5.4h-5.4zM321.5 395.6h5.4v5.4h-5.4zM266.5 405.6h5.4v5.4h-5.4zM246.5 415.6h5.4v5.4h-5.4zM101.5 460.6h5.4v5.4h-5.4zM211.5 460.6h5.4v5.4h-5.4z"/><path fill="#fde2e2" d="M96.5 355.6h5.4v5.4h-5.4zM101.5 360.6h5.4v5.4h-5.4zM201.5 450.6h5.4v5.4h-5.4zM191.5 470.6h5.4v5.4h-5.4zM206.5 470.6h5.4v5.4h-5.4zM216.5 470.6h5.4v5.4h-5.4zM86.5 480.6h5.4v5.4h-5.4zM206.5 505.6h5.4v5.4h-5.4zM266.5 505.6h5.4v5.4h-5.4z"/><path fill="#fff9f9" d="M136.5 355.6h5.4v5.4h-5.4zM81.5 435.6h5.4v5.4h-5.4zM246.5 435.6h5.4v5.4h-5.4zM311.5 435.6h5.4v5.4h-5.4zM251.5 440.6h5.4v5.4h-5.4zM306.5 440.6h5.4v5.4h-5.4zM291.5 445.6h5.4v5.4h-5.4zM286.5 450.6h5.4v5.4h-5.4zM61.5 460.6h5.4v5.4h-5.4zM221.5 505.6h5.4v5.4h-5.4zM216.5 510.6h5.4v5.4h-5.4z"/><path fill="#c7c6f9" d="M141.5 355.6h5.4v5.4h-5.4zM51.5 365.6h5.4v5.4h-5.4zM116.5 375.6h5.4v5.4h-5.4zM131.5 375.6h5.4v5.4h-5.4zM131.5 390.6h5.4v5.4h-5.4zM86.5 450.6h5.4v5.4h-5.4zM61.5 470.6h5.4v5.4h-5.4zM301.5 500.6h10.4v5.4h-10.4z"/><path fill="#6d6aef" d="M171.5 355.6h5.4v5.4h-5.4zM166.5 360.6h5.4v5.4h-5.4z"/><path fill="#5551ec" d="M186.5 355.6h5.4v5.4h-5.4zM151.5 365.6h5.4v5.4h-5.4zM166.5 365.6h5.4v5.4h-5.4zM51.5 380.6h5.4v5.4h-5.4zM76.5 395.6h5.4v5.4h-5.4zM106.5 425.6h5.4v5.4h-5.4zM111.5 430.6h5.4v5.4h-5.4zM166.5 430.6h5.4v5.4h-5.4z"/><path fill="#5955ed" d="M191.5 355.6h5.4v5.4h-5.4zM186.5 360.6h5.4v5.4h-5.4zM146.5 365.6h5.4v5.4h-5.4zM171.5 365.6h5.4v5.4h-5.4zM151.5 370.6h5.4v5.4h-5.4zM166.5 370.6h5.4v5.4h-5.4z"/><path fill="#7875f0" d="M216.5 355.6h5.4v5.4h-5.4zM51.5 375.6h5.4v5.4h-5.4z"/><path fill="#8885f2" d="M221.5 355.6h5.4v5.4h-5.4z"/><path fill="#9a98f4" d="M226.5 355.6h5.4v5.4h-5.4zM316.5 455.6h5.4v5.4h-5.4zM311.5 460.6h5.4v5.4h-5.4z"/><path fill="#aeadf6" d="M231.5 355.6h5.4v5.4h-5.4z"/><path fill="#c1c0f8" d="M236.5 355.6h5.4v5.4h-5.4zM36.5 390.6h5.4v5.4h-5.4zM251.5 390.6h10.4v5.4h-10.4zM46.5 400.6h5.4v5.4h-5.4zM76.5 460.6h5.4v5.4h-5.4zM41.5 465.6h5.4v5.4h-5.4z"/><path fill="#fbcccc" d="M306.5 355.6h10.4v5.4h-10.4zM311.5 415.6h5.4v5.4h-5.4zM311.5 420.6h5.4v5.4h-5.4zM126.5 455.6h10.4v5.4h-10.4zM76.5 485.6h10.4v5.4h-10.4zM281.5 495.6h5.4v5.4h-5.4zM266.5 500.6h10.4v5.4h-10.4z"/><path fill="#fac7c7" d="M316.5 355.6h5.4v5.4h-5.4zM251.5 365.6h5.4v5.4h-5.4zM261.5 365.6h5.4v5.4h-5.4zM286.5 365.6h5.4v5.4h-5.4zM246.5 370.6h5.4v5.4h-5.4zM256.5 370.6h5.4v5.4h-5.4zM211.5 385.6h5.4v5.4h-5.4zM206.5 390.6h5.4v5.4h-5.4zM206.5 420.6h5.4v5.4h-5.4zM241.5 420.6h5.4v5.4h-5.4zM271.5 440.6h5.4v5.4h-5.4zM241.5 445.6h5.4v5.4h-5.4zM241.5 460.6h5.4v5.4h-5.4zM141.5 470.6h5.4v5.4h-5.4zM86.5 485.6h5.4v5.4h-5.4zM186.5 485.6h5.4v5.4h-5.4zM191.5 490.6h5.4v5.4h-5.4zM41.5 495.6h5.4v5.4h-5.4zM36.5 500.6h5.4v5.4h-5.4z"/><path fill="#f9bbbb" d="M321.5 355.6h5.4v5.4h-5.4zM291.5 365.6h5.4v5.4h-5.4zM206.5 415.6h5.4v5.4h-5.4zM251.5 425.6h5.4v5.4h-5.4zM56.5 430.6h5.4v5.4h-5.4zM76.5 430.6h5.4v5.4h-5.4zM91.5 485.6h5.4v5.4h-5.4z"/><path fill="#fac0c0" d="M36.5 360.6h5.4v5.4h-5.4zM296.5 360.6h5.4v5.4h-5.4zM276.5 370.6h5.4v5.4h-5.4zM306.5 405.6h5.4v5.4h-5.4zM261.5 415.6h5.4v5.4h-5.4zM211.5 430.6h5.4v5.4h-5.4zM256.5 495.6h5.4v5.4h-5.4z"/><path fill="#fcdada" d="M46.5 360.6h5.4v5.4h-5.4zM26.5 470.6h5.4v5.4h-5.4z"/><path fill="#eaeafd" d="M51.5 360.6h5.4v5.4h-5.4zM61.5 420.6h5.4v5.4h-5.4zM141.5 460.6h5.4v5.4h-5.4z"/><path fill="#a8a6f6" d="M56.5 360.6h5.4v5.4h-5.4z"/><path fill="#5b57ed" d="M61.5 360.6h5.4v5.4h-5.4z"/><path fill="#3935e9" d="M66.5 360.6h5.4v5.4h-5.4z"/><path fill="#514dec" d="M76.5 360.6h5.4v5.4h-5.4z"/><path fill="#8886f2" d="M86.5 360.6h5.4v5.4h-5.4zM181.5 380.6h5.4v5.4h-5.4zM91.5 410.6h5.4v5.4h-5.4zM156.5 450.6h5.4v5.4h-5.4z"/><path fill="#bdbbf8" d="M91.5 360.6h5.4v5.4h-5.4zM41.5 460.6h5.4v5.4h-5.4z"/><path fill="#fef5f5" d="M116.5 360.6h5.4v5.4h-5.4zM111.5 365.6h5.4v5.4h-5.4zM326.5 385.6h5.4v5.4h-5.4zM326.5 400.6h5.4v5.4h-5.4zM266.5 435.6h5.4v5.4h-5.4zM191.5 450.6h5.4v5.4h-5.4zM206.5 450.6h5.4v5.4h-5.4zM236.5 450.6h5.4v5.4h-5.4zM236.5 455.6h5.4v5.4h-5.4zM281.5 455.6h5.4v5.4h-5.4zM216.5 465.6h5.4v5.4h-5.4zM161.5 470.6h10.4v5.4h-10.4zM281.5 470.6h5.4v5.4h-5.4zM86.5 475.6h5.4v5.4h-5.4zM61.5 485.6h5.4v5.4h-5.4zM241.5 490.6h5.4v5.4h-5.4zM276.5 505.6h5.4v5.4h-5.4z"/><path fill="#6663ee" d="M191.5 360.6h5.4v5.4h-5.4zM146.5 370.6h5.4v5.4h-5.4zM171.5 370.6h5.4v5.4h-5.4zM81.5 400.6h5.4v5.4h-5.4zM171.5 425.6h5.4v5.4h-5.4z"/><path fill="#b0aff6" d="M216.5 360.6h5.4v5.4h-5.4z"/><path fill="#bfbef8" d="M221.5 360.6h5.4v5.4h-5.4zM191.5 380.6h5.4v5.4h-5.4zM1.5 405.6h25.4v5.4h-25.4zM86.5 420.6h5.4v5.4h-5.4zM161.5 460.6h5.4v5.4h-5.4z"/><path fill="#eeedfd" d="M231.5 360.6h5.4v5.4h-5.4zM236.5 410.6h5.4v5.4h-5.4zM216.5 460.6h5.4v5.4h-5.4z"/><path fill="#f8a5a5" d="M306.5 360.6h10.4v5.4h-10.4zM306.5 415.6h5.4v5.4h-5.4zM306.5 420.6h5.4v5.4h-5.4zM126.5 460.6h10.4v5.4h-10.4zM76.5 490.6h10.4v5.4h-10.4zM266.5 495.6h10.4v5.4h-10.4z"/><path fill="#f8a8a8" d="M326.5 360.6h5.4v5.4h-5.4zM326.5 365.6h5.4v5.4h-5.4zM316.5 375.6h5.4v5.4h-5.4zM231.5 380.6h5.4v5.4h-5.4zM281.5 385.6h5.4v5.4h-5.4zM306.5 385.6h5.4v5.4h-5.4zM281.5 400.6h5.4v5.4h-5.4zM256.5 450.6h5.4v5.4h-5.4zM111.5 470.6h5.4v5.4h-5.4zM146.5 480.6h5.4v5.4h-5.4zM156.5 490.6h5.4v5.4h-5.4zM31.5 510.6h5.4v5.4h-5.4z"/><path fill="#fac8c8" d="M36.5 365.6h5.4v5.4h-5.4z"/><path fill="#8c89f2" d="M56.5 365.6h5.4v5.4h-5.4zM31.5 455.6h5.4v5.4h-5.4z"/><path fill="#524eec" d="M61.5 365.6h5.4v5.4h-5.4z"/><path fill="#3732e9" d="M66.5 365.6h5.4v5.4h-5.4zM71.5 370.6h5.4v5.4h-5.4z"/><path fill="#3c38ea" d="M71.5 365.6h5.4v5.4h-5.4zM66.5 390.6h5.4v5.4h-5.4z"/><path fill="#433feb" d="M76.5 365.6h5.4v5.4h-5.4zM66.5 380.6h5.4v5.4h-5.4zM56.5 385.6h5.4v5.4h-5.4zM61.5 390.6h5.4v5.4h-5.4zM106.5 400.6h5.4v5.4h-5.4zM141.5 420.6h5.4v5.4h-5.4zM161.5 430.6h5.4v5.4h-5.4z"/><path fill="#4b47eb" d="M81.5 365.6h5.4v5.4h-5.4zM91.5 380.6h5.4v5.4h-5.4zM71.5 390.6h5.4v5.4h-5.4z"/><path fill="#6360ee" d="M86.5 365.6h5.4v5.4h-5.4zM91.5 370.6h5.4v5.4h-5.4z"/><path fill="#8a87f2" d="M91.5 365.6h5.4v5.4h-5.4z"/><path fill="#e6e5fc" d="M121.5 365.6h5.4v5.4h-5.4zM26.5 385.6h5.4v5.4h-5.4zM101.5 455.6h5.4v5.4h-5.4zM211.5 455.6h5.4v5.4h-5.4z"/><path fill="#bbbaf8" d="M136.5 365.6h5.4v5.4h-5.4zM36.5 425.6h5.4v5.4h-5.4z"/><path fill="#7b78f1" d="M141.5 365.6h5.4v5.4h-5.4z"/><path fill="#8784f2" d="M196.5 365.6h5.4v5.4h-5.4zM176.5 385.6h5.4v5.4h-5.4zM106.5 390.6h5.4v5.4h-5.4zM251.5 400.6h5.4v5.4h-5.4zM176.5 420.6h5.4v5.4h-5.4zM166.5 445.6h5.4v5.4h-5.4z"/><path fill="#9a97f4" d="M201.5 365.6h5.4v5.4h-5.4zM196.5 370.6h5.4v5.4h-5.4zM106.5 385.6h5.4v5.4h-5.4zM181.5 385.6h5.4v5.4h-5.4zM111.5 390.6h5.4v5.4h-5.4zM176.5 390.6h5.4v5.4h-5.4zM136.5 395.6h5.4v5.4h-5.4zM251.5 395.6h5.4v5.4h-5.4zM246.5 400.6h5.4v5.4h-5.4zM176.5 415.6h5.4v5.4h-5.4zM181.5 420.6h5.4v5.4h-5.4zM171.5 445.6h5.4v5.4h-5.4zM166.5 450.6h5.4v5.4h-5.4z"/><path fill="#c8c6f9" d="M211.5 365.6h5.4v5.4h-5.4zM206.5 370.6h5.4v5.4h-5.4z"/><path fill="#fac4c4" d="M256.5 365.6h5.4v5.4h-5.4zM251.5 370.6h5.4v5.4h-5.4zM241.5 375.6h5.4v5.4h-5.4zM211.5 390.6h5.4v5.4h-5.4zM226.5 390.6h5.4v5.4h-5.4zM186.5 490.6h5.4v5.4h-5.4zM41.5 500.6h5.4v5.4h-5.4z"/><path fill="#f69393" d="M301.5 365.6h5.4v5.4h-5.4zM296.5 370.6h5.4v5.4h-5.4zM311.5 375.6h5.4v5.4h-5.4zM306.5 380.6h5.4v5.4h-5.4zM266.5 425.6h5.4v5.4h-5.4zM141.5 495.6h5.4v5.4h-5.4zM136.5 500.6h5.4v5.4h-5.4z"/><path fill="#f58a8a" d="M306.5 365.6h5.4v5.4h-5.4zM311.5 370.6h5.4v5.4h-5.4zM296.5 375.6h5.4v5.4h-5.4zM301.5 380.6h5.4v5.4h-5.4zM221.5 415.6h5.4v5.4h-5.4zM296.5 415.6h5.4v5.4h-5.4zM216.5 420.6h5.4v5.4h-5.4zM231.5 420.6h5.4v5.4h-5.4zM301.5 420.6h5.4v5.4h-5.4zM81.5 495.6h5.4v5.4h-5.4zM116.5 495.6h5.4v5.4h-5.4zM146.5 495.6h5.4v5.4h-5.4zM76.5 500.6h5.4v5.4h-5.4zM121.5 500.6h5.4v5.4h-5.4zM151.5 500.6h5.4v5.4h-5.4zM61.5 505.6h5.4v5.4h-5.4zM126.5 505.6h5.4v5.4h-5.4zM56.5 510.6h5.4v5.4h-5.4zM131.5 510.6h5.4v5.4h-5.4z"/><path fill="#f68e8e" d="M311.5 365.6h5.4v5.4h-5.4zM296.5 380.6h5.4v5.4h-5.4zM216.5 415.6h5.4v5.4h-5.4zM301.5 415.6h5.4v5.4h-5.4zM261.5 420.6h5.4v5.4h-5.4zM76.5 495.6h5.4v5.4h-5.4zM121.5 495.6h5.4v5.4h-5.4zM151.5 495.6h5.4v5.4h-5.4zM56.5 505.6h5.4v5.4h-5.4zM131.5 505.6h5.4v5.4h-5.4z"/><path fill="#f69494" d="M316.5 365.6h5.4v5.4h-5.4zM216.5 410.6h5.4v5.4h-5.4zM281.5 410.6h10.4v5.4h-10.4zM256.5 455.6h5.4v5.4h-5.4zM121.5 470.6h5.4v5.4h-5.4zM136.5 480.6h5.4v5.4h-5.4zM126.5 485.6h5.4v5.4h-5.4zM141.5 485.6h5.4v5.4h-5.4zM111.5 490.6h5.4v5.4h-5.4zM146.5 490.6h5.4v5.4h-5.4zM71.5 500.6h5.4v5.4h-5.4zM126.5 500.6h5.4v5.4h-5.4zM51.5 510.6h5.4v5.4h-5.4z"/><path fill="#9e9cf4" d="M51.5 370.6h5.4v5.4h-5.4z"/><path fill="#4e4aec" d="M61.5 370.6h5.4v5.4h-5.4zM91.5 375.6h5.4v5.4h-5.4zM76.5 385.6h5.4v5.4h-5.4z"/><path fill="#3b37ea" d="M66.5 370.6h5.4v5.4h-5.4zM71.5 375.6h10.4v5.4h-10.4zM81.5 380.6h5.4v5.4h-5.4zM156.5 420.6h5.4v5.4h-5.4z"/><path fill="#3a36ea" d="M76.5 370.6h5.4v5.4h-5.4z"/><path fill="#4541eb" d="M81.5 370.6h5.4v5.4h-5.4zM76.5 380.6h5.4v5.4h-5.4zM31.5 445.6h5.4v5.4h-5.4zM26.5 450.6h5.4v5.4h-5.4z"/><path fill="#524fec" d="M86.5 370.6h5.4v5.4h-5.4zM121.5 400.6h5.4v5.4h-5.4z"/><path fill="#807ef1" d="M96.5 370.6h5.4v5.4h-5.4zM46.5 380.6h5.4v5.4h-5.4zM176.5 425.6h5.4v5.4h-5.4z"/><path fill="#c7c5f9" d="M106.5 370.6h5.4v5.4h-5.4z"/><path fill="#b5b3f7" d="M136.5 370.6h5.4v5.4h-5.4zM311.5 450.6h5.4v5.4h-5.4zM76.5 465.6h5.4v5.4h-5.4z"/><path fill="#8482f2" d="M141.5 370.6h5.4v5.4h-5.4z"/><path fill="#f57f7f" d="M301.5 370.6h5.4v5.4h-5.4zM306.5 375.6h5.4v5.4h-5.4zM61.5 435.6h5.4v5.4h-5.4zM56.5 455.6h5.4v5.4h-5.4zM141.5 500.6h5.4v5.4h-5.4z"/><path fill="#f47c7c" d="M306.5 370.6h5.4v5.4h-5.4zM301.5 375.6h5.4v5.4h-5.4zM221.5 420.6h10.4v5.4h-10.4zM296.5 420.6h5.4v5.4h-5.4zM66.5 440.6h5.4v5.4h-5.4zM81.5 500.6h5.4v5.4h-5.4zM116.5 500.6h5.4v5.4h-5.4zM146.5 500.6h5.4v5.4h-5.4zM61.5 510.6h5.4v5.4h-5.4zM126.5 510.6h5.4v5.4h-5.4z"/><path fill="#dddcfb" d="M41.5 375.6h5.4v5.4h-5.4zM196.5 380.6h5.4v5.4h-5.4zM191.5 385.6h5.4v5.4h-5.4zM266.5 395.6h5.4v5.4h-5.4zM236.5 400.6h5.4v5.4h-5.4zM191.5 420.6h5.4v5.4h-5.4zM81.5 425.6h5.4v5.4h-5.4zM91.5 425.6h5.4v5.4h-5.4zM86.5 430.6h5.4v5.4h-5.4zM86.5 435.6h5.4v5.4h-5.4zM91.5 440.6h5.4v5.4h-5.4zM296.5 475.6h5.4v5.4h-5.4zM321.5 475.6h5.4v5.4h-5.4zM301.5 480.6h5.4v5.4h-5.4zM316.5 480.6h5.4v5.4h-5.4zM301.5 485.6h10.4v5.4h-10.4zM296.5 490.6h5.4v5.4h-5.4zM311.5 490.6h5.4v5.4h-5.4z"/><path fill="#adabf6" d="M46.5 375.6h5.4v5.4h-5.4zM106.5 440.6h5.4v5.4h-5.4z"/><path fill="#5652ed" d="M56.5 375.6h5.4v5.4h-5.4z"/><path fill="#4844eb" d="M61.5 375.6h5.4v5.4h-5.4zM71.5 380.6h5.4v5.4h-5.4zM76.5 400.6h5.4v5.4h-5.4zM111.5 400.6h5.4v5.4h-5.4zM166.5 425.6h5.4v5.4h-5.4zM131.5 430.6h5.4v5.4h-5.4zM26.5 435.6h5.4v5.4h-5.4zM31.5 440.6h5.4v5.4h-5.4z"/><path fill="#3f3bea" d="M66.5 375.6h5.4v5.4h-5.4zM81.5 375.6h5.4v5.4h-5.4zM61.5 385.6h5.4v5.4h-5.4zM146.5 410.6h5.4v5.4h-5.4zM161.5 420.6h5.4v5.4h-5.4zM136.5 425.6h5.4v5.4h-5.4z"/><path fill="#4642eb" d="M86.5 375.6h5.4v5.4h-5.4zM81.5 385.6h5.4v5.4h-5.4zM101.5 410.6h5.4v5.4h-5.4zM151.5 415.6h5.4v5.4h-5.4zM146.5 420.6h5.4v5.4h-5.4zM126.5 430.6h5.4v5.4h-5.4z"/><path fill="#cbcaf9" d="M121.5 375.6h10.4v5.4h-10.4zM116.5 380.6h5.4v5.4h-5.4zM131.5 380.6h5.4v5.4h-5.4zM131.5 385.6h5.4v5.4h-5.4zM126.5 390.6h5.4v5.4h-5.4zM96.5 430.6h5.4v5.4h-5.4zM86.5 445.6h5.4v5.4h-5.4zM91.5 450.6h5.4v5.4h-5.4zM216.5 455.6h5.4v5.4h-5.4zM61.5 465.6h5.4v5.4h-5.4zM56.5 470.6h5.4v5.4h-5.4zM301.5 495.6h10.4v5.4h-10.4zM296.5 500.6h5.4v5.4h-5.4zM311.5 500.6h5.4v5.4h-5.4z"/><path fill="#7774f0" d="M176.5 375.6h5.4v5.4h-5.4zM111.5 395.6h5.4v5.4h-5.4zM86.5 405.6h5.4v5.4h-5.4zM31.5 435.6h5.4v5.4h-5.4zM161.5 445.6h5.4v5.4h-5.4z"/><path fill="#7b79f1" d="M181.5 375.6h5.4v5.4h-5.4zM176.5 380.6h5.4v5.4h-5.4zM141.5 395.6h5.4v5.4h-5.4z"/><path fill="#8986f2" d="M186.5 375.6h5.4v5.4h-5.4z"/><path fill="#9f9df5" d="M191.5 375.6h5.4v5.4h-5.4zM186.5 380.6h5.4v5.4h-5.4z"/><path fill="#b6b5f7" d="M196.5 375.6h5.4v5.4h-5.4zM186.5 385.6h5.4v5.4h-5.4zM241.5 400.6h5.4v5.4h-5.4zM186.5 420.6h5.4v5.4h-5.4z"/><path fill="#cfcefa" d="M201.5 375.6h5.4v5.4h-5.4zM36.5 380.6h5.4v5.4h-5.4zM186.5 390.6h5.4v5.4h-5.4zM241.5 395.6h5.4v5.4h-5.4zM71.5 415.6h5.4v5.4h-5.4zM186.5 415.6h5.4v5.4h-5.4zM41.5 425.6h5.4v5.4h-5.4z"/><path fill="#f79d9d" d="M281.5 375.6h5.4v5.4h-5.4zM281.5 380.6h5.4v5.4h-5.4zM286.5 385.6h20.4v5.4h-20.4zM211.5 405.6h5.4v5.4h-5.4zM211.5 410.6h5.4v5.4h-5.4zM296.5 410.6h10.4v5.4h-10.4zM71.5 450.6h5.4v5.4h-5.4zM251.5 455.6h5.4v5.4h-5.4zM251.5 460.6h5.4v5.4h-5.4zM111.5 475.6h5.4v5.4h-5.4zM111.5 480.6h5.4v5.4h-5.4zM96.5 490.6h10.4v5.4h-10.4zM156.5 495.6h5.4v5.4h-5.4zM56.5 500.6h10.4v5.4h-10.4zM156.5 500.6h5.4v5.4h-5.4zM36.5 510.6h10.4v5.4h-10.4zM31.5 515.6h5.4v5.4h-5.4zM31.5 520.6h5.4v5.4h-5.4zM31.5 525.6h5.4v5.4h-5.4zM31.5 530.6h5.4v5.4h-5.4zM31.5 535.6h5.4v5.4h-5.4z"/><path fill="#f69191" d="M286.5 375.6h10.4v5.4h-10.4zM286.5 380.6h10.4v5.4h-10.4zM271.5 415.6h5.4v5.4h-5.4zM216.5 425.6h5.4v5.4h-5.4zM126.5 465.6h10.4v5.4h-10.4zM126.5 470.6h10.4v5.4h-10.4zM116.5 475.6h20.4v5.4h-20.4zM266.5 475.6h5.4v5.4h-5.4zM116.5 480.6h20.4v5.4h-20.4zM116.5 485.6h10.4v5.4h-10.4zM116.5 490.6h10.4v5.4h-10.4zM36.5 515.6h20.4v5.4h-20.4zM36.5 520.6h20.4v5.4h-20.4zM36.5 525.6h20.4v5.4h-20.4zM36.5 530.6h20.4v5.4h-20.4zM36.5 535.6h20.4v5.4h-20.4z"/><path fill="#403bea" d="M56.5 380.6h5.4v5.4h-5.4z"/><path fill="#3d39ea" d="M86.5 380.6h5.4v5.4h-5.4zM101.5 405.6h5.4v5.4h-5.4zM146.5 415.6h5.4v5.4h-5.4zM151.5 420.6h5.4v5.4h-5.4z"/><path fill="#f9f8fe" d="M201.5 380.6h5.4v5.4h-5.4zM191.5 390.6h5.4v5.4h-5.4zM236.5 395.6h5.4v5.4h-5.4zM191.5 415.6h5.4v5.4h-5.4zM126.5 450.6h5.4v5.4h-5.4z"/><path fill="#fbcaca" d="M241.5 380.6h5.4v5.4h-5.4zM231.5 390.6h5.4v5.4h-5.4zM246.5 425.6h5.4v5.4h-5.4zM241.5 440.6h5.4v5.4h-5.4zM41.5 445.6h5.4v5.4h-5.4zM246.5 445.6h5.4v5.4h-5.4zM136.5 460.6h5.4v5.4h-5.4z"/><path fill="#b8b6f7" d="M36.5 385.6h5.4v5.4h-5.4zM41.5 390.6h5.4v5.4h-5.4zM261.5 395.6h5.4v5.4h-5.4zM31.5 415.6h5.4v5.4h-5.4zM141.5 455.6h5.4v5.4h-5.4z"/><path fill="#9d9bf4" d="M41.5 385.6h5.4v5.4h-5.4zM31.5 425.6h5.4v5.4h-5.4zM101.5 430.6h5.4v5.4h-5.4zM36.5 440.6h5.4v5.4h-5.4z"/><path fill="#7d7af1" d="M46.5 385.6h5.4v5.4h-5.4z"/><path fill="#5754ed" d="M51.5 385.6h5.4v5.4h-5.4z"/><path fill="#6f6bef" d="M96.5 385.6h5.4v5.4h-5.4zM146.5 385.6h5.4v5.4h-5.4zM151.5 390.6h5.4v5.4h-5.4zM156.5 395.6h5.4v5.4h-5.4zM161.5 400.6h5.4v5.4h-5.4zM166.5 415.6h5.4v5.4h-5.4zM171.5 420.6h5.4v5.4h-5.4z"/><path fill="#8481f2" d="M101.5 385.6h5.4v5.4h-5.4zM96.5 390.6h5.4v5.4h-5.4zM171.5 415.6h5.4v5.4h-5.4z"/><path fill="#d3d2fa" d="M121.5 385.6h5.4v5.4h-5.4zM76.5 420.6h5.4v5.4h-5.4zM136.5 450.6h5.4v5.4h-5.4zM41.5 455.6h5.4v5.4h-5.4zM296.5 455.6h5.4v5.4h-5.4zM171.5 460.6h5.4v5.4h-5.4zM296.5 470.6h5.4v5.4h-5.4zM321.5 470.6h5.4v5.4h-5.4z"/><path fill="#c9c8f9" d="M31.5 390.6h5.4v5.4h-5.4zM251.5 410.6h5.4v5.4h-5.4zM216.5 450.6h5.4v5.4h-5.4zM306.5 450.6h5.4v5.4h-5.4zM146.5 460.6h5.4v5.4h-5.4zM81.5 465.6h5.4v5.4h-5.4z"/><path fill="#605cee" d="M56.5 390.6h5.4v5.4h-5.4z"/><path fill="#adacf6" d="M116.5 390.6h5.4v5.4h-5.4zM81.5 415.6h5.4v5.4h-5.4zM166.5 455.6h5.4v5.4h-5.4zM301.5 460.6h5.4v5.4h-5.4zM301.5 465.6h5.4v5.4h-5.4zM316.5 465.6h5.4v5.4h-5.4z"/><path fill="#f0f0fd" d="M241.5 390.6h5.4v5.4h-5.4z"/><path fill="#efeefd" d="M326.5 390.6h5.4v5.4h-5.4zM326.5 395.6h5.4v5.4h-5.4zM186.5 450.6h5.4v5.4h-5.4zM281.5 505.6h5.4v5.4h-5.4zM231.5 510.6h5.4v5.4h-5.4z"/><path fill="#b9b8f7" d="M46.5 395.6h5.4v5.4h-5.4zM51.5 400.6h5.4v5.4h-5.4zM36.5 435.6h5.4v5.4h-5.4z"/><path fill="#817ef1" d="M56.5 395.6h5.4v5.4h-5.4z"/><path fill="#4945eb" d="M66.5 395.6h5.4v5.4h-5.4zM71.5 400.6h5.4v5.4h-5.4z"/><path fill="#7976f0" d="M86.5 395.6h5.4v5.4h-5.4zM146.5 450.6h5.4v5.4h-5.4z"/><path fill="#9d9af4" d="M256.5 395.6h5.4v5.4h-5.4z"/><path fill="#fef2f2" d="M271.5 395.6h5.4v5.4h-5.4zM246.5 430.6h5.4v5.4h-5.4zM196.5 445.6h5.4v5.4h-5.4zM206.5 445.6h5.4v5.4h-5.4zM46.5 455.6h5.4v5.4h-5.4zM186.5 465.6h5.4v5.4h-5.4zM211.5 465.6h5.4v5.4h-5.4zM221.5 465.6h5.4v5.4h-5.4zM156.5 470.6h5.4v5.4h-5.4zM171.5 470.6h5.4v5.4h-5.4zM91.5 475.6h5.4v5.4h-5.4zM211.5 510.6h5.4v5.4h-5.4zM271.5 510.6h5.4v5.4h-5.4z"/><path fill="#a6a4f5" d="M56.5 400.6h5.4v5.4h-5.4zM71.5 410.6h5.4v5.4h-5.4z"/><path fill="#605dee" d="M141.5 400.6h5.4v5.4h-5.4z"/><path fill="#c1bff8" d="M26.5 405.6h5.4v5.4h-5.4zM31.5 410.6h5.4v5.4h-5.4z"/><path fill="#bcbbf8" d="M56.5 405.6h5.4v5.4h-5.4zM61.5 410.6h5.4v5.4h-5.4z"/><path fill="#a9a8f6" d="M61.5 405.6h5.4v5.4h-5.4z"/><path fill="#7471f0" d="M81.5 405.6h5.4v5.4h-5.4zM26.5 425.6h5.4v5.4h-5.4zM111.5 435.6h5.4v5.4h-5.4z"/><path fill="#2f2ae8" d="M106.5 405.6h5.4v5.4h-5.4z"/><path fill="#2c27e8" d="M111.5 405.6h5.4v5.4h-5.4zM106.5 410.6h5.4v5.4h-5.4zM126.5 425.6h5.4v5.4h-5.4z"/><path fill="#2a26e8" d="M116.5 405.6h10.4v5.4h-10.4zM131.5 415.6h5.4v5.4h-5.4zM131.5 420.6h5.4v5.4h-5.4z"/><path fill="#322ee9" d="M126.5 405.6h5.4v5.4h-5.4zM131.5 410.6h5.4v5.4h-5.4zM136.5 415.6h5.4v5.4h-5.4zM156.5 425.6h5.4v5.4h-5.4z"/><path fill="#4c48ec" d="M146.5 405.6h5.4v5.4h-5.4zM151.5 410.6h5.4v5.4h-5.4zM141.5 425.6h5.4v5.4h-5.4zM136.5 430.6h5.4v5.4h-5.4z"/><path fill="#504dec" d="M151.5 405.6h5.4v5.4h-5.4zM156.5 415.6h5.4v5.4h-5.4zM166.5 420.6h5.4v5.4h-5.4zM141.5 430.6h5.4v5.4h-5.4z"/><path fill="#dad9fb" d="M236.5 405.6h5.4v5.4h-5.4zM241.5 410.6h5.4v5.4h-5.4z"/><path fill="#9795f4" d="M251.5 405.6h5.4v5.4h-5.4zM146.5 455.6h5.4v5.4h-5.4z"/><path fill="#a5a3f5" d="M256.5 405.6h5.4v5.4h-5.4zM26.5 415.6h5.4v5.4h-5.4zM86.5 415.6h5.4v5.4h-5.4zM131.5 445.6h5.4v5.4h-5.4zM161.5 455.6h5.4v5.4h-5.4z"/><path fill="#b7b5f7" d="M26.5 410.6h5.4v5.4h-5.4zM121.5 445.6h5.4v5.4h-5.4z"/><path fill="#b3b1f7" d="M66.5 410.6h5.4v5.4h-5.4zM186.5 425.6h5.4v5.4h-5.4zM101.5 435.6h5.4v5.4h-5.4zM176.5 445.6h5.4v5.4h-5.4z"/><path fill="#9c9af4" d="M76.5 410.6h5.4v5.4h-5.4zM1.5 415.6h25.4v5.4h-25.4z"/><path fill="#9391f3" d="M81.5 410.6h5.4v5.4h-5.4zM106.5 435.6h5.4v5.4h-5.4zM111.5 440.6h5.4v5.4h-5.4z"/><path fill="#8d8af3" d="M86.5 410.6h5.4v5.4h-5.4zM161.5 450.6h5.4v5.4h-5.4z"/><path fill="#231ee7" d="M111.5 410.6h5.4v5.4h-5.4z"/><path fill="#1f1ae7" d="M116.5 410.6h10.4v5.4h-10.4zM126.5 415.6h5.4v5.4h-5.4zM126.5 420.6h5.4v5.4h-5.4z"/><path fill="#2520e7" d="M126.5 410.6h5.4v5.4h-5.4zM111.5 420.6h5.4v5.4h-5.4z"/><path fill="#f9b7b7" d="M226.5 410.6h5.4v5.4h-5.4z"/><path fill="#dcdbfb" d="M256.5 410.6h5.4v5.4h-5.4z"/><path fill="#cac8f9" d="M56.5 415.6h5.4v5.4h-5.4z"/><path fill="#a8a7f6" d="M91.5 415.6h5.4v5.4h-5.4zM156.5 455.6h5.4v5.4h-5.4z"/><path fill="#8e8bf3" d="M96.5 415.6h5.4v5.4h-5.4z"/><path fill="#5551ed" d="M101.5 415.6h5.4v5.4h-5.4z"/><path fill="#312ce9" d="M106.5 415.6h5.4v5.4h-5.4z"/><path fill="#211ce7" d="M111.5 415.6h5.4v5.4h-5.4z"/><path fill="#1914e6" d="M116.5 415.6h10.4v5.4h-10.4zM116.5 420.6h10.4v5.4h-10.4z"/><path fill="#3632e9" d="M141.5 415.6h5.4v5.4h-5.4zM136.5 420.6h5.4v5.4h-5.4zM111.5 425.6h5.4v5.4h-5.4zM161.5 425.6h5.4v5.4h-5.4zM156.5 430.6h5.4v5.4h-5.4z"/><path fill="#fde5e5" d="M236.5 415.6h5.4v5.4h-5.4z"/><path fill="#fffcfc" d="M241.5 415.6h5.4v5.4h-5.4zM26.5 465.6h5.4v5.4h-5.4zM31.5 470.6h5.4v5.4h-5.4z"/><path fill="#fde7e7" d="M256.5 415.6h5.4v5.4h-5.4zM311.5 430.6h5.4v5.4h-5.4zM116.5 455.6h5.4v5.4h-5.4zM66.5 485.6h5.4v5.4h-5.4z"/><path fill="#f8a3a3" d="M266.5 415.6h5.4v5.4h-5.4zM216.5 430.6h5.4v5.4h-5.4zM256.5 465.6h5.4v5.4h-5.4zM261.5 470.6h5.4v5.4h-5.4zM271.5 475.6h5.4v5.4h-5.4z"/><path fill="#f58888" d="M276.5 415.6h20.4v5.4h-20.4zM296.5 425.6h5.4v5.4h-5.4zM226.5 435.6h5.4v5.4h-5.4zM261.5 480.6h5.4v5.4h-5.4zM261.5 485.6h5.4v5.4h-5.4zM276.5 485.6h5.4v5.4h-5.4zM266.5 490.6h10.4v5.4h-10.4zM86.5 495.6h30.4v5.4h-30.4zM66.5 505.6h10.4v5.4h-10.4zM136.5 505.6h5.4v5.4h-5.4zM136.5 510.6h5.4v5.4h-5.4zM156.5 510.6h5.4v5.4h-5.4zM56.5 515.6h5.4v5.4h-5.4zM131.5 515.6h10.4v5.4h-10.4zM56.5 520.6h5.4v5.4h-5.4zM131.5 520.6h10.4v5.4h-10.4zM56.5 525.6h5.4v5.4h-5.4zM131.5 525.6h10.4v5.4h-10.4zM56.5 530.6h5.4v5.4h-5.4zM131.5 530.6h10.4v5.4h-10.4zM56.5 535.6h5.4v5.4h-5.4zM131.5 535.6h10.4v5.4h-10.4z"/><path fill="#8c8af3" d="M26.5 420.6h5.4v5.4h-5.4z"/><path fill="#bbb9f8" d="M36.5 420.6h5.4v5.4h-5.4z"/><path fill="#f0effd" d="M66.5 420.6h5.4v5.4h-5.4z"/><path fill="#cac9f9" d="M91.5 420.6h5.4v5.4h-5.4zM156.5 460.6h5.4v5.4h-5.4z"/><path fill="#6b68ef" d="M101.5 420.6h5.4v5.4h-5.4zM1.5 455.6h25.4v5.4h-25.4z"/><path fill="#3e39ea" d="M106.5 420.6h5.4v5.4h-5.4z"/><path fill="#fabdbd" d="M251.5 420.6h5.4v5.4h-5.4zM276.5 475.6h5.4v5.4h-5.4zM281.5 480.6h5.4v5.4h-5.4z"/><path fill="#f47e7e" d="M266.5 420.6h5.4v5.4h-5.4zM221.5 430.6h5.4v5.4h-5.4zM271.5 480.6h5.4v5.4h-5.4z"/><path fill="#f47878" d="M271.5 420.6h5.4v5.4h-5.4zM221.5 425.6h5.4v5.4h-5.4zM266.5 480.6h5.4v5.4h-5.4z"/><path fill="#f47575" d="M276.5 420.6h20.4v5.4h-20.4zM266.5 485.6h10.4v5.4h-10.4zM86.5 500.6h30.4v5.4h-30.4zM141.5 505.6h5.4v5.4h-5.4zM66.5 510.6h10.4v5.4h-10.4zM141.5 510.6h5.4v5.4h-5.4zM61.5 515.6h5.4v5.4h-5.4zM126.5 515.6h5.4v5.4h-5.4zM141.5 515.6h5.4v5.4h-5.4zM61.5 520.6h5.4v5.4h-5.4zM126.5 520.6h5.4v5.4h-5.4zM141.5 520.6h5.4v5.4h-5.4zM61.5 525.6h5.4v5.4h-5.4zM126.5 525.6h5.4v5.4h-5.4zM141.5 525.6h5.4v5.4h-5.4zM61.5 530.6h5.4v5.4h-5.4zM126.5 530.6h5.4v5.4h-5.4zM141.5 530.6h5.4v5.4h-5.4zM61.5 535.6h5.4v5.4h-5.4zM126.5 535.6h5.4v5.4h-5.4zM141.5 535.6h5.4v5.4h-5.4z"/><path fill="#ddddfb" d="M46.5 425.6h5.4v5.4h-5.4z"/><path fill="#f9f9fe" d="M56.5 425.6h5.4v5.4h-5.4z"/><path fill="#fcdfdf" d="M66.5 425.6h5.4v5.4h-5.4zM281.5 475.6h5.4v5.4h-5.4z"/><path fill="#fdebeb" d="M71.5 425.6h5.4v5.4h-5.4z"/><path fill="#8381f2" d="M101.5 425.6h5.4v5.4h-5.4z"/><path fill="#2723e8" d="M116.5 425.6h10.4v5.4h-10.4z"/><path fill="#3430e9" d="M131.5 425.6h5.4v5.4h-5.4z"/><path fill="#f36e6e" d="M226.5 425.6h5.4v5.4h-5.4zM81.5 510.6h5.4v5.4h-5.4zM116.5 510.6h5.4v5.4h-5.4zM146.5 510.6h5.4v5.4h-5.4z"/><path fill="#f47373" d="M231.5 425.6h5.4v5.4h-5.4zM226.5 430.6h5.4v5.4h-5.4zM81.5 505.6h5.4v5.4h-5.4zM116.5 505.6h5.4v5.4h-5.4zM146.5 505.6h5.4v5.4h-5.4zM76.5 510.6h5.4v5.4h-5.4zM121.5 510.6h5.4v5.4h-5.4zM151.5 510.6h5.4v5.4h-5.4z"/><path fill="#f8adad" d="M256.5 425.6h5.4v5.4h-5.4z"/><path fill="#f69696" d="M301.5 425.6h5.4v5.4h-5.4zM231.5 435.6h5.4v5.4h-5.4zM261.5 475.6h5.4v5.4h-5.4zM261.5 490.6h5.4v5.4h-5.4zM276.5 490.6h5.4v5.4h-5.4zM156.5 505.6h5.4v5.4h-5.4z"/><path fill="#f9b0b0" d="M306.5 425.6h5.4v5.4h-5.4zM121.5 460.6h5.4v5.4h-5.4zM71.5 490.6h5.4v5.4h-5.4z"/><path fill="#403cea" d="M1.5 430.6h25.4v5.4h-25.4z"/><path fill="#9491f3" d="M31.5 430.6h5.4v5.4h-5.4z"/><path fill="#ecebfd" d="M41.5 430.6h5.4v5.4h-5.4z"/><path fill="#fbd4d4" d="M51.5 430.6h5.4v5.4h-5.4z"/><path fill="#f79b9b" d="M66.5 430.6h5.4v5.4h-5.4z"/><path fill="#fcfcff" d="M81.5 430.6h5.4v5.4h-5.4z"/><path fill="#4440eb" d="M116.5 430.6h10.4v5.4h-10.4z"/><path fill="#d8d7fb" d="M191.5 430.6h5.4v5.4h-5.4zM96.5 440.6h5.4v5.4h-5.4zM311.5 445.6h5.4v5.4h-5.4zM181.5 450.6h5.4v5.4h-5.4zM81.5 455.6h5.4v5.4h-5.4zM76.5 470.6h5.4v5.4h-5.4z"/><path fill="#fef8f8" d="M251.5 430.6h10.4v5.4h-10.4zM281.5 500.6h5.4v5.4h-5.4z"/><path fill="#f8afaf" d="M296.5 430.6h5.4v5.4h-5.4zM226.5 440.6h5.4v5.4h-5.4zM261.5 465.6h5.4v5.4h-5.4zM256.5 470.6h5.4v5.4h-5.4zM256.5 480.6h5.4v5.4h-5.4zM256.5 485.6h5.4v5.4h-5.4zM281.5 485.6h5.4v5.4h-5.4zM161.5 510.6h5.4v5.4h-5.4z"/><path fill="#f9b3b3" d="M301.5 430.6h5.4v5.4h-5.4zM46.5 435.6h5.4v5.4h-5.4zM76.5 440.6h5.4v5.4h-5.4zM231.5 440.6h5.4v5.4h-5.4zM256.5 475.6h5.4v5.4h-5.4zM256.5 490.6h5.4v5.4h-5.4zM281.5 490.6h5.4v5.4h-5.4zM161.5 505.6h5.4v5.4h-5.4z"/><path fill="#f58585" d="M56.5 435.6h5.4v5.4h-5.4z"/><path fill="#f47a7a" d="M66.5 435.6h5.4v5.4h-5.4z"/><path fill="#f7a1a1" d="M76.5 435.6h5.4v5.4h-5.4zM261.5 450.6h5.4v5.4h-5.4z"/><path fill="#f79797" d="M221.5 435.6h5.4v5.4h-5.4z"/><path fill="#f9b2b2" d="M236.5 435.6h5.4v5.4h-5.4zM251.5 450.6h5.4v5.4h-5.4zM276.5 495.6h5.4v5.4h-5.4z"/><path fill="#3834e9" d="M26.5 440.6h5.4v5.4h-5.4z"/><path fill="#f36b6b" d="M46.5 440.6h5.4v5.4h-5.4z"/><path fill="#f26262" d="M51.5 440.6h5.4v5.4h-5.4z"/><path fill="#f26464" d="M56.5 440.6h5.4v5.4h-5.4z"/><path fill="#f37171" d="M61.5 440.6h5.4v5.4h-5.4z"/><path fill="#f58484" d="M71.5 440.6h5.4v5.4h-5.4z"/><path fill="#f5f5fe" d="M81.5 440.6h5.4v5.4h-5.4zM121.5 450.6h5.4v5.4h-5.4z"/><path fill="#fabcbc" d="M236.5 440.6h5.4v5.4h-5.4zM246.5 450.6h5.4v5.4h-5.4z"/><path fill="#e4e3fc" d="M331.5 440.6h5.4v5.4h-5.4zM296.5 450.6h5.4v5.4h-5.4z"/><path fill="#3733e9" d="M26.5 445.6h5.4v5.4h-5.4z"/><path fill="#9996f4" d="M36.5 445.6h5.4v5.4h-5.4z"/><path fill="#f15454" d="M51.5 445.6h5.4v5.4h-5.4z"/><path fill="#f15050" d="M56.5 445.6h5.4v5.4h-5.4zM61.5 450.6h5.4v5.4h-5.4z"/><path fill="#f26161" d="M61.5 445.6h5.4v5.4h-5.4z"/><path fill="#f69090" d="M71.5 445.6h5.4v5.4h-5.4z"/><path fill="#fac5c5" d="M76.5 445.6h5.4v5.4h-5.4z"/><path fill="#ebeafd" d="M81.5 445.6h5.4v5.4h-5.4zM116.5 450.6h5.4v5.4h-5.4z"/><path fill="#c6c5f9" d="M106.5 445.6h5.4v5.4h-5.4z"/><path fill="#b8b7f7" d="M111.5 445.6h5.4v5.4h-5.4z"/><path fill="#b3b2f7" d="M116.5 445.6h5.4v5.4h-5.4z"/><path fill="#9492f3" d="M136.5 445.6h5.4v5.4h-5.4zM141.5 450.6h5.4v5.4h-5.4zM36.5 460.6h5.4v5.4h-5.4z"/><path fill="#7f7df1" d="M141.5 445.6h5.4v5.4h-5.4z"/><path fill="#e8e8fd" d="M216.5 445.6h5.4v5.4h-5.4zM306.5 445.6h5.4v5.4h-5.4zM81.5 470.6h5.4v5.4h-5.4z"/><path fill="#fac1c1" d="M261.5 445.6h5.4v5.4h-5.4z"/><path fill="#706def" d="M31.5 450.6h5.4v5.4h-5.4z"/><path fill="#acaaf6" d="M36.5 450.6h5.4v5.4h-5.4z"/><path fill="#faf9fe" d="M41.5 450.6h5.4v5.4h-5.4zM231.5 505.6h5.4v5.4h-5.4zM226.5 510.6h5.4v5.4h-5.4z"/><path fill="#f04a4a" d="M56.5 450.6h5.4v5.4h-5.4z"/><path fill="#e5e5fc" d="M81.5 450.6h5.4v5.4h-5.4z"/><path fill="#deddfb" d="M106.5 450.6h5.4v5.4h-5.4z"/><path fill="#c3c2f8" d="M221.5 450.6h5.4v5.4h-5.4zM226.5 455.6h5.4v5.4h-5.4z"/><path fill="#eae9fd" d="M231.5 450.6h5.4v5.4h-5.4z"/><path fill="#aaa8f6" d="M316.5 450.6h45.4v5.4h-45.4zM36.5 465.6h5.4v5.4h-5.4z"/><path fill="#f8a4a4" d="M51.5 455.6h5.4v5.4h-5.4z"/><path fill="#f58383" d="M61.5 455.6h5.4v5.4h-5.4z"/><path fill="#e1e0fc" d="M1.5 460.6h25.4v5.4h-25.4zM41.5 470.6h5.4v5.4h-5.4z"/><path fill="#c9c7f9" d="M26.5 460.6h5.4v5.4h-5.4z"/><path fill="#9896f4" d="M31.5 460.6h5.4v5.4h-5.4z"/><path fill="#e2e1fc" d="M46.5 460.6h5.4v5.4h-5.4z"/><path fill="#efeffd" d="M66.5 460.6h5.4v5.4h-5.4z"/><path fill="#e8e8fc" d="M221.5 460.6h5.4v5.4h-5.4z"/><path fill="#f5f4fe" d="M226.5 460.6h5.4v5.4h-5.4z"/><path fill="#fde9e9" d="M231.5 460.6h5.4v5.4h-5.4zM141.5 465.6h5.4v5.4h-5.4z"/><path fill="#c0bef8" d="M31.5 465.6h5.4v5.4h-5.4z"/><path fill="#bfbdf8" d="M66.5 465.6h5.4v5.4h-5.4z"/><path fill="#b1aff7" d="M71.5 465.6h5.4v5.4h-5.4z"/><path fill="#ececfd" d="M36.5 470.6h5.4v5.4h-5.4z"/><path fill="#f69595" d="M276.5 480.6h5.4v5.4h-5.4z"/></g></g><filter id="blurBp0" x="-50%" y="-50%" width="200%" height="200%"><feGaussianBlur stdDeviation="1.0"/></filter><polygon clip-path="url(#clipB)" points="188.0,335.6 214.0,335.6 210.0,339.5 188.0,340.5" fill="#2723e8" filter="url(#blurBp0)"/><filter id="blurBp1" x="-50%" y="-50%" width="200%" height="200%"><feGaussianBlur stdDeviation="1.5"/></filter><polygon clip-path="url(#clipB)" points="21.5,330.6 31.5,330.6 31.5,347.5 21.5,347.5" fill="#fabcbc" filter="url(#blurBp1)"/><filter id="blurBp2" x="-50%" y="-50%" width="200%" height="200%"><feGaussianBlur stdDeviation="2.2"/></filter><polygon clip-path="url(#clipB)" points="26.0,334.0 31.5,333.0 31.5,345.0 27.0,344.0" fill="#f26666" filter="url(#blurBp2)"/><filter id="blurBp3" x="-50%" y="-50%" width="200%" height="200%"><feGaussianBlur stdDeviation="1.0"/></filter><polygon clip-path="url(#clipB)" points="104.8,330.6 111.0,330.6 110.0,335.4 104.8,335.4" fill="#615dee" filter="url(#blurBp3)"/><filter id="blurBp4" x="-50%" y="-50%" width="200%" height="200%"><feGaussianBlur stdDeviation="0.8"/></filter><polygon clip-path="url(#clipB)" points="86.6,376.4 92.5,376.4 86.6,381.5" fill="#ec1919" filter="url(#blurBp4)"/><filter id="blurBp5" x="-50%" y="-50%" width="200%" height="200%"><feGaussianBlur stdDeviation="1.5"/></filter><polygon clip-path="url(#clipB)" points="86.6,381.5 92.5,376.4 97.0,378.0 99.0,386.0 96.0,398.0 86.6,400.0" fill="#2723e8" filter="url(#blurBp5)"/><filter id="blurBp6" x="-50%" y="-50%" width="200%" height="200%"><feGaussianBlur stdDeviation="1.2"/></filter><polygon clip-path="url(#clipB)" points="77.8,396.6 86.8,396.6 89.0,401.0 85.0,407.0 77.8,408.0" fill="#1914e6" filter="url(#blurBp6)"/><filter id="blurBp7" x="-50%" y="-50%" width="200%" height="200%"><feGaussianBlur stdDeviation="2.0"/></filter><polygon clip-path="url(#clipB)" points="68.8,407.0 78.0,407.0 80.0,412.0 76.0,418.0 68.8,418.0" fill="#9a98f4" filter="url(#blurBp7)"/><filter id="blurBp8" x="-50%" y="-50%" width="200%" height="200%"><feGaussianBlur stdDeviation="1.2"/></filter><polygon clip-path="url(#clipB)" points="77.8,430.6 82.0,430.6 84.7,436.0 83.0,447.9 77.8,447.9" fill="#ee2929" filter="url(#blurBp8)"/><filter id="blurBp9" x="-50%" y="-50%" width="200%" height="200%"><feGaussianBlur stdDeviation="1.2"/></filter><polygon clip-path="url(#clipB)" points="59.1,447.9 77.8,447.9 74.0,452.0 68.0,456.9 59.1,456.9" fill="#ec1919" filter="url(#blurBp9)"/><filter id="blurBp10" x="-50%" y="-50%" width="200%" height="200%"><feGaussianBlur stdDeviation="1.0"/></filter><polygon clip-path="url(#clipB)" points="21.5,447.9 31.4,447.9 31.4,457.6 21.5,457.6" fill="#2723e8" filter="url(#blurBp10)"/><filter id="blurBp11" x="-50%" y="-50%" width="200%" height="200%"><feGaussianBlur stdDeviation="1.5"/></filter><polygon clip-path="url(#clipB)" points="31.4,457.6 45.5,457.6 42.0,465.0 35.0,466.0 31.4,462.0" fill="#615dee" filter="url(#blurBp11)"/><filter id="blurBp12" x="-50%" y="-50%" width="200%" height="200%"><feGaussianBlur stdDeviation="1.5"/></filter><polygon clip-path="url(#clipB)" points="45.5,457.6 59.1,457.6 57.0,462.0 47.0,464.0" fill="#f15757" filter="url(#blurBp12)"/><g clip-path="url(#clipB)" fill="#fff"><polygon points="31.5,330.6 105.0,330.6 105.0,336.0 113.8,336.0 113.8,358.0 105.0,358.0 105.0,376.4 86.8,376.4 86.8,396.6 77.8,396.6 77.8,407.0 68.8,407.0 68.8,416.7 77.8,416.7 77.8,447.9 59.1,447.9 59.1,457.6 31.4,457.6 31.4,447.9 21.5,447.9 21.5,347.5 31.5,347.5"/><polygon points="188.0,330.6 226.0,330.6 226.0,335.5 188.0,335.5"/></g><g clip-path="url(#clipB)" fill="#000"><circle cx="34.8" cy="333.2" r="1.25"/><circle cx="105.9" cy="333.2" r="1.25"/><circle cx="145.4" cy="333.2" r="1.25"/><circle cx="153.3" cy="333.2" r="1.25"/><circle cx="177.1" cy="333.2" r="1.25"/><circle cx="184.9" cy="333.2" r="1.25"/><circle cx="30.9" cy="337.5" r="1.25"/><circle cx="102.0" cy="337.5" r="1.25"/><circle cx="109.9" cy="337.5" r="1.25"/><circle cx="149.4" cy="337.5" r="1.25"/><circle cx="181.0" cy="337.5" r="1.25"/><circle cx="188.9" cy="337.5" r="1.25"/><circle cx="224.4" cy="341.9" r="1.25"/><circle cx="232.4" cy="341.9" r="1.25"/><circle cx="240.2" cy="341.9" r="1.25"/><circle cx="248.2" cy="341.9" r="1.25"/><circle cx="256.1" cy="341.9" r="1.25"/><circle cx="263.9" cy="341.9" r="1.25"/><circle cx="228.4" cy="346.2" r="1.25"/><circle cx="236.3" cy="346.2" r="1.25"/><circle cx="244.2" cy="346.2" r="1.25"/><circle cx="252.1" cy="346.2" r="1.25"/><circle cx="260.0" cy="346.2" r="1.25"/><circle cx="224.4" cy="350.6" r="1.25"/><circle cx="232.4" cy="350.6" r="1.25"/><circle cx="240.2" cy="350.6" r="1.25"/><circle cx="248.2" cy="350.6" r="1.25"/><circle cx="256.1" cy="350.6" r="1.25"/><circle cx="263.9" cy="350.6" r="1.25"/><circle cx="173.1" cy="354.9" r="1.25"/><circle cx="181.0" cy="354.9" r="1.25"/><circle cx="188.9" cy="354.9" r="1.25"/><circle cx="196.8" cy="354.9" r="1.25"/><circle cx="204.7" cy="354.9" r="1.25"/><circle cx="212.6" cy="354.9" r="1.25"/><circle cx="220.5" cy="354.9" r="1.25"/><circle cx="228.4" cy="354.9" r="1.25"/><circle cx="236.3" cy="354.9" r="1.25"/><circle cx="244.2" cy="354.9" r="1.25"/><circle cx="169.2" cy="359.2" r="1.25"/><circle cx="177.1" cy="359.2" r="1.25"/><circle cx="184.9" cy="359.2" r="1.25"/><circle cx="192.8" cy="359.2" r="1.25"/><circle cx="200.8" cy="359.2" r="1.25"/><circle cx="208.7" cy="359.2" r="1.25"/><circle cx="216.6" cy="359.2" r="1.25"/><circle cx="224.4" cy="359.2" r="1.25"/><circle cx="232.4" cy="359.2" r="1.25"/><circle cx="240.2" cy="359.2" r="1.25"/><circle cx="141.5" cy="363.6" r="1.25"/><circle cx="149.4" cy="363.6" r="1.25"/><circle cx="157.3" cy="363.6" r="1.25"/><circle cx="165.2" cy="363.6" r="1.25"/><circle cx="173.1" cy="363.6" r="1.25"/><circle cx="181.0" cy="363.6" r="1.25"/><circle cx="188.9" cy="363.6" r="1.25"/><circle cx="196.8" cy="363.6" r="1.25"/><circle cx="204.7" cy="363.6" r="1.25"/><circle cx="212.6" cy="363.6" r="1.25"/><circle cx="307.4" cy="363.6" r="1.25"/><circle cx="315.3" cy="363.6" r="1.25"/><circle cx="323.2" cy="363.6" r="1.25"/><circle cx="145.4" cy="367.9" r="1.25"/><circle cx="153.3" cy="367.9" r="1.25"/><circle cx="161.2" cy="367.9" r="1.25"/><circle cx="169.2" cy="367.9" r="1.25"/><circle cx="177.1" cy="367.9" r="1.25"/><circle cx="184.9" cy="367.9" r="1.25"/><circle cx="192.8" cy="367.9" r="1.25"/><circle cx="200.8" cy="367.9" r="1.25"/><circle cx="208.7" cy="367.9" r="1.25"/><circle cx="311.4" cy="367.9" r="1.25"/><circle cx="319.2" cy="367.9" r="1.25"/><circle cx="327.1" cy="367.9" r="1.25"/><circle cx="157.3" cy="372.3" r="1.25"/><circle cx="165.2" cy="372.3" r="1.25"/><circle cx="173.1" cy="372.3" r="1.25"/><circle cx="181.0" cy="372.3" r="1.25"/><circle cx="188.9" cy="372.3" r="1.25"/><circle cx="196.8" cy="372.3" r="1.25"/><circle cx="204.7" cy="372.3" r="1.25"/><circle cx="283.7" cy="372.3" r="1.25"/><circle cx="291.6" cy="372.3" r="1.25"/><circle cx="299.5" cy="372.3" r="1.25"/><circle cx="307.4" cy="372.3" r="1.25"/><circle cx="315.3" cy="372.3" r="1.25"/><circle cx="161.2" cy="376.6" r="1.25"/><circle cx="169.2" cy="376.6" r="1.25"/><circle cx="177.1" cy="376.6" r="1.25"/><circle cx="184.9" cy="376.6" r="1.25"/><circle cx="192.8" cy="376.6" r="1.25"/><circle cx="200.8" cy="376.6" r="1.25"/><circle cx="208.7" cy="376.6" r="1.25"/><circle cx="279.8" cy="376.6" r="1.25"/><circle cx="287.6" cy="376.6" r="1.25"/><circle cx="295.6" cy="376.6" r="1.25"/><circle cx="303.5" cy="376.6" r="1.25"/><circle cx="311.4" cy="376.6" r="1.25"/><circle cx="157.3" cy="380.9" r="1.25"/><circle cx="165.2" cy="380.9" r="1.25"/><circle cx="173.1" cy="380.9" r="1.25"/><circle cx="181.0" cy="380.9" r="1.25"/><circle cx="188.9" cy="380.9" r="1.25"/><circle cx="196.8" cy="380.9" r="1.25"/><circle cx="204.7" cy="380.9" r="1.25"/><circle cx="283.7" cy="380.9" r="1.25"/><circle cx="291.6" cy="380.9" r="1.25"/><circle cx="299.5" cy="380.9" r="1.25"/><circle cx="307.4" cy="380.9" r="1.25"/><circle cx="161.2" cy="385.3" r="1.25"/><circle cx="169.2" cy="385.3" r="1.25"/><circle cx="177.1" cy="385.3" r="1.25"/><circle cx="232.4" cy="385.3" r="1.25"/><circle cx="295.6" cy="385.3" r="1.25"/><circle cx="303.5" cy="385.3" r="1.25"/><circle cx="157.3" cy="389.6" r="1.25"/><circle cx="165.2" cy="389.6" r="1.25"/><circle cx="173.1" cy="389.6" r="1.25"/><circle cx="181.0" cy="389.6" r="1.25"/><circle cx="236.3" cy="389.6" r="1.25"/><circle cx="299.5" cy="389.6" r="1.25"/><circle cx="105.9" cy="394.0" r="1.25"/><circle cx="153.3" cy="394.0" r="1.25"/><circle cx="161.2" cy="394.0" r="1.25"/><circle cx="169.2" cy="394.0" r="1.25"/><circle cx="200.8" cy="394.0" r="1.25"/><circle cx="256.1" cy="394.0" r="1.25"/><circle cx="263.9" cy="394.0" r="1.25"/><circle cx="102.0" cy="398.3" r="1.25"/><circle cx="109.9" cy="398.3" r="1.25"/><circle cx="149.4" cy="398.3" r="1.25"/><circle cx="157.3" cy="398.3" r="1.25"/><circle cx="165.2" cy="398.3" r="1.25"/><circle cx="173.1" cy="398.3" r="1.25"/><circle cx="196.8" cy="398.3" r="1.25"/><circle cx="252.1" cy="398.3" r="1.25"/><circle cx="260.0" cy="398.3" r="1.25"/><circle cx="98.0" cy="402.6" r="1.25"/><circle cx="105.9" cy="402.6" r="1.25"/><circle cx="113.8" cy="402.6" r="1.25"/><circle cx="121.8" cy="402.6" r="1.25"/><circle cx="129.7" cy="402.6" r="1.25"/><circle cx="137.6" cy="402.6" r="1.25"/><circle cx="145.4" cy="402.6" r="1.25"/><circle cx="153.3" cy="402.6" r="1.25"/><circle cx="161.2" cy="402.6" r="1.25"/><circle cx="169.2" cy="402.6" r="1.25"/><circle cx="256.1" cy="402.6" r="1.25"/><circle cx="94.1" cy="407.0" r="1.25"/><circle cx="102.0" cy="407.0" r="1.25"/><circle cx="109.9" cy="407.0" r="1.25"/><circle cx="117.8" cy="407.0" r="1.25"/><circle cx="125.7" cy="407.0" r="1.25"/><circle cx="133.6" cy="407.0" r="1.25"/><circle cx="141.5" cy="407.0" r="1.25"/><circle cx="149.4" cy="407.0" r="1.25"/><circle cx="157.3" cy="407.0" r="1.25"/><circle cx="165.2" cy="407.0" r="1.25"/><circle cx="173.1" cy="407.0" r="1.25"/><circle cx="98.0" cy="411.3" r="1.25"/><circle cx="105.9" cy="411.3" r="1.25"/><circle cx="113.8" cy="411.3" r="1.25"/><circle cx="121.8" cy="411.3" r="1.25"/><circle cx="129.7" cy="411.3" r="1.25"/><circle cx="137.6" cy="411.3" r="1.25"/><circle cx="145.4" cy="411.3" r="1.25"/><circle cx="153.3" cy="411.3" r="1.25"/><circle cx="161.2" cy="411.3" r="1.25"/><circle cx="169.2" cy="411.3" r="1.25"/><circle cx="102.0" cy="415.7" r="1.25"/><circle cx="109.9" cy="415.7" r="1.25"/><circle cx="117.8" cy="415.7" r="1.25"/><circle cx="125.7" cy="415.7" r="1.25"/><circle cx="133.6" cy="415.7" r="1.25"/><circle cx="141.5" cy="415.7" r="1.25"/><circle cx="149.4" cy="415.7" r="1.25"/><circle cx="157.3" cy="415.7" r="1.25"/><circle cx="165.2" cy="415.7" r="1.25"/><circle cx="173.1" cy="415.7" r="1.25"/><circle cx="267.9" cy="415.7" r="1.25"/><circle cx="275.8" cy="415.7" r="1.25"/><circle cx="283.7" cy="415.7" r="1.25"/><circle cx="291.6" cy="415.7" r="1.25"/><circle cx="299.5" cy="415.7" r="1.25"/><circle cx="307.4" cy="415.7" r="1.25"/><circle cx="105.9" cy="420.0" r="1.25"/><circle cx="113.8" cy="420.0" r="1.25"/><circle cx="121.8" cy="420.0" r="1.25"/><circle cx="129.7" cy="420.0" r="1.25"/><circle cx="137.6" cy="420.0" r="1.25"/><circle cx="145.4" cy="420.0" r="1.25"/><circle cx="153.3" cy="420.0" r="1.25"/><circle cx="161.2" cy="420.0" r="1.25"/><circle cx="169.2" cy="420.0" r="1.25"/><circle cx="271.9" cy="420.0" r="1.25"/><circle cx="279.8" cy="420.0" r="1.25"/><circle cx="287.6" cy="420.0" r="1.25"/><circle cx="295.6" cy="420.0" r="1.25"/><circle cx="303.5" cy="420.0" r="1.25"/><circle cx="311.4" cy="420.0" r="1.25"/><circle cx="109.9" cy="424.3" r="1.25"/><circle cx="117.8" cy="424.3" r="1.25"/><circle cx="125.7" cy="424.3" r="1.25"/><circle cx="133.6" cy="424.3" r="1.25"/><circle cx="141.5" cy="424.3" r="1.25"/><circle cx="149.4" cy="424.3" r="1.25"/><circle cx="157.3" cy="424.3" r="1.25"/><circle cx="165.2" cy="424.3" r="1.25"/><circle cx="173.1" cy="424.3" r="1.25"/><circle cx="181.0" cy="424.3" r="1.25"/><circle cx="212.6" cy="424.3" r="1.25"/><circle cx="220.5" cy="424.3" r="1.25"/><circle cx="228.4" cy="424.3" r="1.25"/><circle cx="236.3" cy="424.3" r="1.25"/><circle cx="113.8" cy="428.7" r="1.25"/><circle cx="121.8" cy="428.7" r="1.25"/><circle cx="129.7" cy="428.7" r="1.25"/><circle cx="137.6" cy="428.7" r="1.25"/><circle cx="145.4" cy="428.7" r="1.25"/><circle cx="153.3" cy="428.7" r="1.25"/><circle cx="161.2" cy="428.7" r="1.25"/><circle cx="169.2" cy="428.7" r="1.25"/><circle cx="216.6" cy="428.7" r="1.25"/><circle cx="224.4" cy="428.7" r="1.25"/><circle cx="232.4" cy="428.7" r="1.25"/><circle cx="117.8" cy="433.0" r="1.25"/><circle cx="125.7" cy="433.0" r="1.25"/><circle cx="133.6" cy="433.0" r="1.25"/><circle cx="141.5" cy="433.0" r="1.25"/><circle cx="149.4" cy="433.0" r="1.25"/><circle cx="157.3" cy="433.0" r="1.25"/><circle cx="165.2" cy="433.0" r="1.25"/><circle cx="173.1" cy="433.0" r="1.25"/><circle cx="181.0" cy="433.0" r="1.25"/><circle cx="220.5" cy="433.0" r="1.25"/><circle cx="228.4" cy="433.0" r="1.25"/><circle cx="121.8" cy="437.4" r="1.25"/><circle cx="129.7" cy="437.4" r="1.25"/><circle cx="137.6" cy="437.4" r="1.25"/><circle cx="145.4" cy="437.4" r="1.25"/><circle cx="153.3" cy="437.4" r="1.25"/><circle cx="161.2" cy="437.4" r="1.25"/><circle cx="169.2" cy="437.4" r="1.25"/><circle cx="224.4" cy="437.4" r="1.25"/><circle cx="125.7" cy="441.7" r="1.25"/><circle cx="133.6" cy="441.7" r="1.25"/><circle cx="141.5" cy="441.7" r="1.25"/><circle cx="149.4" cy="441.7" r="1.25"/><circle cx="157.3" cy="441.7" r="1.25"/><circle cx="165.2" cy="441.7" r="1.25"/><circle cx="173.1" cy="441.7" r="1.25"/><circle cx="137.6" cy="446.0" r="1.25"/><circle cx="145.4" cy="446.0" r="1.25"/><circle cx="153.3" cy="446.0" r="1.25"/><circle cx="161.2" cy="446.0" r="1.25"/><circle cx="169.2" cy="446.0" r="1.25"/><circle cx="141.5" cy="450.4" r="1.25"/><circle cx="149.4" cy="450.4" r="1.25"/><circle cx="157.3" cy="450.4" r="1.25"/><circle cx="165.2" cy="450.4" r="1.25"/><circle cx="173.1" cy="450.4" r="1.25"/><circle cx="74.3" cy="454.7" r="1.25"/><circle cx="224.4" cy="454.7" r="1.25"/><circle cx="327.1" cy="454.7" r="1.25"/><circle cx="335.1" cy="454.7" r="1.25"/><circle cx="78.3" cy="459.1" r="1.25"/><circle cx="149.4" cy="459.1" r="1.25"/><circle cx="157.3" cy="459.1" r="1.25"/><circle cx="165.2" cy="459.1" r="1.25"/><circle cx="173.1" cy="459.1" r="1.25"/><circle cx="228.4" cy="459.1" r="1.25"/><circle cx="323.2" cy="459.1" r="1.25"/><circle cx="331.1" cy="459.1" r="1.25"/><circle cx="113.8" cy="463.4" r="1.25"/><circle cx="121.8" cy="463.4" r="1.25"/><circle cx="129.7" cy="463.4" r="1.25"/><circle cx="311.4" cy="463.4" r="1.25"/><circle cx="319.2" cy="463.4" r="1.25"/><circle cx="117.8" cy="467.7" r="1.25"/><circle cx="125.7" cy="467.7" r="1.25"/><circle cx="133.6" cy="467.7" r="1.25"/><circle cx="307.4" cy="467.7" r="1.25"/><circle cx="315.3" cy="467.7" r="1.25"/><circle cx="113.8" cy="472.1" r="1.25"/><circle cx="121.8" cy="472.1" r="1.25"/><circle cx="129.7" cy="472.1" r="1.25"/><circle cx="137.6" cy="472.1" r="1.25"/><circle cx="311.4" cy="472.1" r="1.25"/><circle cx="319.2" cy="472.1" r="1.25"/><circle cx="117.8" cy="476.4" r="1.25"/><circle cx="125.7" cy="476.4" r="1.25"/><circle cx="133.6" cy="476.4" r="1.25"/><circle cx="141.5" cy="476.4" r="1.25"/><circle cx="113.8" cy="480.8" r="1.25"/><circle cx="121.8" cy="480.8" r="1.25"/><circle cx="129.7" cy="480.8" r="1.25"/><circle cx="137.6" cy="480.8" r="1.25"/><circle cx="145.4" cy="480.8" r="1.25"/><circle cx="86.2" cy="485.1" r="1.25"/><circle cx="117.8" cy="485.1" r="1.25"/><circle cx="125.7" cy="485.1" r="1.25"/><circle cx="133.6" cy="485.1" r="1.25"/><circle cx="141.5" cy="485.1" r="1.25"/><circle cx="149.4" cy="485.1" r="1.25"/><circle cx="275.8" cy="485.1" r="1.25"/><circle cx="82.2" cy="489.4" r="1.25"/><circle cx="90.2" cy="489.4" r="1.25"/><circle cx="113.8" cy="489.4" r="1.25"/><circle cx="121.8" cy="489.4" r="1.25"/><circle cx="129.7" cy="489.4" r="1.25"/><circle cx="137.6" cy="489.4" r="1.25"/><circle cx="145.4" cy="489.4" r="1.25"/><circle cx="153.3" cy="489.4" r="1.25"/><circle cx="271.9" cy="489.4" r="1.25"/><circle cx="279.8" cy="489.4" r="1.25"/><circle cx="78.3" cy="493.8" r="1.25"/><circle cx="86.2" cy="493.8" r="1.25"/><circle cx="94.1" cy="493.8" r="1.25"/><circle cx="102.0" cy="493.8" r="1.25"/><circle cx="109.9" cy="493.8" r="1.25"/><circle cx="117.8" cy="493.8" r="1.25"/><circle cx="125.7" cy="493.8" r="1.25"/><circle cx="133.6" cy="493.8" r="1.25"/><circle cx="141.5" cy="493.8" r="1.25"/><circle cx="149.4" cy="493.8" r="1.25"/><circle cx="157.3" cy="493.8" r="1.25"/><circle cx="188.9" cy="493.8" r="1.25"/><circle cx="196.8" cy="493.8" r="1.25"/><circle cx="275.8" cy="493.8" r="1.25"/><circle cx="58.5" cy="498.1" r="1.25"/><circle cx="74.3" cy="498.1" r="1.25"/><circle cx="82.2" cy="498.1" r="1.25"/><circle cx="90.2" cy="498.1" r="1.25"/><circle cx="98.0" cy="498.1" r="1.25"/><circle cx="105.9" cy="498.1" r="1.25"/><circle cx="113.8" cy="498.1" r="1.25"/><circle cx="121.8" cy="498.1" r="1.25"/><circle cx="129.7" cy="498.1" r="1.25"/><circle cx="137.6" cy="498.1" r="1.25"/><circle cx="145.4" cy="498.1" r="1.25"/><circle cx="153.3" cy="498.1" r="1.25"/><circle cx="161.2" cy="498.1" r="1.25"/><circle cx="184.9" cy="498.1" r="1.25"/><circle cx="192.8" cy="498.1" r="1.25"/><circle cx="200.8" cy="498.1" r="1.25"/><circle cx="62.5" cy="502.5" r="1.25"/><circle cx="78.3" cy="502.5" r="1.25"/><circle cx="86.2" cy="502.5" r="1.25"/><circle cx="94.1" cy="502.5" r="1.25"/><circle cx="102.0" cy="502.5" r="1.25"/><circle cx="109.9" cy="502.5" r="1.25"/><circle cx="117.8" cy="502.5" r="1.25"/><circle cx="125.7" cy="502.5" r="1.25"/><circle cx="133.6" cy="502.5" r="1.25"/><circle cx="141.5" cy="502.5" r="1.25"/><circle cx="149.4" cy="502.5" r="1.25"/><circle cx="157.3" cy="502.5" r="1.25"/><circle cx="165.2" cy="502.5" r="1.25"/><circle cx="188.9" cy="502.5" r="1.25"/><circle cx="196.8" cy="502.5" r="1.25"/><circle cx="26.9" cy="506.8" r="1.25"/><circle cx="34.8" cy="506.8" r="1.25"/><circle cx="66.5" cy="506.8" r="1.25"/><circle cx="74.3" cy="506.8" r="1.25"/><circle cx="82.2" cy="506.8" r="1.25"/><circle cx="90.2" cy="506.8" r="1.25"/><circle cx="98.0" cy="506.8" r="1.25"/><circle cx="105.9" cy="506.8" r="1.25"/><circle cx="113.8" cy="506.8" r="1.25"/><circle cx="121.8" cy="506.8" r="1.25"/><circle cx="129.7" cy="506.8" r="1.25"/><circle cx="137.6" cy="506.8" r="1.25"/><circle cx="145.4" cy="506.8" r="1.25"/><circle cx="153.3" cy="506.8" r="1.25"/><circle cx="161.2" cy="506.8" r="1.25"/><circle cx="169.2" cy="506.8" r="1.25"/><circle cx="295.6" cy="506.8" r="1.25"/><circle cx="303.5" cy="506.8" r="1.25"/><circle cx="311.4" cy="506.8" r="1.25"/><circle cx="30.9" cy="511.1" r="1.25"/><circle cx="70.4" cy="511.1" r="1.25"/><circle cx="78.3" cy="511.1" r="1.25"/><circle cx="86.2" cy="511.1" r="1.25"/><circle cx="94.1" cy="511.1" r="1.25"/><circle cx="102.0" cy="511.1" r="1.25"/><circle cx="109.9" cy="511.1" r="1.25"/><circle cx="117.8" cy="511.1" r="1.25"/><circle cx="125.7" cy="511.1" r="1.25"/><circle cx="133.6" cy="511.1" r="1.25"/><circle cx="141.5" cy="511.1" r="1.25"/><circle cx="149.4" cy="511.1" r="1.25"/><circle cx="157.3" cy="511.1" r="1.25"/><circle cx="165.2" cy="511.1" r="1.25"/><circle cx="173.1" cy="511.1" r="1.25"/><circle cx="299.5" cy="511.1" r="1.25"/><circle cx="307.4" cy="511.1" r="1.25"/><circle cx="50.6" cy="515.5" r="1.25"/><circle cx="58.5" cy="515.5" r="1.25"/><circle cx="66.5" cy="515.5" r="1.25"/><circle cx="74.3" cy="515.5" r="1.25"/><circle cx="82.2" cy="515.5" r="1.25"/><circle cx="90.2" cy="515.5" r="1.25"/><circle cx="98.0" cy="515.5" r="1.25"/><circle cx="105.9" cy="515.5" r="1.25"/><circle cx="113.8" cy="515.5" r="1.25"/><circle cx="121.8" cy="515.5" r="1.25"/><circle cx="129.7" cy="515.5" r="1.25"/><circle cx="137.6" cy="515.5" r="1.25"/><circle cx="145.4" cy="515.5" r="1.25"/><circle cx="153.3" cy="515.5" r="1.25"/><circle cx="161.2" cy="515.5" r="1.25"/><circle cx="169.2" cy="515.5" r="1.25"/><circle cx="177.1" cy="515.5" r="1.25"/><circle cx="208.7" cy="515.5" r="1.25"/><circle cx="216.6" cy="515.5" r="1.25"/><circle cx="287.6" cy="515.5" r="1.25"/><circle cx="295.6" cy="515.5" r="1.25"/></g><g clip-path="url(#clipB)" fill="none" stroke="#000" stroke-width="0.95" stroke-linejoin="round"><polyline points="22.1,348.0 30.0,347.0 38.4,347.3 39.4,343.5 37.9,338.6 38.9,335.6 36.4,331.6 36.7,329.6"/><polyline points="22.3,389.2 25.8,394.2 30.2,397.1 34.5,400.0 38.9,402.2 42.4,403.4 46.8,401.9 50.4,400.7 53.6,401.5 55.5,406.6 63.4,408.0 72.0,409.5 80.6,410.2 89.3,409.5 97.9,409.2 101.6,409.5 103.7,411.7 108.0,415.3 111.9,419.3 113.9,422.2 116.9,423.2 113.9,424.2 112.9,426.3 114.9,429.3 118.8,433.3 122.9,433.3 126.8,430.3 128.8,427.3 129.8,426.3 128.8,428.3 129.8,431.3 130.8,441.3 132.8,453.3 135.7,463.3 138.8,471.4 140.8,479.3 143.7,485.3 146.7,491.3 149.6,497.4 152.6,500.9 155.6,500.4 158.5,495.4 161.6,491.3 164.5,489.3 166.5,485.3 167.5,477.3 167.5,465.3 168.5,460.3 172.4,458.3 176.4,456.3 180.3,453.3 183.3,449.3 186.4,445.4 187.9,445.7 192.7,440.0 197.4,438.0 200.3,434.2 201.2,430.4 204.0,428.4 206.9,427.5 207.9,429.4 212.6,428.8 218.2,426.5 222.0,424.0 224.9,426.5 227.7,431.3 231.5,437.1 233.4,441.9 236.2,444.7 237.2,450.4 236.8,457.1 239.1,460.4 242.9,459.6 246.7,457.1 249.5,454.6 252.4,458.1 255.0,465.6 256.6,472.5 258.4,477.7 257.5,484.7 255.8,491.7 255.8,498.7 259.2,502.9 262.7,505.6 265.3,510.8 267.0,517.8 267.9,520.9"/><polyline points="22.3,409.5 23.0,407.3 25.1,406.6 25.8,409.5 25.1,413.1 26.6,416.1 31.7,416.5 36.0,415.3 41.0,415.0 46.1,408.8 50.4,404.4 51.1,412.4 54.7,417.5 61.9,420.3 66.2,424.0 66.9,426.2 64.0,430.6 60.5,435.7 57.6,440.1 54.7,444.4 48.9,448.0 44.6,451.6 38.9,454.6 31.7,457.5 28.8,460.1 22.1,463.1"/><polyline points="281.7,519.6 279.1,515.2 275.6,510.8 271.4,507.3 266.1,503.8 262.7,498.7 261.0,493.4 261.9,486.4 263.6,479.4 265.3,472.5 267.9,472.5 268.8,475.1 273.0,477.7 277.4,481.2 281.7,485.6 285.2,489.1 288.6,491.7 289.4,496.9 292.9,495.2 297.2,490.8 298.9,489.1 304.1,484.7 307.6,479.4 309.3,472.5 309.0,465.6 306.7,459.4 302.4,454.2 298.1,449.8 294.7,444.7 292.9,440.3 295.5,435.1 298.9,430.7 304.1,428.9 308.5,429.8 312.7,432.4 313.6,435.9 316.2,433.3 319.6,430.7 324.9,428.1 330.0,425.4 333.5,423.7 337.0,422.8"/><polyline points="229.9,473.6 229.2,480.8"/><polyline points="244.2,521.4 246.2,517.7 249.6,516.5 253.1,517.9 256.1,521.4"/><polygon points="36.9,478.4 39.4,477.6 42.0,478.0 40.4,479.3 37.5,479.3"/><polygon points="167.5,493.4 170.5,496.4 173.4,501.3 175.4,507.3 173.4,511.3 169.5,511.3 166.5,507.3 165.5,501.3 166.5,496.4"/><polygon points="306.7,442.1 310.2,438.6 315.4,437.7 318.0,439.4 317.1,442.9 313.6,446.4 309.3,446.4 306.7,444.7"/></g><rect x="102.5" y="357.5" width="88.9" height="106.5" fill="none" stroke="#333" stroke-width="0.9"/><path d="M67.5,330.6v6M67.5,517.4v-6M141.5,330.6v6M141.5,517.4v-6M215.6,330.6v6M215.6,517.4v-6M289.6,330.6v6M289.6,517.4v-6M21.5,352.4h5M336.3,352.4h-5M21.5,400.7h5M336.3,400.7h-5M21.5,449h5M336.3,449h-5M21.5,497.3h5M336.3,497.3h-5" stroke="#444" stroke-width="0.9" fill="none"/><rect x="21.5" y="330.6" width="314.8" height="186.8" fill="none" stroke="#6a6a6a" stroke-width="1.1"/><text x="67.5" y="525.6999999999999" font-size="6.6" text-anchor="middle" fill="#222">60°E</text><text x="141.5" y="525.6999999999999" font-size="6.6" text-anchor="middle" fill="#222">75°E</text><text x="215.6" y="525.6999999999999" font-size="6.6" text-anchor="middle" fill="#222">90°E</text><text x="289.6" y="525.6999999999999" font-size="6.6" text-anchor="middle" fill="#222">105°E</text><text x="19.5" y="355.2" font-size="6.6" text-anchor="end" fill="#222">36°N</text><text x="19.5" y="403.5" font-size="6.6" text-anchor="end" fill="#222">27°N</text><text x="19.5" y="451.8" font-size="6.6" text-anchor="end" fill="#222">18°N</text><text x="19.5" y="500.1" font-size="6.6" text-anchor="end" fill="#222">9°N</text><defs></defs><linearGradient id="cbA" x1="0" x2="1" y1="0" y2="0"><stop offset="0" stop-color="rgb(235, 10, 10)"/><stop offset="0.5" stop-color="#fff"/><stop offset="1" stop-color="rgb(25, 20, 230)"/></linearGradient><rect x="60.3" y="228.9" width="237.5" height="13.5" fill="url(#cbA)" stroke="#222" stroke-width="1"/><path d="M90.0,242.4v-8.1M119.7,242.4v-8.1M149.4,242.4v-8.1M179.1,242.4v-8.1M208.7,242.4v-8.1M238.4,242.4v-8.1M268.1,242.4v-8.1" stroke="#333" stroke-width="1" fill="none"/><text x="60.3" y="253.0" font-size="10.2" font-weight="bold" text-anchor="middle" fill="#1a1a1a">-0.8</text><text x="90.0" y="253.0" font-size="10.2" font-weight="bold" text-anchor="middle" fill="#1a1a1a">-0.6</text><text x="119.7" y="253.0" font-size="10.2" font-weight="bold" text-anchor="middle" fill="#1a1a1a">-0.4</text><text x="149.4" y="253.0" font-size="10.2" font-weight="bold" text-anchor="middle" fill="#1a1a1a">-0.2</text><text x="179.1" y="253.0" font-size="10.2" font-weight="bold" text-anchor="middle" fill="#1a1a1a">0</text><text x="208.7" y="253.0" font-size="10.2" font-weight="bold" text-anchor="middle" fill="#1a1a1a">0.2</text><text x="238.4" y="253.0" font-size="10.2" font-weight="bold" text-anchor="middle" fill="#1a1a1a">0.4</text><text x="268.1" y="253.0" font-size="10.2" font-weight="bold" text-anchor="middle" fill="#1a1a1a">0.6</text><text x="297.8" y="253.0" font-size="10.2" font-weight="bold" text-anchor="middle" fill="#1a1a1a">0.8</text><text x="179.2" y="263.7" font-size="11" text-anchor="middle" fill="#111" textLength="111.8" lengthAdjust="spacingAndGlyphs">Correlation Coefficients</text><linearGradient id="cbB" x1="0" x2="1" y1="0" y2="0"><stop offset="0" stop-color="rgb(235, 10, 10)"/><stop offset="0.5" stop-color="#fff"/><stop offset="1" stop-color="rgb(25, 20, 230)"/></linearGradient><rect x="60.3" y="537.1" width="237.5" height="14.2" fill="url(#cbB)" stroke="#222" stroke-width="1"/><path d="M90.0,551.3000000000001v-8.5M119.7,551.3000000000001v-8.5M149.4,551.3000000000001v-8.5M179.1,551.3000000000001v-8.5M208.7,551.3000000000001v-8.5M238.4,551.3000000000001v-8.5M268.1,551.3000000000001v-8.5" stroke="#333" stroke-width="1" fill="none"/><text x="60.3" y="561.9" font-size="10.2" font-weight="bold" text-anchor="middle" fill="#1a1a1a">-0.8</text><text x="90.0" y="561.9" font-size="10.2" font-weight="bold" text-anchor="middle" fill="#1a1a1a">-0.6</text><text x="119.7" y="561.9" font-size="10.2" font-weight="bold" text-anchor="middle" fill="#1a1a1a">-0.4</text><text x="149.4" y="561.9" font-size="10.2" font-weight="bold" text-anchor="middle" fill="#1a1a1a">-0.2</text><text x="179.1" y="561.9" font-size="10.2" font-weight="bold" text-anchor="middle" fill="#1a1a1a">0</text><text x="208.7" y="561.9" font-size="10.2" font-weight="bold" text-anchor="middle" fill="#1a1a1a">0.2</text><text x="238.4" y="561.9" font-size="10.2" font-weight="bold" text-anchor="middle" fill="#1a1a1a">0.4</text><text x="268.1" y="561.9" font-size="10.2" font-weight="bold" text-anchor="middle" fill="#1a1a1a">0.6</text><text x="297.8" y="561.9" font-size="10.2" font-weight="bold" text-anchor="middle" fill="#1a1a1a">0.8</text><text x="179.2" y="577.0" font-size="11" text-anchor="middle" fill="#111" textLength="111.8" lengthAdjust="spacingAndGlyphs">Correlation Coefficients</text><text x="1.3" y="17.8" font-size="14" font-weight="bold" fill="#111">a</text><text x="77.1" y="11.6" font-size="10.4" font-weight="bold" fill="#111" textLength="206.4" lengthAdjust="spacingAndGlyphs">JJAS ARAB(%) vs. Precipitation (IsoGSM2)</text><text x="-0.5" y="312" font-size="14" font-weight="bold" fill="#111">b</text><text x="87.7" y="321" font-size="10.4" font-weight="bold" fill="#111" textLength="192.6" lengthAdjust="spacingAndGlyphs">AS LND (%) vs. Precipitation (IsoGSM2)</text><path d="M397.5,138.7H624.8" stroke="#8a8a8a" stroke-width="1.6"/><path d="M397.5,58.31V218.69M397.5,218.7h-4.5M397.5,205.3h-2.3M397.5,192.0h-4.5M397.5,178.6h-2.3M397.5,165.2h-4.5M397.5,151.9h-2.3M397.5,138.5h-4.5M397.5,125.1h-2.3M397.5,111.8h-4.5M397.5,98.4h-2.3M397.5,85.0h-4.5M397.5,71.7h-2.3M397.5,58.3h-4.5" stroke="#222" stroke-width="1" fill="none"/><text x="392.0" y="221.9" font-size="9" text-anchor="end" fill="#222">-3</text><text x="392.0" y="195.2" font-size="9" text-anchor="end" fill="#222">-2</text><text x="392.0" y="168.4" font-size="9" text-anchor="end" fill="#222">-1</text><text x="392.0" y="141.7" font-size="9" text-anchor="end" fill="#222">0</text><text x="392.0" y="115.0" font-size="9" text-anchor="end" fill="#222">1</text><text x="392.0" y="88.2" font-size="9" text-anchor="end" fill="#222">2</text><text x="392.0" y="60.0" font-size="9" text-anchor="end" fill="#222">3</text><path d="M624.8,58.31V218.69M624.8,218.7h4.5M624.8,205.3h3M624.8,192.0h4.5M624.8,178.6h3M624.8,165.2h4.5M624.8,151.9h3M624.8,138.5h4.5M624.8,125.1h3M624.8,111.8h4.5M624.8,98.4h3M624.8,85.0h4.5M624.8,71.7h3M624.8,58.3h4.5" stroke="#e8212b" stroke-width="1" fill="none"/><text x="631.3" y="221.7" font-size="10" fill="#e8212b">3</text><text x="631.3" y="195.0" font-size="10" fill="#e8212b">2</text><text x="631.3" y="168.2" font-size="10" fill="#e8212b">1</text><text x="631.3" y="141.5" font-size="10" fill="#e8212b">0</text><text x="631.3" y="114.8" font-size="10" fill="#e8212b">-1</text><text x="631.3" y="88.0" font-size="10" fill="#e8212b">-2</text><text x="631.3" y="61.3" font-size="10" fill="#e8212b">-3</text><path d="M644.7,58.31V218.69M644.7,218.7h4.5M644.7,205.3h3M644.7,192.0h4.5M644.7,178.6h3M644.7,165.2h4.5M644.7,151.9h3M644.7,138.5h4.5M644.7,125.1h3M644.7,111.8h4.5M644.7,98.4h3M644.7,85.0h4.5M644.7,71.7h3M644.7,58.3h4.5" stroke="#1f1ff0" stroke-width="1" fill="none"/><text x="651.2" y="221.7" font-size="10" fill="#1f1ff0">3</text><text x="651.2" y="195.0" font-size="10" fill="#1f1ff0">2</text><text x="651.2" y="168.2" font-size="10" fill="#1f1ff0">1</text><text x="651.2" y="141.5" font-size="10" fill="#1f1ff0">0</text><text x="651.2" y="114.8" font-size="10" fill="#1f1ff0">-1</text><text x="651.2" y="88.0" font-size="10" fill="#1f1ff0">-2</text><text x="651.2" y="61.3" font-size="10" fill="#1f1ff0">-3</text><path d="M662.3,58.31V218.69M662.3,218.7h4.5M662.3,205.3h3M662.3,192.0h4.5M662.3,178.6h3M662.3,165.2h4.5M662.3,151.9h3M662.3,138.5h4.5M662.3,125.1h3M662.3,111.8h4.5M662.3,98.4h3M662.3,85.0h4.5M662.3,71.7h3M662.3,58.3h4.5" stroke="#2385cc" stroke-width="1" fill="none"/><text x="668.8" y="221.7" font-size="10" fill="#2385cc">3</text><text x="668.8" y="195.0" font-size="10" fill="#2385cc">2</text><text x="668.8" y="168.2" font-size="10" fill="#2385cc">1</text><text x="668.8" y="141.5" font-size="10" fill="#2385cc">0</text><text x="668.8" y="114.8" font-size="10" fill="#2385cc">-1</text><text x="668.8" y="88.0" font-size="10" fill="#2385cc">-2</text><text x="668.8" y="61.3" font-size="10" fill="#2385cc">-3</text><polyline points="401.1,123.8 408.0,103.5 414.9,105.1 421.9,167.4 428.8,89.6 435.7,151.1 442.6,143.3 449.5,144.6 456.5,175.9 463.4,134.5 470.3,117.9 477.2,139.8 484.1,147.6 491.1,138.5 498.0,165.8 504.9,96.8 511.8,147.6 518.7,122.5 525.7,155.3 532.6,150.5 539.5,142.5 546.4,151.6 553.3,135.8 560.3,178.3 567.2,195.7 574.1,148.7 581.0,111.8 587.9,74.6 594.9,128.9 601.8,148.7 608.7,158.3 615.6,101.1" fill="none" stroke="#e8212b" stroke-width="1.15" stroke-linejoin="miter" stroke-miterlimit="1.5"/><polyline points="401.1,154.8 408.0,132.4 414.9,139.3 421.9,162.8 428.8,107.8 435.7,150.0 442.6,165.2 449.5,167.1 456.5,174.6 463.4,133.4 470.3,161.2 477.2,152.4 484.1,161.2 491.1,153.2 498.0,163.1 504.9,121.9 511.8,144.1 518.7,165.8 525.7,107.2 532.6,144.6 539.5,152.4 546.4,169.8 553.3,151.6 560.3,158.5 567.2,124.1 574.1,115.8 581.0,85.3 587.9,88.8 594.9,97.1 601.8,100.0 608.7,153.5 615.6,91.7" fill="none" stroke="#111" stroke-width="1.15" stroke-linejoin="miter" stroke-miterlimit="1.5"/><polyline points="401.1,127.3 408.0,110.2 414.9,127.8 421.9,147.1 428.8,93.3 435.7,148.1 442.6,141.7 449.5,163.9 456.5,179.9 463.4,129.7 470.3,133.4 477.2,174.1 484.1,173.0 491.1,136.4 498.0,165.2 504.9,114.2 511.8,142.2 518.7,125.4 525.7,163.9 532.6,147.6 539.5,158.5 546.4,154.5 553.3,154.0 560.3,181.8 567.2,111.8 574.1,137.7 581.0,113.4 587.9,82.9 594.9,117.1 601.8,133.4 608.7,155.9 615.6,84.8" fill="none" stroke="#1f1ff0" stroke-width="1.15" stroke-linejoin="miter" stroke-miterlimit="1.5"/><polyline points="401.1,146.0 408.0,125.7 414.9,137.2 421.9,171.6 428.8,93.6 435.7,159.3 442.6,166.6 449.5,171.1 456.5,197.0 463.4,115.0 470.3,133.4 477.2,167.6 484.1,165.8 491.1,117.1 498.0,146.5 504.9,103.5 511.8,102.4 518.7,135.8 525.7,137.4 532.6,146.5 539.5,163.1 546.4,155.9 553.3,161.8 560.3,154.5 567.2,125.4 574.1,134.8 581.0,117.1 587.9,83.4 594.9,118.2 601.8,115.8 608.7,131.3 615.6,94.1" fill="none" stroke="#2385cc" stroke-width="1.15" stroke-linejoin="miter" stroke-miterlimit="1.5"/><path d="M397.8,414.8H626.4" stroke="#8a8a8a" stroke-width="1.6"/><path d="M397.8,315.2V481.20000000000005M397.8,481.2h-4.5M397.8,464.6h-2.3M397.8,448.0h-4.5M397.8,431.4h-2.3M397.8,414.8h-4.5M397.8,398.2h-2.3M397.8,381.6h-4.5M397.8,365.0h-2.3M397.8,348.4h-4.5M397.8,331.8h-2.3M397.8,315.2h-4.5" stroke="#222" stroke-width="1" fill="none"/><text x="392.3" y="484.4" font-size="9" text-anchor="end" fill="#222">-2</text><text x="392.3" y="451.2" font-size="9" text-anchor="end" fill="#222">-1</text><text x="392.3" y="418.0" font-size="9" text-anchor="end" fill="#222">0</text><text x="392.3" y="384.8" font-size="9" text-anchor="end" fill="#222">1</text><text x="392.3" y="351.6" font-size="9" text-anchor="end" fill="#222">2</text><text x="392.3" y="318.4" font-size="9" text-anchor="end" fill="#222">3</text><path d="M626.4,315.2V481.20000000000005M626.4,481.2h4.5M626.4,464.6h3M626.4,448.0h4.5M626.4,431.4h3M626.4,414.8h4.5M626.4,398.2h3M626.4,381.6h4.5M626.4,365.0h3M626.4,348.4h4.5M626.4,331.8h3M626.4,315.2h4.5" stroke="#e8212b" stroke-width="1" fill="none"/><text x="632.9" y="484.2" font-size="10" fill="#e8212b">-2</text><text x="632.9" y="451.0" font-size="10" fill="#e8212b">-1</text><text x="632.9" y="417.8" font-size="10" fill="#e8212b">0</text><text x="632.9" y="384.6" font-size="10" fill="#e8212b">1</text><text x="632.9" y="351.4" font-size="10" fill="#e8212b">2</text><text x="632.9" y="318.2" font-size="10" fill="#e8212b">3</text><path d="M649.5,315.2V481.20000000000005M649.5,481.2h4.5M649.5,464.6h3M649.5,448.0h4.5M649.5,431.4h3M649.5,414.8h4.5M649.5,398.2h3M649.5,381.6h4.5M649.5,365.0h3M649.5,348.4h4.5M649.5,331.8h3M649.5,315.2h4.5" stroke="#2385cc" stroke-width="1" fill="none"/><text x="656.0" y="484.2" font-size="10" fill="#2385cc">2</text><text x="656.0" y="451.0" font-size="10" fill="#2385cc">1</text><text x="656.0" y="417.8" font-size="10" fill="#2385cc">0</text><text x="656.0" y="384.6" font-size="10" fill="#2385cc">-1</text><text x="656.0" y="351.4" font-size="10" fill="#2385cc">-2</text><text x="656.0" y="318.2" font-size="10" fill="#2385cc">-3</text><path d="M669.2,315.2V481.20000000000005M669.2,481.2h4.5M669.2,464.6h3M669.2,448.0h4.5M669.2,431.4h3M669.2,414.8h4.5M669.2,398.2h3M669.2,381.6h4.5M669.2,365.0h3M669.2,348.4h4.5M669.2,331.8h3M669.2,315.2h4.5" stroke="#1f1ff0" stroke-width="1" fill="none"/><text x="675.7" y="484.2" font-size="10" fill="#1f1ff0">2</text><text x="675.7" y="451.0" font-size="10" fill="#1f1ff0">1</text><text x="675.7" y="417.8" font-size="10" fill="#1f1ff0">0</text><text x="675.7" y="384.6" font-size="10" fill="#1f1ff0">-1</text><text x="675.7" y="351.4" font-size="10" fill="#1f1ff0">-2</text><text x="675.7" y="318.2" font-size="10" fill="#1f1ff0">-3</text><polyline points="400.9,394.2 407.8,417.8 414.8,401.9 421.7,410.2 428.6,350.4 435.5,416.8 442.5,402.5 449.4,437.4 456.3,465.9 463.3,403.2 470.2,416.5 477.1,431.7 484.1,463.6 491.0,395.2 497.9,463.6 504.8,391.9 511.8,411.5 518.7,393.6 525.6,441.7 532.6,428.1 539.5,435.4 546.4,444.7 553.4,453.3 560.3,441.0 567.2,378.9 574.1,406.2 581.1,401.2 588.0,337.4 594.9,422.1 601.9,389.6 608.8,458.6 615.7,345.7" fill="none" stroke="#1f1ff0" stroke-width="1.15" stroke-linejoin="miter" stroke-miterlimit="1.5"/><polyline points="400.9,421.1 407.8,438.7 414.8,407.2 421.7,438.0 428.6,363.3 435.5,427.4 442.5,433.1 449.4,458.0 456.3,478.9 463.3,373.6 470.2,427.1 477.1,421.1 484.1,455.3 491.0,372.6 497.9,444.7 504.8,374.6 511.8,371.3 518.7,411.1 525.6,410.2 532.6,423.4 539.5,442.0 546.4,450.0 553.4,453.3 560.3,410.8 567.2,404.8 574.1,412.5 581.1,399.9 588.0,338.8 594.9,423.4 601.9,369.0 608.8,395.2 615.7,388.9" fill="none" stroke="#2385cc" stroke-width="1.15" stroke-linejoin="miter" stroke-miterlimit="1.5"/><polyline points="400.9,422.4 407.8,469.6 414.8,407.2 421.7,430.7 428.6,400.9 435.5,427.7 442.5,450.0 449.4,413.1 456.3,475.2 463.3,424.8 470.2,434.1 477.1,443.4 484.1,467.6 491.0,379.9 497.9,457.6 504.8,388.2 511.8,402.5 518.7,410.5 525.6,407.5 532.6,398.2 539.5,415.1 546.4,449.3 553.4,408.5 560.3,411.5 567.2,410.8 574.1,409.5 581.1,356.4 588.0,331.8 594.9,375.0 601.9,372.0 608.8,421.1 615.7,375.3" fill="none" stroke="#e8212b" stroke-width="1.15" stroke-linejoin="miter" stroke-miterlimit="1.5"/><polyline points="400.9,441.7 407.8,434.7 414.8,416.5 421.7,427.7 428.6,380.3 435.5,418.1 442.5,446.0 449.4,460.3 456.3,463.3 463.3,416.5 470.2,442.4 477.1,396.5 484.1,443.4 491.0,402.5 497.9,451.7 504.8,398.9 511.8,413.1 518.7,430.1 525.6,397.5 532.6,400.5 539.5,438.0 546.4,454.3 553.4,453.3 560.3,406.2 567.2,396.9 574.1,379.9 581.1,384.3 588.0,349.4 594.9,365.0 601.9,358.0 608.8,443.4 615.7,355.0" fill="none" stroke="#111" stroke-width="1.15" stroke-linejoin="miter" stroke-miterlimit="1.5"/><text x="378.1" y="29.9" font-size="13.2" font-weight="bold" fill="#111">c</text><text x="498.0" y="7.7" font-size="10.2" font-weight="bold" textLength="37.2" lengthAdjust="spacingAndGlyphs" fill="#111">Year CE</text><path d="M401.5,31.5H615.2M401.5,31.5v-3.4M408.4,31.5v-6M415.3,31.5v-3.4M422.2,31.5v-3.4M429.1,31.5v-3.4M436.0,31.5v-3.4M442.9,31.5v-6M449.8,31.5v-3.4M456.6,31.5v-3.4M463.5,31.5v-3.4M470.4,31.5v-3.4M477.3,31.5v-6M484.2,31.5v-3.4M491.1,31.5v-3.4M498.0,31.5v-3.4M504.9,31.5v-3.4M511.8,31.5v-6M518.7,31.5v-3.4M525.6,31.5v-3.4M532.5,31.5v-3.4M539.4,31.5v-3.4M546.3,31.5v-6M553.1,31.5v-3.4M560.0,31.5v-3.4M566.9,31.5v-3.4M573.8,31.5v-3.4M580.7,31.5v-6M587.6,31.5v-3.4M594.5,31.5v-3.4M601.4,31.5v-3.4M608.3,31.5v-3.4M615.2,31.5v-6" stroke="#222" stroke-width="1" fill="none"/><text x="400.8" y="22.9" font-size="9.9" font-weight="bold" fill="#111" textLength="21.4" lengthAdjust="spacingAndGlyphs">1980</text><text x="435.3" y="22.9" font-size="9.9" font-weight="bold" fill="#111" textLength="21.4" lengthAdjust="spacingAndGlyphs">1985</text><text x="469.7" y="22.9" font-size="9.9" font-weight="bold" fill="#111" textLength="21.4" lengthAdjust="spacingAndGlyphs">1990</text><text x="504.2" y="22.9" font-size="9.9" font-weight="bold" fill="#111" textLength="21.4" lengthAdjust="spacingAndGlyphs">1995</text><text x="538.7" y="22.9" font-size="9.9" font-weight="bold" fill="#111" textLength="21.4" lengthAdjust="spacingAndGlyphs">2000</text><text x="573.1" y="22.9" font-size="9.9" font-weight="bold" fill="#111" textLength="21.4" lengthAdjust="spacingAndGlyphs">2005</text><text x="607.6" y="22.9" font-size="9.9" font-weight="bold" fill="#111" textLength="21.4" lengthAdjust="spacingAndGlyphs">2010</text><text x="405.8" y="43.1" font-size="10.1" font-weight="bold" textLength="117.6" lengthAdjust="spacingAndGlyphs" fill="#111">Monsoon Season (JJAS)</text><text x="404.2" y="56.4" font-size="10.6" textLength="63.6" lengthAdjust="spacingAndGlyphs" fill="#e8212b">ARAB&#160;&#160;(% TPW)</text><text x="474.4" y="56.4" font-size="12" fill="#1f1ff0" textLength="33.7" lengthAdjust="spacingAndGlyphs">δ<tspan font-size="7" dy="-4.2">18</tspan><tspan dy="4.2">O</tspan><tspan font-size="7" dy="2.6">pw</tspan></text><text x="512" y="56.4" font-size="12" fill="#2385cc" textLength="24.2" lengthAdjust="spacingAndGlyphs">δ<tspan font-size="7" dy="-4.2">18</tspan><tspan dy="4.2">O</tspan><tspan font-size="7" dy="2.6">p</tspan></text><text x="545.4" y="56.4" font-size="11.6" textLength="23.3" lengthAdjust="spacingAndGlyphs" fill="#222">prcp</text><text transform="translate(378.8,136.8) rotate(-90)" font-size="9.25" font-weight="bold" text-anchor="middle" fill="#111">JJAS precipitation (Z-score)</text><text x="418.7" y="234.5" font-size="9.3" font-weight="bold" text-anchor="middle" fill="#111">Prcp vs. δ<tspan font-size="6" dy="-3.5">18</tspan><tspan dy="3.5">O</tspan><tspan font-size="6" dy="2">p</tspan></text><text x="418.7" y="246.9" font-size="9.3" font-weight="bold" text-anchor="middle" fill="#111"><tspan font-style="italic">r</tspan> = -0.77</text><text x="418.7" y="259.3" font-size="9.3" font-weight="bold" text-anchor="middle" fill="#111">[-0.88, -0.54]</text><text x="418.7" y="271.7" font-size="9.3" font-weight="bold" text-anchor="middle" fill="#111"><tspan font-style="italic">N</tspan> = 32, <tspan font-style="italic">edof</tspan> = 25.0</text><text x="514.5" y="234.5" font-size="9.3" font-weight="bold" text-anchor="middle" fill="#111">Prcp vs. ARAB(%)</text><text x="514.5" y="246.9" font-size="9.3" font-weight="bold" text-anchor="middle" fill="#111"><tspan font-style="italic">r</tspan> = -0.47</text><text x="514.5" y="259.3" font-size="9.3" font-weight="bold" text-anchor="middle" fill="#111">[-0.76, -0.03]</text><text x="514.5" y="271.7" font-size="9.3" font-weight="bold" text-anchor="middle" fill="#111"><tspan font-style="italic">N</tspan> = 32, <tspan font-style="italic">edof</tspan> = 29.9</text><text x="610.3" y="234.5" font-size="9.3" font-weight="bold" text-anchor="middle" fill="#111">Prcp vs. δ<tspan font-size="6" dy="-3.5">18</tspan><tspan dy="3.5">O</tspan><tspan font-size="6" dy="2">pw</tspan></text><text x="610.3" y="246.9" font-size="9.3" font-weight="bold" text-anchor="middle" fill="#111"><tspan font-style="italic">r</tspan> = -0.71</text><text x="610.3" y="259.3" font-size="9.3" font-weight="bold" text-anchor="middle" fill="#111">[-0.89, -0.34]</text><text x="610.3" y="271.7" font-size="9.3" font-weight="bold" text-anchor="middle" fill="#111"><tspan font-style="italic">N</tspan> = 32, <tspan font-style="italic">edof</tspan> = 27.4</text><text x="383.5" y="307.6" font-size="14" font-weight="bold" fill="#111">d</text><text x="404.7" y="307.3" font-size="10.35" font-weight="bold" textLength="155.3" lengthAdjust="spacingAndGlyphs" fill="#111">Mid-Late Monsoon Season (AS)</text><text x="404.9" y="322" font-size="10.4" textLength="58.3" lengthAdjust="spacingAndGlyphs" fill="#e8212b">LND&#160;&#160;(% TPW)</text><text x="465.7" y="322" font-size="12" fill="#1f1ff0" textLength="33.7" lengthAdjust="spacingAndGlyphs">δ<tspan font-size="7" dy="-4.2">18</tspan><tspan dy="4.2">O</tspan><tspan font-size="7" dy="2.6">pw</tspan></text><text x="503.1" y="322" font-size="12" fill="#2385cc" textLength="24.2" lengthAdjust="spacingAndGlyphs">δ<tspan font-size="7" dy="-4.2">18</tspan><tspan dy="4.2">O</tspan><tspan font-size="7" dy="2.6">p</tspan></text><text x="537.8" y="322" font-size="11.6" textLength="23.3" lengthAdjust="spacingAndGlyphs" fill="#222">prcp</text><text transform="translate(375.3,413.2) rotate(-90)" font-size="9.25" font-weight="bold" text-anchor="middle" fill="#111">AS precipitation (Z-score)</text><text x="423.4" y="499.2" font-size="9.3" font-weight="bold" text-anchor="middle" fill="#111">Prcp vs. δ<tspan font-size="6" dy="-3.5">18</tspan><tspan dy="3.5">O</tspan><tspan font-size="6" dy="2">p</tspan></text><text x="423.4" y="511.4" font-size="9.3" font-weight="bold" text-anchor="middle" fill="#111"><tspan font-style="italic">r</tspan> = -0.74</text><text x="423.4" y="523.7" font-size="9.3" font-weight="bold" text-anchor="middle" fill="#111">[-0.84, -0.59]</text><text x="423.4" y="536.0" font-size="9.3" font-weight="bold" text-anchor="middle" fill="#111"><tspan font-style="italic">N</tspan> = 32, <tspan font-style="italic">edof</tspan> = 29.3</text><text x="516.3" y="499.2" font-size="9.3" font-weight="bold" text-anchor="middle" fill="#111">Prcp vs. LND(%)</text><text x="516.3" y="511.4" font-size="9.3" font-weight="bold" text-anchor="middle" fill="#111"><tspan font-style="italic">r</tspan> = 0.77</text><text x="516.3" y="523.7" font-size="9.3" font-weight="bold" text-anchor="middle" fill="#111">[0.53, 0.90]</text><text x="516.3" y="536.0" font-size="9.3" font-weight="bold" text-anchor="middle" fill="#111"><tspan font-style="italic">N</tspan> = 32, <tspan font-style="italic">edof</tspan> = 26.2</text><text x="610" y="499.2" font-size="9.3" font-weight="bold" text-anchor="middle" fill="#111">Prcp vs. δ<tspan font-size="6" dy="-3.5">18</tspan><tspan dy="3.5">O</tspan><tspan font-size="6" dy="2">pw</tspan></text><text x="610" y="511.4" font-size="9.3" font-weight="bold" text-anchor="middle" fill="#111"><tspan font-style="italic">r</tspan> = -0.70</text><text x="610" y="523.7" font-size="9.3" font-weight="bold" text-anchor="middle" fill="#111">[-0.85, -0.46]</text><text x="610" y="536.0" font-size="9.3" font-weight="bold" text-anchor="middle" fill="#111"><tspan font-style="italic">N</tspan> = 32, <tspan font-style="italic">edof</tspan> = 29.2</text><path d="M400.8,545.7H614.6M400.8,545.7v3.4M407.6,545.7v6M414.5,545.7v3.4M421.4,545.7v3.4M428.3,545.7v3.4M435.2,545.7v3.4M442.1,545.7v6M449.0,545.7v3.4M455.9,545.7v3.4M462.8,545.7v3.4M469.7,545.7v3.4M476.6,545.7v6M483.5,545.7v3.4M490.4,545.7v3.4M497.3,545.7v3.4M504.2,545.7v3.4M511.1,545.7v6M518.0,545.7v3.4M524.9,545.7v3.4M531.8,545.7v3.4M538.7,545.7v3.4M545.6,545.7v6M552.5,545.7v3.4M559.4,545.7v3.4M566.3,545.7v3.4M573.2,545.7v3.4M580.1,545.7v6M587.0,545.7v3.4M593.9,545.7v3.4M600.8,545.7v3.4M607.7,545.7v3.4M614.6,545.7v6" stroke="#222" stroke-width="1" fill="none"/><text x="399.1" y="561.2" font-size="9.9" font-weight="bold" fill="#111" textLength="21.4" lengthAdjust="spacingAndGlyphs">1980</text><text x="432.0" y="561.2" font-size="9.9" font-weight="bold" fill="#111" textLength="21.4" lengthAdjust="spacingAndGlyphs">1985</text><text x="468.9" y="561.2" font-size="9.9" font-weight="bold" fill="#111" textLength="21.4" lengthAdjust="spacingAndGlyphs">1990</text><text x="501.0" y="561.2" font-size="9.9" font-weight="bold" fill="#111" textLength="21.4" lengthAdjust="spacingAndGlyphs">1995</text><text x="533.9" y="561.2" font-size="9.9" font-weight="bold" fill="#111" textLength="21.4" lengthAdjust="spacingAndGlyphs">2000</text><text x="569.8" y="561.2" font-size="9.9" font-weight="bold" fill="#111" textLength="21.4" lengthAdjust="spacingAndGlyphs">2005</text><text x="607.2" y="561.2" font-size="9.9" font-weight="bold" fill="#111" textLength="21.4" lengthAdjust="spacingAndGlyphs">2010</text><text x="491.1" y="576.2" font-size="10.3" font-weight="bold" textLength="37.8" lengthAdjust="spacingAndGlyphs" fill="#111">Year CE</text></svg></body></html>
